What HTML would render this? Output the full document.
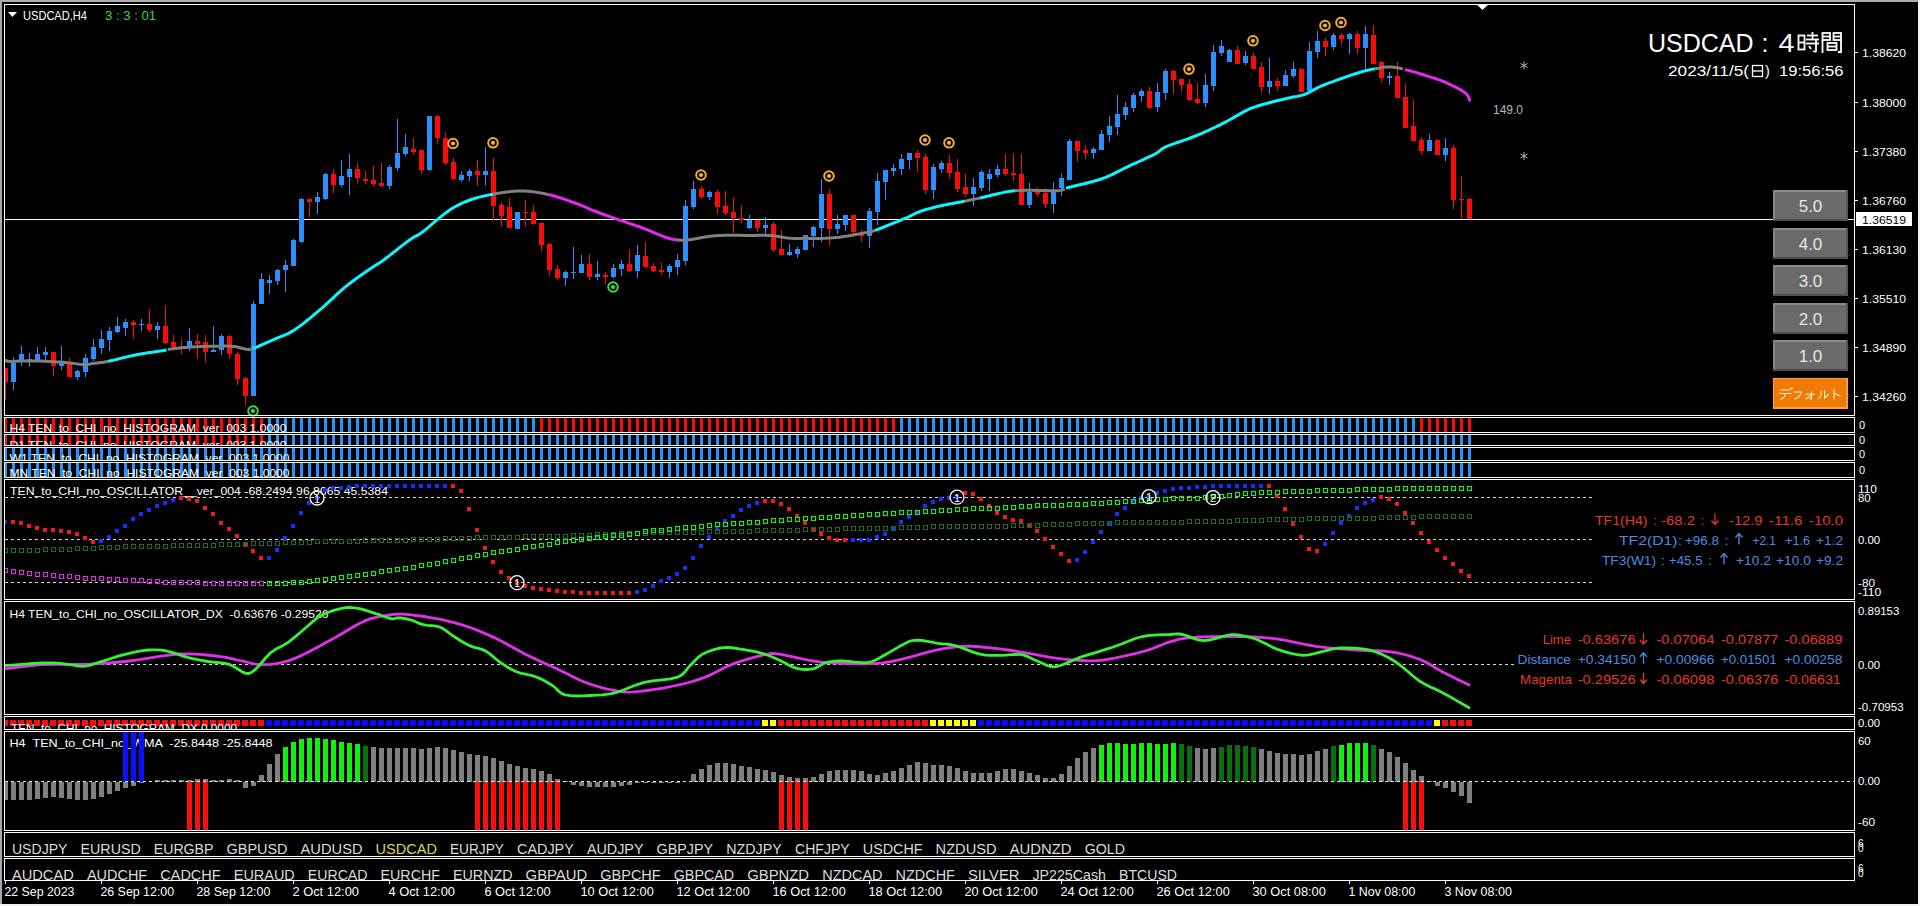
<!DOCTYPE html><html><head><meta charset="utf-8"><style>
html,body{margin:0;padding:0;background:#000;overflow:hidden;width:1920px;height:906px}
svg{display:block}
text{font-family:"Liberation Sans", sans-serif;white-space:pre}
</style></head><body>
<svg width="1920" height="906" viewBox="0 0 1920 906">
<defs><clipPath id="mainclip"><rect x="5" y="5" width="1849" height="410"/></clipPath><clipPath id="paneclip"><rect x="5" y="0" width="1849" height="906"/></clipPath></defs>
<rect x="0" y="0" width="1920" height="906" fill="#000"/>

<rect x="0" y="0" width="1920" height="2" fill="#ababab"/>
<rect x="0" y="0" width="2" height="906" fill="#a8a8a8"/>
<rect x="1918" y="0" width="2" height="906" fill="#f4f4f4"/>
<rect x="0" y="904" width="1920" height="2" fill="#f0f0f0"/>
<rect x="5" y="219" width="1849" height="1" fill="#fff"/>
<g shape-rendering="crispEdges" clip-path="url(#mainclip)"><rect x="5" y="368" width="1" height="32" fill="#fa0a0a"/><rect x="3" y="368" width="5" height="14" fill="#fa0a0a"/><rect x="13" y="357" width="1" height="33" fill="#2b90fb"/><rect x="11" y="363" width="5" height="19" fill="#2b90fb"/><rect x="21" y="346" width="1" height="20" fill="#2b90fb"/><rect x="19" y="354" width="5" height="6" fill="#2b90fb"/><rect x="29" y="353" width="1" height="14" fill="#2b90fb"/><rect x="27" y="359" width="5" height="1" fill="#2b90fb"/><rect x="37" y="347" width="1" height="13" fill="#2b90fb"/><rect x="35" y="354" width="5" height="6" fill="#2b90fb"/><rect x="45" y="347" width="1" height="13" fill="#2b90fb"/><rect x="43" y="352" width="5" height="3" fill="#2b90fb"/><rect x="53" y="352" width="1" height="24" fill="#fa0a0a"/><rect x="51" y="352" width="5" height="14" fill="#fa0a0a"/><rect x="61" y="346" width="1" height="24" fill="#2b90fb"/><rect x="59" y="363" width="5" height="3" fill="#2b90fb"/><rect x="69" y="358" width="1" height="19" fill="#fa0a0a"/><rect x="67" y="364" width="5" height="13" fill="#fa0a0a"/><rect x="77" y="370" width="1" height="10" fill="#2b90fb"/><rect x="75" y="371" width="5" height="6" fill="#2b90fb"/><rect x="85" y="354" width="1" height="23" fill="#2b90fb"/><rect x="83" y="358" width="5" height="14" fill="#2b90fb"/><rect x="93" y="339" width="1" height="22" fill="#2b90fb"/><rect x="91" y="347" width="5" height="12" fill="#2b90fb"/><rect x="101" y="330" width="1" height="24" fill="#2b90fb"/><rect x="99" y="339" width="5" height="9" fill="#2b90fb"/><rect x="109" y="327" width="1" height="24" fill="#2b90fb"/><rect x="107" y="331" width="5" height="9" fill="#2b90fb"/><rect x="117" y="317" width="1" height="16" fill="#2b90fb"/><rect x="115" y="326" width="5" height="6" fill="#2b90fb"/><rect x="125" y="319" width="1" height="17" fill="#2b90fb"/><rect x="123" y="322" width="5" height="6" fill="#2b90fb"/><rect x="133" y="320" width="1" height="19" fill="#fa0a0a"/><rect x="131" y="322" width="5" height="3" fill="#fa0a0a"/><rect x="141" y="319" width="1" height="12" fill="#2b90fb"/><rect x="139" y="324" width="5" height="1" fill="#2b90fb"/><rect x="149" y="309" width="1" height="23" fill="#fa0a0a"/><rect x="147" y="324" width="5" height="6" fill="#fa0a0a"/><rect x="157" y="322" width="1" height="17" fill="#2b90fb"/><rect x="155" y="326" width="5" height="4" fill="#2b90fb"/><rect x="165" y="305" width="1" height="39" fill="#fa0a0a"/><rect x="163" y="326" width="5" height="17" fill="#fa0a0a"/><rect x="173" y="335" width="1" height="12" fill="#fa0a0a"/><rect x="171" y="342" width="5" height="5" fill="#fa0a0a"/><rect x="181" y="339" width="1" height="15" fill="#fa0a0a"/><rect x="179" y="346" width="5" height="1" fill="#fa0a0a"/><rect x="189" y="328" width="1" height="23" fill="#2b90fb"/><rect x="187" y="341" width="5" height="6" fill="#2b90fb"/><rect x="197" y="334" width="1" height="25" fill="#fa0a0a"/><rect x="195" y="341" width="5" height="3" fill="#fa0a0a"/><rect x="205" y="335" width="1" height="28" fill="#fa0a0a"/><rect x="203" y="342" width="5" height="10" fill="#fa0a0a"/><rect x="213" y="326" width="1" height="26" fill="#2b90fb"/><rect x="211" y="350" width="5" height="2" fill="#2b90fb"/><rect x="221" y="334" width="1" height="21" fill="#2b90fb"/><rect x="219" y="336" width="5" height="14" fill="#2b90fb"/><rect x="229" y="335" width="1" height="24" fill="#fa0a0a"/><rect x="227" y="336" width="5" height="18" fill="#fa0a0a"/><rect x="237" y="352" width="1" height="33" fill="#fa0a0a"/><rect x="235" y="354" width="5" height="25" fill="#fa0a0a"/><rect x="245" y="377" width="1" height="28" fill="#fa0a0a"/><rect x="243" y="378" width="5" height="18" fill="#fa0a0a"/><rect x="253" y="301" width="1" height="95" fill="#2b90fb"/><rect x="251" y="304" width="5" height="92" fill="#2b90fb"/><rect x="261" y="273" width="1" height="31" fill="#2b90fb"/><rect x="259" y="279" width="5" height="25" fill="#2b90fb"/><rect x="269" y="275" width="1" height="19" fill="#2b90fb"/><rect x="267" y="280" width="5" height="3" fill="#2b90fb"/><rect x="277" y="269" width="1" height="16" fill="#2b90fb"/><rect x="275" y="270" width="5" height="11" fill="#2b90fb"/><rect x="285" y="260" width="1" height="32" fill="#2b90fb"/><rect x="283" y="265" width="5" height="5" fill="#2b90fb"/><rect x="293" y="239" width="1" height="27" fill="#2b90fb"/><rect x="291" y="240" width="5" height="26" fill="#2b90fb"/><rect x="301" y="198" width="1" height="45" fill="#2b90fb"/><rect x="299" y="199" width="5" height="43" fill="#2b90fb"/><rect x="309" y="199" width="1" height="18" fill="#fa0a0a"/><rect x="307" y="199" width="5" height="3" fill="#fa0a0a"/><rect x="317" y="192" width="1" height="22" fill="#2b90fb"/><rect x="315" y="197" width="5" height="5" fill="#2b90fb"/><rect x="325" y="173" width="1" height="27" fill="#2b90fb"/><rect x="323" y="174" width="5" height="25" fill="#2b90fb"/><rect x="333" y="169" width="1" height="24" fill="#fa0a0a"/><rect x="331" y="174" width="5" height="11" fill="#fa0a0a"/><rect x="341" y="160" width="1" height="27" fill="#2b90fb"/><rect x="339" y="176" width="5" height="9" fill="#2b90fb"/><rect x="349" y="154" width="1" height="41" fill="#2b90fb"/><rect x="347" y="169" width="5" height="8" fill="#2b90fb"/><rect x="357" y="163" width="1" height="21" fill="#fa0a0a"/><rect x="355" y="169" width="5" height="9" fill="#fa0a0a"/><rect x="365" y="171" width="1" height="13" fill="#fa0a0a"/><rect x="363" y="179" width="5" height="2" fill="#fa0a0a"/><rect x="373" y="166" width="1" height="20" fill="#fa0a0a"/><rect x="371" y="180" width="5" height="4" fill="#fa0a0a"/><rect x="381" y="163" width="1" height="24" fill="#fa0a0a"/><rect x="379" y="183" width="5" height="3" fill="#fa0a0a"/><rect x="389" y="165" width="1" height="24" fill="#2b90fb"/><rect x="387" y="167" width="5" height="19" fill="#2b90fb"/><rect x="397" y="119" width="1" height="52" fill="#2b90fb"/><rect x="395" y="153" width="5" height="15" fill="#2b90fb"/><rect x="405" y="134" width="1" height="22" fill="#2b90fb"/><rect x="403" y="147" width="5" height="7" fill="#2b90fb"/><rect x="413" y="138" width="1" height="17" fill="#fa0a0a"/><rect x="411" y="149" width="5" height="3" fill="#fa0a0a"/><rect x="421" y="150" width="1" height="24" fill="#fa0a0a"/><rect x="419" y="150" width="5" height="20" fill="#fa0a0a"/><rect x="429" y="116" width="1" height="55" fill="#2b90fb"/><rect x="427" y="116" width="5" height="54" fill="#2b90fb"/><rect x="437" y="115" width="1" height="29" fill="#fa0a0a"/><rect x="435" y="116" width="5" height="22" fill="#fa0a0a"/><rect x="445" y="132" width="1" height="33" fill="#fa0a0a"/><rect x="443" y="138" width="5" height="25" fill="#fa0a0a"/><rect x="453" y="158" width="1" height="22" fill="#fa0a0a"/><rect x="451" y="162" width="5" height="17" fill="#fa0a0a"/><rect x="461" y="171" width="1" height="11" fill="#2b90fb"/><rect x="459" y="175" width="5" height="5" fill="#2b90fb"/><rect x="469" y="169" width="1" height="12" fill="#2b90fb"/><rect x="467" y="171" width="5" height="5" fill="#2b90fb"/><rect x="477" y="160" width="1" height="26" fill="#fa0a0a"/><rect x="475" y="171" width="5" height="4" fill="#fa0a0a"/><rect x="485" y="147" width="1" height="38" fill="#2b90fb"/><rect x="483" y="171" width="5" height="4" fill="#2b90fb"/><rect x="493" y="158" width="1" height="62" fill="#fa0a0a"/><rect x="491" y="171" width="5" height="35" fill="#fa0a0a"/><rect x="501" y="202" width="1" height="25" fill="#fa0a0a"/><rect x="499" y="205" width="5" height="11" fill="#fa0a0a"/><rect x="509" y="198" width="1" height="30" fill="#fa0a0a"/><rect x="507" y="207" width="5" height="21" fill="#fa0a0a"/><rect x="517" y="212" width="1" height="17" fill="#2b90fb"/><rect x="515" y="212" width="5" height="17" fill="#2b90fb"/><rect x="525" y="200" width="1" height="27" fill="#fa0a0a"/><rect x="523" y="212" width="5" height="1" fill="#fa0a0a"/><rect x="533" y="205" width="1" height="20" fill="#fa0a0a"/><rect x="531" y="212" width="5" height="12" fill="#fa0a0a"/><rect x="541" y="223" width="1" height="29" fill="#fa0a0a"/><rect x="539" y="223" width="5" height="22" fill="#fa0a0a"/><rect x="549" y="243" width="1" height="33" fill="#fa0a0a"/><rect x="547" y="244" width="5" height="26" fill="#fa0a0a"/><rect x="557" y="265" width="1" height="15" fill="#fa0a0a"/><rect x="555" y="269" width="5" height="9" fill="#fa0a0a"/><rect x="565" y="271" width="1" height="15" fill="#2b90fb"/><rect x="563" y="272" width="5" height="6" fill="#2b90fb"/><rect x="573" y="247" width="1" height="32" fill="#2b90fb"/><rect x="571" y="272" width="5" height="1" fill="#2b90fb"/><rect x="581" y="255" width="1" height="18" fill="#2b90fb"/><rect x="579" y="264" width="5" height="9" fill="#2b90fb"/><rect x="589" y="254" width="1" height="26" fill="#fa0a0a"/><rect x="587" y="264" width="5" height="13" fill="#fa0a0a"/><rect x="597" y="261" width="1" height="19" fill="#2b90fb"/><rect x="595" y="274" width="5" height="3" fill="#2b90fb"/><rect x="605" y="272" width="1" height="12" fill="#fa0a0a"/><rect x="603" y="275" width="5" height="2" fill="#fa0a0a"/><rect x="613" y="264" width="1" height="14" fill="#2b90fb"/><rect x="611" y="268" width="5" height="9" fill="#2b90fb"/><rect x="621" y="260" width="1" height="16" fill="#2b90fb"/><rect x="619" y="264" width="5" height="5" fill="#2b90fb"/><rect x="629" y="249" width="1" height="23" fill="#fa0a0a"/><rect x="627" y="264" width="5" height="7" fill="#fa0a0a"/><rect x="637" y="245" width="1" height="33" fill="#2b90fb"/><rect x="635" y="255" width="5" height="16" fill="#2b90fb"/><rect x="645" y="242" width="1" height="26" fill="#fa0a0a"/><rect x="643" y="256" width="5" height="11" fill="#fa0a0a"/><rect x="653" y="263" width="1" height="9" fill="#fa0a0a"/><rect x="651" y="266" width="5" height="5" fill="#fa0a0a"/><rect x="661" y="263" width="1" height="12" fill="#fa0a0a"/><rect x="659" y="270" width="5" height="2" fill="#fa0a0a"/><rect x="669" y="264" width="1" height="14" fill="#2b90fb"/><rect x="667" y="266" width="5" height="6" fill="#2b90fb"/><rect x="677" y="254" width="1" height="21" fill="#2b90fb"/><rect x="675" y="260" width="5" height="7" fill="#2b90fb"/><rect x="685" y="200" width="1" height="65" fill="#2b90fb"/><rect x="683" y="206" width="5" height="55" fill="#2b90fb"/><rect x="693" y="181" width="1" height="28" fill="#2b90fb"/><rect x="691" y="189" width="5" height="18" fill="#2b90fb"/><rect x="701" y="186" width="1" height="13" fill="#fa0a0a"/><rect x="699" y="189" width="5" height="8" fill="#fa0a0a"/><rect x="709" y="191" width="1" height="9" fill="#2b90fb"/><rect x="707" y="192" width="5" height="5" fill="#2b90fb"/><rect x="717" y="190" width="1" height="24" fill="#fa0a0a"/><rect x="715" y="192" width="5" height="15" fill="#fa0a0a"/><rect x="725" y="191" width="1" height="24" fill="#fa0a0a"/><rect x="723" y="206" width="5" height="7" fill="#fa0a0a"/><rect x="733" y="197" width="1" height="36" fill="#fa0a0a"/><rect x="731" y="212" width="5" height="6" fill="#fa0a0a"/><rect x="741" y="205" width="1" height="18" fill="#fa0a0a"/><rect x="739" y="218" width="5" height="2" fill="#fa0a0a"/><rect x="749" y="215" width="1" height="14" fill="#2b90fb"/><rect x="747" y="220" width="5" height="8" fill="#2b90fb"/><rect x="757" y="220" width="1" height="12" fill="#fa0a0a"/><rect x="755" y="220" width="5" height="8" fill="#fa0a0a"/><rect x="765" y="217" width="1" height="17" fill="#2b90fb"/><rect x="763" y="225" width="5" height="3" fill="#2b90fb"/><rect x="773" y="222" width="1" height="30" fill="#fa0a0a"/><rect x="771" y="224" width="5" height="26" fill="#fa0a0a"/><rect x="781" y="230" width="1" height="25" fill="#fa0a0a"/><rect x="779" y="249" width="5" height="6" fill="#fa0a0a"/><rect x="789" y="244" width="1" height="12" fill="#2b90fb"/><rect x="787" y="252" width="5" height="3" fill="#2b90fb"/><rect x="797" y="247" width="1" height="11" fill="#2b90fb"/><rect x="795" y="249" width="5" height="5" fill="#2b90fb"/><rect x="805" y="235" width="1" height="15" fill="#2b90fb"/><rect x="803" y="235" width="5" height="15" fill="#2b90fb"/><rect x="813" y="226" width="1" height="21" fill="#2b90fb"/><rect x="811" y="227" width="5" height="9" fill="#2b90fb"/><rect x="821" y="179" width="1" height="63" fill="#2b90fb"/><rect x="819" y="194" width="5" height="34" fill="#2b90fb"/><rect x="829" y="189" width="1" height="56" fill="#fa0a0a"/><rect x="827" y="194" width="5" height="35" fill="#fa0a0a"/><rect x="837" y="215" width="1" height="19" fill="#2b90fb"/><rect x="835" y="224" width="5" height="5" fill="#2b90fb"/><rect x="845" y="215" width="1" height="16" fill="#2b90fb"/><rect x="843" y="215" width="5" height="10" fill="#2b90fb"/><rect x="853" y="215" width="1" height="22" fill="#fa0a0a"/><rect x="851" y="215" width="5" height="17" fill="#fa0a0a"/><rect x="861" y="229" width="1" height="13" fill="#fa0a0a"/><rect x="859" y="234" width="5" height="2" fill="#fa0a0a"/><rect x="869" y="208" width="1" height="40" fill="#2b90fb"/><rect x="867" y="211" width="5" height="25" fill="#2b90fb"/><rect x="877" y="173" width="1" height="52" fill="#2b90fb"/><rect x="875" y="181" width="5" height="31" fill="#2b90fb"/><rect x="885" y="170" width="1" height="30" fill="#2b90fb"/><rect x="883" y="170" width="5" height="12" fill="#2b90fb"/><rect x="893" y="164" width="1" height="12" fill="#2b90fb"/><rect x="891" y="168" width="5" height="3" fill="#2b90fb"/><rect x="901" y="154" width="1" height="21" fill="#2b90fb"/><rect x="899" y="159" width="5" height="10" fill="#2b90fb"/><rect x="909" y="153" width="1" height="16" fill="#2b90fb"/><rect x="907" y="153" width="5" height="7" fill="#2b90fb"/><rect x="917" y="150" width="1" height="22" fill="#fa0a0a"/><rect x="915" y="153" width="5" height="5" fill="#fa0a0a"/><rect x="925" y="154" width="1" height="40" fill="#fa0a0a"/><rect x="923" y="157" width="5" height="33" fill="#fa0a0a"/><rect x="933" y="164" width="1" height="35" fill="#2b90fb"/><rect x="931" y="167" width="5" height="23" fill="#2b90fb"/><rect x="941" y="161" width="1" height="12" fill="#2b90fb"/><rect x="939" y="163" width="5" height="6" fill="#2b90fb"/><rect x="949" y="155" width="1" height="24" fill="#fa0a0a"/><rect x="947" y="163" width="5" height="10" fill="#fa0a0a"/><rect x="957" y="159" width="1" height="33" fill="#fa0a0a"/><rect x="955" y="172" width="5" height="17" fill="#fa0a0a"/><rect x="965" y="174" width="1" height="23" fill="#fa0a0a"/><rect x="963" y="187" width="5" height="7" fill="#fa0a0a"/><rect x="973" y="178" width="1" height="28" fill="#2b90fb"/><rect x="971" y="187" width="5" height="7" fill="#2b90fb"/><rect x="981" y="170" width="1" height="21" fill="#2b90fb"/><rect x="979" y="172" width="5" height="16" fill="#2b90fb"/><rect x="989" y="169" width="1" height="22" fill="#2b90fb"/><rect x="987" y="174" width="5" height="5" fill="#2b90fb"/><rect x="997" y="165" width="1" height="12" fill="#2b90fb"/><rect x="995" y="169" width="5" height="6" fill="#2b90fb"/><rect x="1005" y="154" width="1" height="22" fill="#fa0a0a"/><rect x="1003" y="169" width="5" height="5" fill="#fa0a0a"/><rect x="1013" y="153" width="1" height="28" fill="#fa0a0a"/><rect x="1011" y="173" width="5" height="2" fill="#fa0a0a"/><rect x="1021" y="154" width="1" height="51" fill="#fa0a0a"/><rect x="1019" y="174" width="5" height="31" fill="#fa0a0a"/><rect x="1029" y="183" width="1" height="25" fill="#2b90fb"/><rect x="1027" y="192" width="5" height="13" fill="#2b90fb"/><rect x="1037" y="187" width="1" height="10" fill="#fa0a0a"/><rect x="1035" y="192" width="5" height="2" fill="#fa0a0a"/><rect x="1045" y="188" width="1" height="20" fill="#fa0a0a"/><rect x="1043" y="193" width="5" height="11" fill="#fa0a0a"/><rect x="1053" y="182" width="1" height="31" fill="#2b90fb"/><rect x="1051" y="192" width="5" height="12" fill="#2b90fb"/><rect x="1061" y="174" width="1" height="22" fill="#2b90fb"/><rect x="1059" y="178" width="5" height="10" fill="#2b90fb"/><rect x="1069" y="139" width="1" height="41" fill="#2b90fb"/><rect x="1067" y="141" width="5" height="39" fill="#2b90fb"/><rect x="1077" y="141" width="1" height="21" fill="#fa0a0a"/><rect x="1075" y="141" width="5" height="10" fill="#fa0a0a"/><rect x="1085" y="145" width="1" height="14" fill="#fa0a0a"/><rect x="1083" y="150" width="5" height="3" fill="#fa0a0a"/><rect x="1093" y="147" width="1" height="12" fill="#2b90fb"/><rect x="1091" y="149" width="5" height="4" fill="#2b90fb"/><rect x="1101" y="130" width="1" height="20" fill="#2b90fb"/><rect x="1099" y="134" width="5" height="16" fill="#2b90fb"/><rect x="1109" y="116" width="1" height="26" fill="#2b90fb"/><rect x="1107" y="126" width="5" height="9" fill="#2b90fb"/><rect x="1117" y="95" width="1" height="40" fill="#2b90fb"/><rect x="1115" y="114" width="5" height="13" fill="#2b90fb"/><rect x="1125" y="102" width="1" height="18" fill="#2b90fb"/><rect x="1123" y="107" width="5" height="8" fill="#2b90fb"/><rect x="1133" y="93" width="1" height="19" fill="#2b90fb"/><rect x="1131" y="95" width="5" height="13" fill="#2b90fb"/><rect x="1141" y="89" width="1" height="13" fill="#2b90fb"/><rect x="1139" y="91" width="5" height="5" fill="#2b90fb"/><rect x="1149" y="87" width="1" height="22" fill="#fa0a0a"/><rect x="1147" y="91" width="5" height="17" fill="#fa0a0a"/><rect x="1157" y="83" width="1" height="29" fill="#2b90fb"/><rect x="1155" y="92" width="5" height="15" fill="#2b90fb"/><rect x="1165" y="69" width="1" height="31" fill="#2b90fb"/><rect x="1163" y="71" width="5" height="22" fill="#2b90fb"/><rect x="1173" y="70" width="1" height="24" fill="#fa0a0a"/><rect x="1171" y="71" width="5" height="9" fill="#fa0a0a"/><rect x="1181" y="79" width="1" height="13" fill="#fa0a0a"/><rect x="1179" y="79" width="5" height="6" fill="#fa0a0a"/><rect x="1189" y="79" width="1" height="22" fill="#fa0a0a"/><rect x="1187" y="84" width="5" height="16" fill="#fa0a0a"/><rect x="1197" y="83" width="1" height="21" fill="#fa0a0a"/><rect x="1195" y="99" width="5" height="4" fill="#fa0a0a"/><rect x="1205" y="74" width="1" height="33" fill="#2b90fb"/><rect x="1203" y="85" width="5" height="18" fill="#2b90fb"/><rect x="1213" y="45" width="1" height="46" fill="#2b90fb"/><rect x="1211" y="52" width="5" height="34" fill="#2b90fb"/><rect x="1221" y="40" width="1" height="16" fill="#2b90fb"/><rect x="1219" y="46" width="5" height="7" fill="#2b90fb"/><rect x="1229" y="49" width="1" height="13" fill="#2b90fb"/><rect x="1227" y="50" width="5" height="12" fill="#2b90fb"/><rect x="1237" y="46" width="1" height="18" fill="#fa0a0a"/><rect x="1235" y="50" width="5" height="14" fill="#fa0a0a"/><rect x="1245" y="51" width="1" height="14" fill="#2b90fb"/><rect x="1243" y="56" width="5" height="7" fill="#2b90fb"/><rect x="1253" y="52" width="1" height="17" fill="#fa0a0a"/><rect x="1251" y="56" width="5" height="13" fill="#fa0a0a"/><rect x="1261" y="62" width="1" height="31" fill="#fa0a0a"/><rect x="1259" y="67" width="5" height="20" fill="#fa0a0a"/><rect x="1269" y="58" width="1" height="36" fill="#2b90fb"/><rect x="1267" y="81" width="5" height="6" fill="#2b90fb"/><rect x="1277" y="78" width="1" height="13" fill="#fa0a0a"/><rect x="1275" y="81" width="5" height="5" fill="#fa0a0a"/><rect x="1285" y="70" width="1" height="16" fill="#2b90fb"/><rect x="1283" y="75" width="5" height="11" fill="#2b90fb"/><rect x="1293" y="62" width="1" height="16" fill="#2b90fb"/><rect x="1291" y="69" width="5" height="7" fill="#2b90fb"/><rect x="1301" y="68" width="1" height="25" fill="#fa0a0a"/><rect x="1299" y="69" width="5" height="23" fill="#fa0a0a"/><rect x="1309" y="42" width="1" height="49" fill="#2b90fb"/><rect x="1307" y="51" width="5" height="40" fill="#2b90fb"/><rect x="1317" y="31" width="1" height="27" fill="#2b90fb"/><rect x="1315" y="41" width="5" height="11" fill="#2b90fb"/><rect x="1325" y="38" width="1" height="18" fill="#fa0a0a"/><rect x="1323" y="41" width="5" height="6" fill="#fa0a0a"/><rect x="1333" y="33" width="1" height="17" fill="#2b90fb"/><rect x="1331" y="35" width="5" height="12" fill="#2b90fb"/><rect x="1341" y="33" width="1" height="12" fill="#fa0a0a"/><rect x="1339" y="35" width="5" height="4" fill="#fa0a0a"/><rect x="1349" y="33" width="1" height="21" fill="#2b90fb"/><rect x="1347" y="34" width="5" height="5" fill="#2b90fb"/><rect x="1357" y="31" width="1" height="23" fill="#fa0a0a"/><rect x="1355" y="34" width="5" height="14" fill="#fa0a0a"/><rect x="1365" y="26" width="1" height="44" fill="#2b90fb"/><rect x="1363" y="34" width="5" height="14" fill="#2b90fb"/><rect x="1373" y="25" width="1" height="39" fill="#fa0a0a"/><rect x="1371" y="35" width="5" height="29" fill="#fa0a0a"/><rect x="1381" y="61" width="1" height="22" fill="#fa0a0a"/><rect x="1379" y="62" width="5" height="16" fill="#fa0a0a"/><rect x="1389" y="72" width="1" height="13" fill="#2b90fb"/><rect x="1387" y="76" width="5" height="2" fill="#2b90fb"/><rect x="1397" y="62" width="1" height="36" fill="#fa0a0a"/><rect x="1395" y="76" width="5" height="22" fill="#fa0a0a"/><rect x="1405" y="84" width="1" height="44" fill="#fa0a0a"/><rect x="1403" y="97" width="5" height="31" fill="#fa0a0a"/><rect x="1413" y="100" width="1" height="41" fill="#fa0a0a"/><rect x="1411" y="126" width="5" height="15" fill="#fa0a0a"/><rect x="1421" y="137" width="1" height="18" fill="#fa0a0a"/><rect x="1419" y="140" width="5" height="11" fill="#fa0a0a"/><rect x="1429" y="134" width="1" height="17" fill="#2b90fb"/><rect x="1427" y="140" width="5" height="11" fill="#2b90fb"/><rect x="1437" y="139" width="1" height="16" fill="#fa0a0a"/><rect x="1435" y="140" width="5" height="15" fill="#fa0a0a"/><rect x="1445" y="138" width="1" height="23" fill="#2b90fb"/><rect x="1443" y="148" width="5" height="7" fill="#2b90fb"/><rect x="1453" y="145" width="1" height="64" fill="#fa0a0a"/><rect x="1451" y="148" width="5" height="52" fill="#fa0a0a"/><rect x="1461" y="176" width="1" height="43" fill="#fa0a0a"/><rect x="1459" y="199" width="5" height="1" fill="#fa0a0a"/><rect x="1469" y="198" width="1" height="21" fill="#fa0a0a"/><rect x="1467" y="199" width="5" height="20" fill="#fa0a0a"/></g>
<path d="M5.0,360.0 L5.3,360.1 L5.5,360.3 L5.8,360.5 L6.2,360.7 L6.7,361.0 L7.4,361.2 L8.3,361.3 L9.5,361.4 L11.0,361.4 L12.9,361.4 L14.9,361.3 L17.2,361.2 L19.6,361.1 L22.0,361.0 L24.5,360.9 L27.0,360.9 L29.5,360.9 L32.3,360.9 L35.1,361.0 L37.9,361.0 L40.8,361.1 L43.6,361.2 L46.2,361.3 L48.7,361.4 L51.0,361.5 L53.1,361.6 L55.1,361.7 L57.0,361.9 L58.9,362.0 L60.9,362.1 L62.9,362.3 L65.0,362.5 L67.3,362.7 L69.8,363.0 L72.3,363.3 L74.8,363.6 L77.4,364.0 L79.8,364.2 L82.0,364.4 L84.0,364.5 L85.7,364.5 L87.2,364.4 L88.5,364.3 L89.8,364.1 L90.9,363.9 L92.1,363.6 L93.4,363.4 L94.8,363.2 L96.2,363.0 L97.6,362.9 L99.0,362.8 L100.4,362.6 L101.9,362.4 L103.6,362.2 L105.7,361.8 L108.0,361.4" fill="none" stroke="#808080" stroke-width="3" stroke-linejoin="round" clip-path="url(#mainclip)"/>
<path d="M108.0,361.4 L110.7,360.8 L113.8,360.1 L117.1,359.3 L120.6,358.4 L124.2,357.5 L128.0,356.6 L131.7,355.8 L135.4,355.0 L139.3,354.3 L143.6,353.6 L148.0,352.8 L152.5,352.2 L156.7,351.5 L160.6,350.9 L164.0,350.4 L166.6,350.0" fill="none" stroke="#10f4fc" stroke-width="3" stroke-linejoin="round" clip-path="url(#mainclip)"/>
<path d="M168.3,349.7 L169.1,349.5 L169.3,349.4 L169.2,349.3 L169.0,349.3 L169.0,349.2 L169.4,349.1 L170.6,349.0 L172.4,348.8 L174.4,348.5 L176.7,348.3 L179.3,348.0 L182.2,347.7 L185.3,347.4 L188.7,347.2 L192.3,347.0 L196.4,346.8 L201.1,346.6 L206.3,346.4 L211.6,346.3 L216.9,346.2 L221.9,346.1 L226.4,346.1 L230.2,346.2 L233.3,346.4 L236.0,346.8 L238.3,347.2 L240.3,347.7 L242.0,348.2 L243.6,348.6 L245.0,349.0 L246.4,349.2 L247.5,349.4 L248.3,349.5 L248.7,349.6 L249.1,349.7 L249.5,349.7 L250.1,349.5 L251.1,349.1 L252.6,348.6" fill="none" stroke="#808080" stroke-width="3" stroke-linejoin="round" clip-path="url(#mainclip)"/>
<path d="M252.6,348.6 L254.7,347.8 L257.3,346.8 L260.3,345.5 L263.4,344.2 L266.7,342.7 L269.9,341.3 L273.0,339.9 L275.8,338.7 L278.3,337.6 L280.6,336.7 L282.8,335.8 L284.9,335.0 L287.1,334.0 L289.3,332.9 L291.7,331.6 L294.3,330.0 L297.1,328.1 L300.1,325.9 L303.2,323.6 L306.4,321.0 L309.7,318.4 L313.0,315.7 L316.2,312.9 L319.5,310.2 L322.8,307.4 L326.0,304.4 L329.3,301.4 L332.7,298.3 L336.0,295.2 L339.3,292.1 L342.7,289.2 L346.0,286.4 L349.4,283.7 L353.0,281.0 L356.6,278.3 L360.2,275.7 L363.7,273.3 L367.0,271.0 L370.0,269.0 L372.5,267.2 L374.5,265.9 L375.9,265.0 L376.9,264.4 L377.8,263.9 L378.6,263.5 L379.6,262.9 L381.0,261.9 L383.0,260.5 L385.6,258.5 L388.8,256.1 L392.4,253.3 L396.1,250.3 L399.8,247.4 L403.4,244.6 L406.7,242.1 L409.5,240.0 L411.7,238.5 L413.4,237.4 L414.8,236.7 L416.0,236.1 L417.2,235.4 L418.6,234.7 L420.3,233.6 L422.5,232.0 L425.2,229.9 L428.3,227.3 L431.7,224.4 L435.2,221.4 L438.9,218.4 L442.4,215.4 L445.9,212.8 L449.0,210.5 L451.9,208.6 L454.6,207.0 L457.2,205.6 L459.7,204.3 L462.2,203.1 L464.7,202.0 L467.3,201.0 L470.0,200.0 L472.7,199.0 L475.5,198.2 L478.3,197.4 L481.1,196.6 L483.9,196.0 L486.9,195.4 L489.9,194.8 L493.0,194.2" fill="none" stroke="#10f4fc" stroke-width="3" stroke-linejoin="round" clip-path="url(#mainclip)"/>
<path d="M493.0,194.2 L496.3,193.6 L499.7,193.1 L503.2,192.5 L506.8,192.0 L510.4,191.6 L514.0,191.3 L517.5,191.1 L521.0,191.0 L524.4,191.1 L527.8,191.3 L531.2,191.6 L534.6,192.0 L537.9,192.5 L541.3,193.1 L544.6,193.8 L548.0,194.5" fill="none" stroke="#808080" stroke-width="3" stroke-linejoin="round" clip-path="url(#mainclip)"/>
<path d="M548.0,194.5 L551.4,195.3 L554.8,196.2 L558.2,197.2 L561.6,198.3 L564.9,199.4 L568.3,200.6 L571.7,201.8 L575.0,203.0 L578.2,204.2 L581.3,205.4 L584.3,206.7 L587.2,207.9 L590.3,209.3 L593.6,210.6 L597.1,212.0 L601.0,213.5 L605.3,215.0 L609.9,216.7 L614.8,218.4 L619.8,220.1 L625.0,221.8 L630.1,223.6 L635.1,225.3 L640.0,227.0 L644.7,228.8 L649.4,230.7 L654.0,232.7 L658.6,234.6 L663.1,236.4 L667.7,238.0 L672.3,239.2 L677.0,240.0" fill="none" stroke="#e628ee" stroke-width="3" stroke-linejoin="round" clip-path="url(#mainclip)"/>
<path d="M677.0,240.0 L681.7,240.3 L686.4,240.0 L691.2,239.5 L695.9,238.7 L700.7,237.8 L705.5,236.9 L710.2,236.2 L715.0,235.7 L719.9,235.5 L725.0,235.3 L730.2,235.3 L735.3,235.3 L740.3,235.3 L745.0,235.4 L749.3,235.4 L753.0,235.4 L756.1,235.4 L758.5,235.3 L760.6,235.3 L762.3,235.3 L764.0,235.2 L765.7,235.3 L767.6,235.4 L770.0,235.5 L772.6,235.8 L775.3,236.1 L778.1,236.5 L781.1,237.0 L784.2,237.5 L787.5,237.9 L791.1,238.2 L795.0,238.4 L799.4,238.5 L804.2,238.6 L809.3,238.5 L814.7,238.5 L820.1,238.4 L825.4,238.2 L830.4,237.9 L835.0,237.6 L839.4,237.2 L843.7,236.6 L847.9,236.0 L851.9,235.3 L855.7,234.6 L859.1,233.9 L862.3,233.3 L865.0,232.8 L867.1,232.5 L868.4,232.3 L869.3,232.1 L870.0,232.1 L870.7,231.9 L871.6,231.6 L872.9,231.1 L875.0,230.4" fill="none" stroke="#808080" stroke-width="3" stroke-linejoin="round" clip-path="url(#mainclip)"/>
<path d="M875.0,230.4 L877.9,229.3 L881.4,228.0 L885.4,226.4 L889.7,224.7 L894.0,222.9 L898.1,221.3 L901.8,219.7 L905.0,218.4 L907.6,217.3 L909.7,216.3 L911.5,215.4 L913.1,214.5 L914.7,213.8 L916.2,213.0 L918.0,212.3 L920.0,211.5 L922.2,210.7 L924.5,210.0 L926.9,209.3 L929.4,208.6 L931.9,208.0 L934.5,207.3 L937.2,206.6 L940.0,206.0 L943.0,205.3 L946.1,204.7 L949.4,204.0 L952.8,203.4 L956.1,202.8 L959.3,202.2 L962.3,201.6 L965.0,201.1" fill="none" stroke="#10f4fc" stroke-width="3" stroke-linejoin="round" clip-path="url(#mainclip)"/>
<path d="M965.0,201.1 L967.2,200.7 L969.0,200.3 L970.5,200.0 L971.9,199.7 L973.3,199.4 L975.1,199.0 L977.2,198.6 L980.0,198.0" fill="none" stroke="#808080" stroke-width="3" stroke-linejoin="round" clip-path="url(#mainclip)"/>
<path d="M980.0,198.0 L983.4,197.2 L987.2,196.3 L991.4,195.2 L995.8,194.2 L1000.5,193.1 L1005.3,192.1 L1010.2,191.3 L1015.0,190.7" fill="none" stroke="#10f4fc" stroke-width="3" stroke-linejoin="round" clip-path="url(#mainclip)"/>
<path d="M1015.0,190.7 L1020.1,190.4 L1025.7,190.3 L1031.6,190.3 L1037.5,190.4 L1043.2,190.6 L1048.5,190.8 L1053.2,190.8 L1057.0,190.7 L1059.7,190.5 L1061.5,190.3 L1062.5,190.0 L1063.2,189.6 L1063.8,189.3 L1064.7,188.8" fill="none" stroke="#808080" stroke-width="3" stroke-linejoin="round" clip-path="url(#mainclip)"/>
<path d="M1066.1,188.2 L1068.4,187.5 L1071.6,186.7 L1075.4,185.8 L1079.7,184.8 L1084.3,183.7 L1088.9,182.5 L1093.6,181.3 L1098.0,180.0 L1102.0,178.7 L1105.7,177.3 L1109.1,175.9 L1112.5,174.3 L1115.7,172.7 L1118.9,171.1 L1122.0,169.5 L1125.2,167.9 L1128.5,166.3 L1131.9,164.7 L1135.5,163.1 L1139.1,161.5 L1142.7,159.8 L1146.2,158.2 L1149.5,156.7 L1152.4,155.3 L1155.0,154.0 L1157.0,152.9 L1158.4,151.9 L1159.5,151.0 L1160.4,150.2 L1161.3,149.5 L1162.3,148.7 L1163.7,147.8 L1165.6,146.9 L1168.1,145.9 L1170.9,144.8 L1174.1,143.7 L1177.4,142.5 L1180.9,141.3 L1184.2,140.2 L1187.4,139.1 L1190.3,138.0 L1192.9,137.0 L1195.4,136.0 L1197.8,135.0 L1200.0,134.1 L1202.3,133.1 L1204.5,132.1 L1206.7,131.1 L1209.0,130.1 L1211.3,129.0 L1213.5,128.0 L1215.7,127.0 L1217.8,125.9 L1220.1,124.8 L1222.4,123.6 L1224.9,122.3 L1227.5,121.0 L1230.3,119.5 L1233.1,117.9 L1236.1,116.1 L1239.1,114.4 L1242.3,112.6 L1245.6,110.8 L1249.1,109.2 L1252.7,107.7 L1256.7,106.3 L1261.0,105.0 L1265.6,103.7 L1270.3,102.5 L1275.0,101.3 L1279.4,100.3 L1283.5,99.3 L1287.0,98.4 L1290.0,97.7 L1292.6,97.1 L1294.8,96.7 L1296.8,96.4 L1298.7,96.0 L1300.5,95.6 L1302.3,95.1 L1304.3,94.5 L1306.3,93.7 L1308.3,92.8 L1310.2,91.8 L1312.1,90.7 L1314.0,89.6 L1316.0,88.6 L1318.0,87.5 L1320.2,86.5 L1322.5,85.5 L1324.8,84.6 L1327.3,83.6 L1329.8,82.7 L1332.3,81.8 L1334.9,80.8 L1337.4,79.9 L1340.0,79.0 L1342.6,78.1 L1345.3,77.1 L1348.1,76.2 L1350.9,75.2 L1353.6,74.3 L1356.2,73.5 L1358.7,72.7 L1361.0,72.0 L1363.1,71.4 L1365.0,70.9 L1366.7,70.5 L1368.4,70.1 L1370.0,69.7 L1371.6,69.4 L1373.2,69.1 L1375.0,68.8" fill="none" stroke="#10f4fc" stroke-width="3" stroke-linejoin="round" clip-path="url(#mainclip)"/>
<path d="M1375.0,68.8 L1376.8,68.5 L1378.7,68.2 L1380.6,67.8 L1382.4,67.5 L1384.3,67.3 L1386.2,67.1 L1388.1,67.0 L1390.0,67.0 L1391.8,67.1 L1393.6,67.2 L1395.4,67.5 L1397.2,67.8 L1399.0,68.1 L1400.9,68.5 L1402.9,69.0" fill="none" stroke="#808080" stroke-width="3" stroke-linejoin="round" clip-path="url(#mainclip)"/>
<path d="M1405.0,69.5 L1407.3,70.1 L1409.6,70.7 L1412.1,71.4 L1414.7,72.1 L1417.3,72.9 L1419.9,73.7 L1422.5,74.5 L1425.0,75.3 L1427.5,76.1 L1430.0,76.9 L1432.5,77.6 L1435.0,78.5 L1437.5,79.3 L1440.0,80.2 L1442.5,81.2 L1445.0,82.2 L1447.6,83.4 L1450.4,84.6 L1453.2,86.0 L1455.9,87.3 L1458.6,88.7 L1461.1,90.1 L1463.2,91.5 L1465.0,92.7 L1466.4,93.9 L1467.4,95.2 L1468.2,96.4 L1468.8,97.7 L1469.2,98.8 L1469.5,99.8 L1469.7,100.6 L1470.0,101.3" fill="none" stroke="#e628ee" stroke-width="3" stroke-linejoin="round" clip-path="url(#mainclip)"/>
<circle cx="453" cy="143.5" r="4.8" fill="none" stroke="#f4ae34" stroke-width="2"/><circle cx="453" cy="143.5" r="2.1" fill="#f4ae34"/>
<circle cx="493" cy="142.8" r="4.8" fill="none" stroke="#f4ae34" stroke-width="2"/><circle cx="493" cy="142.8" r="2.1" fill="#f4ae34"/>
<circle cx="701" cy="175" r="4.8" fill="none" stroke="#f4ae34" stroke-width="2"/><circle cx="701" cy="175" r="2.1" fill="#f4ae34"/>
<circle cx="829" cy="176" r="4.8" fill="none" stroke="#f4ae34" stroke-width="2"/><circle cx="829" cy="176" r="2.1" fill="#f4ae34"/>
<circle cx="925" cy="140" r="4.8" fill="none" stroke="#f4ae34" stroke-width="2"/><circle cx="925" cy="140" r="2.1" fill="#f4ae34"/>
<circle cx="949" cy="142.8" r="4.8" fill="none" stroke="#f4ae34" stroke-width="2"/><circle cx="949" cy="142.8" r="2.1" fill="#f4ae34"/>
<circle cx="1189" cy="69.1" r="4.8" fill="none" stroke="#f4ae34" stroke-width="2"/><circle cx="1189" cy="69.1" r="2.1" fill="#f4ae34"/>
<circle cx="1253" cy="40.8" r="4.8" fill="none" stroke="#f4ae34" stroke-width="2"/><circle cx="1253" cy="40.8" r="2.1" fill="#f4ae34"/>
<circle cx="1325" cy="25.5" r="4.8" fill="none" stroke="#f4ae34" stroke-width="2"/><circle cx="1325" cy="25.5" r="2.1" fill="#f4ae34"/>
<circle cx="1341" cy="22.5" r="4.8" fill="none" stroke="#f4ae34" stroke-width="2"/><circle cx="1341" cy="22.5" r="2.1" fill="#f4ae34"/>
<circle cx="253" cy="411" r="4.8" fill="none" stroke="#35e035" stroke-width="2"/><circle cx="253" cy="411" r="2.1" fill="#35e035"/>
<circle cx="613" cy="287" r="4.8" fill="none" stroke="#35e035" stroke-width="2"/><circle cx="613" cy="287" r="2.1" fill="#35e035"/>
<path d="M8,12 L17,12 L12.5,17 Z" fill="#fff"/>
<text x="23" y="19.5" font-size="12" fill="#fff" textLength="64" lengthAdjust="spacingAndGlyphs">USDCAD,H4</text>
<text x="105" y="19.5" font-size="12" fill="#3fd83f" textLength="51" lengthAdjust="spacingAndGlyphs">3 : 3 : 01</text>
<path d="M1476,4 L1489,4 L1482.5,10 Z" fill="#fff"/>
<text x="1648" y="51.5" font-size="25" fill="#fff">USDCAD</text>
<text x="1761.5" y="51.5" font-size="25" fill="#fff">:</text>
<text x="1778.5" y="51.5" font-size="25" fill="#fff" textLength="16" lengthAdjust="spacingAndGlyphs">4</text>
<g stroke="#fff" stroke-width="1.8" fill="none" stroke-linecap="butt">
<rect x="1798.5" y="35.5" width="6" height="14"/><line x1="1798.5" y1="42.5" x2="1804.5" y2="42.5"/>
<line x1="1807" y1="35.5" x2="1818" y2="35.5"/><line x1="1812.5" y1="32" x2="1812.5" y2="39.5"/><line x1="1806" y1="39.5" x2="1819" y2="39.5"/>
<line x1="1806" y1="43.5" x2="1819" y2="43.5"/><line x1="1816" y1="40" x2="1816" y2="52"/><path d="M1816,52 L1813,51"/><line x1="1809" y1="46" x2="1811" y2="49"/>
<rect x="1822.5" y="33" width="7.5" height="7"/><line x1="1822.5" y1="36.5" x2="1830" y2="36.5"/>
<rect x="1833.5" y="33" width="7.5" height="7"/><line x1="1833.5" y1="36.5" x2="1841" y2="36.5"/>
<line x1="1822.5" y1="40" x2="1822.5" y2="53"/><path d="M1841,40 L1841,52 L1838,52"/>
<rect x="1827.5" y="43" width="9" height="7"/><line x1="1827.5" y1="46.5" x2="1836.5" y2="46.5"/>
</g>
<text x="1668" y="76" font-size="14.5" fill="#fff" textLength="81" lengthAdjust="spacingAndGlyphs">2023/11/5(</text>
<g stroke="#fff" stroke-width="1.3" fill="none"><rect x="1752.5" y="65.5" width="10" height="11"/><line x1="1752.5" y1="71" x2="1762.5" y2="71"/></g>
<text x="1765" y="76" font-size="14.5" fill="#fff">)</text>
<text x="1779" y="76" font-size="14.5" fill="#fff" textLength="64.5" lengthAdjust="spacingAndGlyphs">19:56:56</text>
<text x="1493" y="114" font-size="12" fill="#b8b8b8">149.0</text>
<path d="M1524,61.5 L1524,69.5 M1520.5,63.5 L1527.5,67.5 M1520.5,67.5 L1527.5,63.5" stroke="#b8b8b8" stroke-width="1" fill="none"/>
<path d="M1524,152 L1524,160 M1520.5,154 L1527.5,158 M1520.5,158 L1527.5,154" stroke="#b8b8b8" stroke-width="1" fill="none"/>
<rect x="1773" y="190" width="75" height="31" fill="#6a6a6a"/>
<rect x="1773" y="190" width="75" height="2" fill="#8a8a8a"/><rect x="1773" y="190" width="2" height="31" fill="#858585"/>
<rect x="1773" y="219" width="75" height="2" fill="#4e4e4e"/><rect x="1846" y="190" width="2" height="31" fill="#555"/>
<text x="1810.5" y="212" font-size="17" fill="#e6e6e6" text-anchor="middle">5.0</text>
<rect x="1773" y="228" width="75" height="31" fill="#6a6a6a"/>
<rect x="1773" y="228" width="75" height="2" fill="#8a8a8a"/><rect x="1773" y="228" width="2" height="31" fill="#858585"/>
<rect x="1773" y="257" width="75" height="2" fill="#4e4e4e"/><rect x="1846" y="228" width="2" height="31" fill="#555"/>
<text x="1810.5" y="250" font-size="17" fill="#e6e6e6" text-anchor="middle">4.0</text>
<rect x="1773" y="265" width="75" height="31" fill="#6a6a6a"/>
<rect x="1773" y="265" width="75" height="2" fill="#8a8a8a"/><rect x="1773" y="265" width="2" height="31" fill="#858585"/>
<rect x="1773" y="294" width="75" height="2" fill="#4e4e4e"/><rect x="1846" y="265" width="2" height="31" fill="#555"/>
<text x="1810.5" y="287" font-size="17" fill="#e6e6e6" text-anchor="middle">3.0</text>
<rect x="1773" y="303" width="75" height="31" fill="#6a6a6a"/>
<rect x="1773" y="303" width="75" height="2" fill="#8a8a8a"/><rect x="1773" y="303" width="2" height="31" fill="#858585"/>
<rect x="1773" y="332" width="75" height="2" fill="#4e4e4e"/><rect x="1846" y="303" width="2" height="31" fill="#555"/>
<text x="1810.5" y="325" font-size="17" fill="#e6e6e6" text-anchor="middle">2.0</text>
<rect x="1773" y="340" width="75" height="31" fill="#6a6a6a"/>
<rect x="1773" y="340" width="75" height="2" fill="#8a8a8a"/><rect x="1773" y="340" width="2" height="31" fill="#858585"/>
<rect x="1773" y="369" width="75" height="2" fill="#4e4e4e"/><rect x="1846" y="340" width="2" height="31" fill="#555"/>
<text x="1810.5" y="362" font-size="17" fill="#e6e6e6" text-anchor="middle">1.0</text>
<rect x="1773" y="378" width="75" height="31" fill="#ffa035"/><rect x="1774" y="379" width="72" height="28" fill="#ef7a05"/>
<g stroke="#fff2cc" stroke-width="1.1" fill="none" stroke-linecap="round">
<path d="M1781,390 L1789,390 M1779.5,393.5 L1791,393.5 M1785.5,393.5 Q1785,397.5 1781,399.2 M1790.3,388.2 L1790.8,389.2 M1791.8,387.8 L1792.3,388.8"/>
<path d="M1794,392 L1801.2,392 Q1800.5,397 1794.5,399"/>
<path d="M1806,394.3 L1814.5,394.3 M1811.5,392 L1811.5,399 L1810,398.6 M1811.3,394.8 Q1809,397.5 1806,398.8"/>
<path d="M1821,391 L1821,395 Q1820.5,397.5 1818.3,398.5 M1824.5,390.5 L1824.5,398 L1828.5,394.5"/>
<path d="M1834,389.2 L1834,399 M1834,393.3 L1840,396"/>
</g>
<text x="1862" y="56.9" font-size="11.5" fill="#fff" textLength="44" lengthAdjust="spacingAndGlyphs">1.38620</text>
<text x="1862" y="106.9" font-size="11.5" fill="#fff" textLength="44" lengthAdjust="spacingAndGlyphs">1.38000</text>
<text x="1862" y="155.9" font-size="11.5" fill="#fff" textLength="44" lengthAdjust="spacingAndGlyphs">1.37380</text>
<text x="1862" y="204.9" font-size="11.5" fill="#fff" textLength="44" lengthAdjust="spacingAndGlyphs">1.36760</text>
<text x="1862" y="253.9" font-size="11.5" fill="#fff" textLength="44" lengthAdjust="spacingAndGlyphs">1.36130</text>
<text x="1862" y="302.9" font-size="11.5" fill="#fff" textLength="44" lengthAdjust="spacingAndGlyphs">1.35510</text>
<text x="1862" y="351.9" font-size="11.5" fill="#fff" textLength="44" lengthAdjust="spacingAndGlyphs">1.34890</text>
<text x="1862" y="400.9" font-size="11.5" fill="#fff" textLength="44" lengthAdjust="spacingAndGlyphs">1.34260</text>
<rect x="1856" y="212" width="56" height="14" fill="#fff"/>
<text x="1862" y="223.5" font-size="11.5" fill="#000" textLength="44" lengthAdjust="spacingAndGlyphs">1.36519</text>
<g shape-rendering="crispEdges" clip-path="url(#paneclip)"><rect x="4" y="418" width="3" height="14" fill="#fa0a0a"/><rect x="12" y="418" width="3" height="14" fill="#fa0a0a"/><rect x="20" y="418" width="3" height="14" fill="#fa0a0a"/><rect x="28" y="418" width="3" height="14" fill="#fa0a0a"/><rect x="36" y="418" width="3" height="14" fill="#fa0a0a"/><rect x="44" y="418" width="3" height="14" fill="#fa0a0a"/><rect x="52" y="418" width="3" height="14" fill="#fa0a0a"/><rect x="60" y="418" width="3" height="14" fill="#fa0a0a"/><rect x="68" y="418" width="3" height="14" fill="#fa0a0a"/><rect x="76" y="418" width="3" height="14" fill="#fa0a0a"/><rect x="84" y="418" width="3" height="14" fill="#fa0a0a"/><rect x="92" y="418" width="3" height="14" fill="#fa0a0a"/><rect x="100" y="418" width="3" height="14" fill="#fa0a0a"/><rect x="108" y="418" width="3" height="14" fill="#fa0a0a"/><rect x="116" y="418" width="3" height="14" fill="#fa0a0a"/><rect x="124" y="418" width="3" height="14" fill="#fa0a0a"/><rect x="132" y="418" width="3" height="14" fill="#fa0a0a"/><rect x="140" y="418" width="3" height="14" fill="#fa0a0a"/><rect x="148" y="418" width="3" height="14" fill="#fa0a0a"/><rect x="156" y="418" width="3" height="14" fill="#fa0a0a"/><rect x="164" y="418" width="3" height="14" fill="#fa0a0a"/><rect x="172" y="418" width="3" height="14" fill="#fa0a0a"/><rect x="180" y="418" width="3" height="14" fill="#fa0a0a"/><rect x="188" y="418" width="3" height="14" fill="#fa0a0a"/><rect x="196" y="418" width="3" height="14" fill="#fa0a0a"/><rect x="204" y="418" width="3" height="14" fill="#fa0a0a"/><rect x="212" y="418" width="3" height="14" fill="#fa0a0a"/><rect x="220" y="418" width="3" height="14" fill="#fa0a0a"/><rect x="228" y="418" width="3" height="14" fill="#fa0a0a"/><rect x="236" y="418" width="3" height="14" fill="#fa0a0a"/><rect x="244" y="418" width="3" height="14" fill="#fa0a0a"/><rect x="252" y="418" width="3" height="14" fill="#fa0a0a"/><rect x="260" y="418" width="3" height="14" fill="#fa0a0a"/><rect x="268" y="418" width="3" height="14" fill="#2b90fb"/><rect x="276" y="418" width="3" height="14" fill="#2b90fb"/><rect x="284" y="418" width="3" height="14" fill="#2b90fb"/><rect x="292" y="418" width="3" height="14" fill="#2b90fb"/><rect x="300" y="418" width="3" height="14" fill="#2b90fb"/><rect x="308" y="418" width="3" height="14" fill="#2b90fb"/><rect x="316" y="418" width="3" height="14" fill="#2b90fb"/><rect x="324" y="418" width="3" height="14" fill="#2b90fb"/><rect x="332" y="418" width="3" height="14" fill="#2b90fb"/><rect x="340" y="418" width="3" height="14" fill="#2b90fb"/><rect x="348" y="418" width="3" height="14" fill="#2b90fb"/><rect x="356" y="418" width="3" height="14" fill="#2b90fb"/><rect x="364" y="418" width="3" height="14" fill="#2b90fb"/><rect x="372" y="418" width="3" height="14" fill="#2b90fb"/><rect x="380" y="418" width="3" height="14" fill="#2b90fb"/><rect x="388" y="418" width="3" height="14" fill="#2b90fb"/><rect x="396" y="418" width="3" height="14" fill="#2b90fb"/><rect x="404" y="418" width="3" height="14" fill="#2b90fb"/><rect x="412" y="418" width="3" height="14" fill="#2b90fb"/><rect x="420" y="418" width="3" height="14" fill="#2b90fb"/><rect x="428" y="418" width="3" height="14" fill="#2b90fb"/><rect x="436" y="418" width="3" height="14" fill="#2b90fb"/><rect x="444" y="418" width="3" height="14" fill="#2b90fb"/><rect x="452" y="418" width="3" height="14" fill="#2b90fb"/><rect x="460" y="418" width="3" height="14" fill="#2b90fb"/><rect x="468" y="418" width="3" height="14" fill="#2b90fb"/><rect x="476" y="418" width="3" height="14" fill="#2b90fb"/><rect x="484" y="418" width="3" height="14" fill="#2b90fb"/><rect x="492" y="418" width="3" height="14" fill="#2b90fb"/><rect x="500" y="418" width="3" height="14" fill="#2b90fb"/><rect x="508" y="418" width="3" height="14" fill="#2b90fb"/><rect x="516" y="418" width="3" height="14" fill="#2b90fb"/><rect x="524" y="418" width="3" height="14" fill="#2b90fb"/><rect x="532" y="418" width="3" height="14" fill="#2b90fb"/><rect x="540" y="418" width="3" height="14" fill="#fa0a0a"/><rect x="548" y="418" width="3" height="14" fill="#fa0a0a"/><rect x="556" y="418" width="3" height="14" fill="#fa0a0a"/><rect x="564" y="418" width="3" height="14" fill="#fa0a0a"/><rect x="572" y="418" width="3" height="14" fill="#fa0a0a"/><rect x="580" y="418" width="3" height="14" fill="#fa0a0a"/><rect x="588" y="418" width="3" height="14" fill="#fa0a0a"/><rect x="596" y="418" width="3" height="14" fill="#fa0a0a"/><rect x="604" y="418" width="3" height="14" fill="#fa0a0a"/><rect x="612" y="418" width="3" height="14" fill="#fa0a0a"/><rect x="620" y="418" width="3" height="14" fill="#fa0a0a"/><rect x="628" y="418" width="3" height="14" fill="#fa0a0a"/><rect x="636" y="418" width="3" height="14" fill="#fa0a0a"/><rect x="644" y="418" width="3" height="14" fill="#fa0a0a"/><rect x="652" y="418" width="3" height="14" fill="#fa0a0a"/><rect x="660" y="418" width="3" height="14" fill="#fa0a0a"/><rect x="668" y="418" width="3" height="14" fill="#fa0a0a"/><rect x="676" y="418" width="3" height="14" fill="#fa0a0a"/><rect x="684" y="418" width="3" height="14" fill="#fa0a0a"/><rect x="692" y="418" width="3" height="14" fill="#fa0a0a"/><rect x="700" y="418" width="3" height="14" fill="#fa0a0a"/><rect x="708" y="418" width="3" height="14" fill="#fa0a0a"/><rect x="716" y="418" width="3" height="14" fill="#fa0a0a"/><rect x="724" y="418" width="3" height="14" fill="#fa0a0a"/><rect x="732" y="418" width="3" height="14" fill="#fa0a0a"/><rect x="740" y="418" width="3" height="14" fill="#fa0a0a"/><rect x="748" y="418" width="3" height="14" fill="#fa0a0a"/><rect x="756" y="418" width="3" height="14" fill="#fa0a0a"/><rect x="764" y="418" width="3" height="14" fill="#fa0a0a"/><rect x="772" y="418" width="3" height="14" fill="#fa0a0a"/><rect x="780" y="418" width="3" height="14" fill="#fa0a0a"/><rect x="788" y="418" width="3" height="14" fill="#fa0a0a"/><rect x="796" y="418" width="3" height="14" fill="#fa0a0a"/><rect x="804" y="418" width="3" height="14" fill="#fa0a0a"/><rect x="812" y="418" width="3" height="14" fill="#fa0a0a"/><rect x="820" y="418" width="3" height="14" fill="#fa0a0a"/><rect x="828" y="418" width="3" height="14" fill="#fa0a0a"/><rect x="836" y="418" width="3" height="14" fill="#fa0a0a"/><rect x="844" y="418" width="3" height="14" fill="#fa0a0a"/><rect x="852" y="418" width="3" height="14" fill="#fa0a0a"/><rect x="860" y="418" width="3" height="14" fill="#fa0a0a"/><rect x="868" y="418" width="3" height="14" fill="#fa0a0a"/><rect x="876" y="418" width="3" height="14" fill="#fa0a0a"/><rect x="884" y="418" width="3" height="14" fill="#fa0a0a"/><rect x="892" y="418" width="3" height="14" fill="#fa0a0a"/><rect x="900" y="418" width="3" height="14" fill="#2b90fb"/><rect x="908" y="418" width="3" height="14" fill="#2b90fb"/><rect x="916" y="418" width="3" height="14" fill="#2b90fb"/><rect x="924" y="418" width="3" height="14" fill="#2b90fb"/><rect x="932" y="418" width="3" height="14" fill="#2b90fb"/><rect x="940" y="418" width="3" height="14" fill="#2b90fb"/><rect x="948" y="418" width="3" height="14" fill="#2b90fb"/><rect x="956" y="418" width="3" height="14" fill="#2b90fb"/><rect x="964" y="418" width="3" height="14" fill="#2b90fb"/><rect x="972" y="418" width="3" height="14" fill="#2b90fb"/><rect x="980" y="418" width="3" height="14" fill="#2b90fb"/><rect x="988" y="418" width="3" height="14" fill="#2b90fb"/><rect x="996" y="418" width="3" height="14" fill="#2b90fb"/><rect x="1004" y="418" width="3" height="14" fill="#2b90fb"/><rect x="1012" y="418" width="3" height="14" fill="#2b90fb"/><rect x="1020" y="418" width="3" height="14" fill="#2b90fb"/><rect x="1028" y="418" width="3" height="14" fill="#2b90fb"/><rect x="1036" y="418" width="3" height="14" fill="#2b90fb"/><rect x="1044" y="418" width="3" height="14" fill="#2b90fb"/><rect x="1052" y="418" width="3" height="14" fill="#2b90fb"/><rect x="1060" y="418" width="3" height="14" fill="#2b90fb"/><rect x="1068" y="418" width="3" height="14" fill="#2b90fb"/><rect x="1076" y="418" width="3" height="14" fill="#2b90fb"/><rect x="1084" y="418" width="3" height="14" fill="#2b90fb"/><rect x="1092" y="418" width="3" height="14" fill="#2b90fb"/><rect x="1100" y="418" width="3" height="14" fill="#2b90fb"/><rect x="1108" y="418" width="3" height="14" fill="#2b90fb"/><rect x="1116" y="418" width="3" height="14" fill="#2b90fb"/><rect x="1124" y="418" width="3" height="14" fill="#2b90fb"/><rect x="1132" y="418" width="3" height="14" fill="#2b90fb"/><rect x="1140" y="418" width="3" height="14" fill="#2b90fb"/><rect x="1148" y="418" width="3" height="14" fill="#2b90fb"/><rect x="1156" y="418" width="3" height="14" fill="#2b90fb"/><rect x="1164" y="418" width="3" height="14" fill="#2b90fb"/><rect x="1172" y="418" width="3" height="14" fill="#2b90fb"/><rect x="1180" y="418" width="3" height="14" fill="#2b90fb"/><rect x="1188" y="418" width="3" height="14" fill="#2b90fb"/><rect x="1196" y="418" width="3" height="14" fill="#2b90fb"/><rect x="1204" y="418" width="3" height="14" fill="#2b90fb"/><rect x="1212" y="418" width="3" height="14" fill="#2b90fb"/><rect x="1220" y="418" width="3" height="14" fill="#2b90fb"/><rect x="1228" y="418" width="3" height="14" fill="#2b90fb"/><rect x="1236" y="418" width="3" height="14" fill="#2b90fb"/><rect x="1244" y="418" width="3" height="14" fill="#2b90fb"/><rect x="1252" y="418" width="3" height="14" fill="#2b90fb"/><rect x="1260" y="418" width="3" height="14" fill="#2b90fb"/><rect x="1268" y="418" width="3" height="14" fill="#2b90fb"/><rect x="1276" y="418" width="3" height="14" fill="#2b90fb"/><rect x="1284" y="418" width="3" height="14" fill="#2b90fb"/><rect x="1292" y="418" width="3" height="14" fill="#2b90fb"/><rect x="1300" y="418" width="3" height="14" fill="#2b90fb"/><rect x="1308" y="418" width="3" height="14" fill="#2b90fb"/><rect x="1316" y="418" width="3" height="14" fill="#2b90fb"/><rect x="1324" y="418" width="3" height="14" fill="#2b90fb"/><rect x="1332" y="418" width="3" height="14" fill="#2b90fb"/><rect x="1340" y="418" width="3" height="14" fill="#2b90fb"/><rect x="1348" y="418" width="3" height="14" fill="#2b90fb"/><rect x="1356" y="418" width="3" height="14" fill="#2b90fb"/><rect x="1364" y="418" width="3" height="14" fill="#2b90fb"/><rect x="1372" y="418" width="3" height="14" fill="#2b90fb"/><rect x="1380" y="418" width="3" height="14" fill="#2b90fb"/><rect x="1388" y="418" width="3" height="14" fill="#2b90fb"/><rect x="1396" y="418" width="3" height="14" fill="#2b90fb"/><rect x="1404" y="418" width="3" height="14" fill="#2b90fb"/><rect x="1412" y="418" width="3" height="14" fill="#2b90fb"/><rect x="1420" y="418" width="3" height="14" fill="#fa0a0a"/><rect x="1428" y="418" width="3" height="14" fill="#fa0a0a"/><rect x="1436" y="418" width="3" height="14" fill="#fa0a0a"/><rect x="1444" y="418" width="3" height="14" fill="#fa0a0a"/><rect x="1452" y="418" width="3" height="14" fill="#fa0a0a"/><rect x="1460" y="418" width="3" height="14" fill="#fa0a0a"/><rect x="1468" y="418" width="3" height="14" fill="#fa0a0a"/><rect x="4" y="435" width="3" height="10" fill="#fa0a0a"/><rect x="12" y="435" width="3" height="10" fill="#fa0a0a"/><rect x="20" y="435" width="3" height="10" fill="#fa0a0a"/><rect x="28" y="435" width="3" height="10" fill="#fa0a0a"/><rect x="36" y="435" width="3" height="10" fill="#fa0a0a"/><rect x="44" y="435" width="3" height="10" fill="#fa0a0a"/><rect x="52" y="435" width="3" height="10" fill="#fa0a0a"/><rect x="60" y="435" width="3" height="10" fill="#fa0a0a"/><rect x="68" y="435" width="3" height="10" fill="#fa0a0a"/><rect x="76" y="435" width="3" height="10" fill="#fa0a0a"/><rect x="84" y="435" width="3" height="10" fill="#fa0a0a"/><rect x="92" y="435" width="3" height="10" fill="#fa0a0a"/><rect x="100" y="435" width="3" height="10" fill="#fa0a0a"/><rect x="108" y="435" width="3" height="10" fill="#fa0a0a"/><rect x="116" y="435" width="3" height="10" fill="#fa0a0a"/><rect x="124" y="435" width="3" height="10" fill="#fa0a0a"/><rect x="132" y="435" width="3" height="10" fill="#fa0a0a"/><rect x="140" y="435" width="3" height="10" fill="#fa0a0a"/><rect x="148" y="435" width="3" height="10" fill="#fa0a0a"/><rect x="156" y="435" width="3" height="10" fill="#fa0a0a"/><rect x="164" y="435" width="3" height="10" fill="#fa0a0a"/><rect x="172" y="435" width="3" height="10" fill="#fa0a0a"/><rect x="180" y="435" width="3" height="10" fill="#fa0a0a"/><rect x="188" y="435" width="3" height="10" fill="#fa0a0a"/><rect x="196" y="435" width="3" height="10" fill="#fa0a0a"/><rect x="204" y="435" width="3" height="10" fill="#fa0a0a"/><rect x="212" y="435" width="3" height="10" fill="#fa0a0a"/><rect x="220" y="435" width="3" height="10" fill="#fa0a0a"/><rect x="228" y="435" width="3" height="10" fill="#fa0a0a"/><rect x="236" y="435" width="3" height="10" fill="#fa0a0a"/><rect x="244" y="435" width="3" height="10" fill="#fa0a0a"/><rect x="252" y="435" width="3" height="10" fill="#fa0a0a"/><rect x="260" y="435" width="3" height="10" fill="#fa0a0a"/><rect x="268" y="435" width="3" height="10" fill="#2b90fb"/><rect x="276" y="435" width="3" height="10" fill="#2b90fb"/><rect x="284" y="435" width="3" height="10" fill="#2b90fb"/><rect x="292" y="435" width="3" height="10" fill="#2b90fb"/><rect x="300" y="435" width="3" height="10" fill="#2b90fb"/><rect x="308" y="435" width="3" height="10" fill="#2b90fb"/><rect x="316" y="435" width="3" height="10" fill="#2b90fb"/><rect x="324" y="435" width="3" height="10" fill="#2b90fb"/><rect x="332" y="435" width="3" height="10" fill="#2b90fb"/><rect x="340" y="435" width="3" height="10" fill="#2b90fb"/><rect x="348" y="435" width="3" height="10" fill="#2b90fb"/><rect x="356" y="435" width="3" height="10" fill="#2b90fb"/><rect x="364" y="435" width="3" height="10" fill="#2b90fb"/><rect x="372" y="435" width="3" height="10" fill="#2b90fb"/><rect x="380" y="435" width="3" height="10" fill="#2b90fb"/><rect x="388" y="435" width="3" height="10" fill="#2b90fb"/><rect x="396" y="435" width="3" height="10" fill="#2b90fb"/><rect x="404" y="435" width="3" height="10" fill="#2b90fb"/><rect x="412" y="435" width="3" height="10" fill="#2b90fb"/><rect x="420" y="435" width="3" height="10" fill="#2b90fb"/><rect x="428" y="435" width="3" height="10" fill="#2b90fb"/><rect x="436" y="435" width="3" height="10" fill="#2b90fb"/><rect x="444" y="435" width="3" height="10" fill="#2b90fb"/><rect x="452" y="435" width="3" height="10" fill="#2b90fb"/><rect x="460" y="435" width="3" height="10" fill="#2b90fb"/><rect x="468" y="435" width="3" height="10" fill="#2b90fb"/><rect x="476" y="435" width="3" height="10" fill="#2b90fb"/><rect x="484" y="435" width="3" height="10" fill="#2b90fb"/><rect x="492" y="435" width="3" height="10" fill="#2b90fb"/><rect x="500" y="435" width="3" height="10" fill="#2b90fb"/><rect x="508" y="435" width="3" height="10" fill="#2b90fb"/><rect x="516" y="435" width="3" height="10" fill="#2b90fb"/><rect x="524" y="435" width="3" height="10" fill="#2b90fb"/><rect x="532" y="435" width="3" height="10" fill="#2b90fb"/><rect x="540" y="435" width="3" height="10" fill="#2b90fb"/><rect x="548" y="435" width="3" height="10" fill="#2b90fb"/><rect x="556" y="435" width="3" height="10" fill="#2b90fb"/><rect x="564" y="435" width="3" height="10" fill="#2b90fb"/><rect x="572" y="435" width="3" height="10" fill="#2b90fb"/><rect x="580" y="435" width="3" height="10" fill="#2b90fb"/><rect x="588" y="435" width="3" height="10" fill="#2b90fb"/><rect x="596" y="435" width="3" height="10" fill="#2b90fb"/><rect x="604" y="435" width="3" height="10" fill="#2b90fb"/><rect x="612" y="435" width="3" height="10" fill="#2b90fb"/><rect x="620" y="435" width="3" height="10" fill="#2b90fb"/><rect x="628" y="435" width="3" height="10" fill="#2b90fb"/><rect x="636" y="435" width="3" height="10" fill="#2b90fb"/><rect x="644" y="435" width="3" height="10" fill="#2b90fb"/><rect x="652" y="435" width="3" height="10" fill="#2b90fb"/><rect x="660" y="435" width="3" height="10" fill="#2b90fb"/><rect x="668" y="435" width="3" height="10" fill="#2b90fb"/><rect x="676" y="435" width="3" height="10" fill="#2b90fb"/><rect x="684" y="435" width="3" height="10" fill="#2b90fb"/><rect x="692" y="435" width="3" height="10" fill="#2b90fb"/><rect x="700" y="435" width="3" height="10" fill="#2b90fb"/><rect x="708" y="435" width="3" height="10" fill="#2b90fb"/><rect x="716" y="435" width="3" height="10" fill="#2b90fb"/><rect x="724" y="435" width="3" height="10" fill="#2b90fb"/><rect x="732" y="435" width="3" height="10" fill="#2b90fb"/><rect x="740" y="435" width="3" height="10" fill="#2b90fb"/><rect x="748" y="435" width="3" height="10" fill="#2b90fb"/><rect x="756" y="435" width="3" height="10" fill="#2b90fb"/><rect x="764" y="435" width="3" height="10" fill="#2b90fb"/><rect x="772" y="435" width="3" height="10" fill="#2b90fb"/><rect x="780" y="435" width="3" height="10" fill="#2b90fb"/><rect x="788" y="435" width="3" height="10" fill="#2b90fb"/><rect x="796" y="435" width="3" height="10" fill="#2b90fb"/><rect x="804" y="435" width="3" height="10" fill="#2b90fb"/><rect x="812" y="435" width="3" height="10" fill="#2b90fb"/><rect x="820" y="435" width="3" height="10" fill="#2b90fb"/><rect x="828" y="435" width="3" height="10" fill="#2b90fb"/><rect x="836" y="435" width="3" height="10" fill="#2b90fb"/><rect x="844" y="435" width="3" height="10" fill="#2b90fb"/><rect x="852" y="435" width="3" height="10" fill="#2b90fb"/><rect x="860" y="435" width="3" height="10" fill="#2b90fb"/><rect x="868" y="435" width="3" height="10" fill="#2b90fb"/><rect x="876" y="435" width="3" height="10" fill="#2b90fb"/><rect x="884" y="435" width="3" height="10" fill="#2b90fb"/><rect x="892" y="435" width="3" height="10" fill="#2b90fb"/><rect x="900" y="435" width="3" height="10" fill="#2b90fb"/><rect x="908" y="435" width="3" height="10" fill="#2b90fb"/><rect x="916" y="435" width="3" height="10" fill="#2b90fb"/><rect x="924" y="435" width="3" height="10" fill="#2b90fb"/><rect x="932" y="435" width="3" height="10" fill="#2b90fb"/><rect x="940" y="435" width="3" height="10" fill="#2b90fb"/><rect x="948" y="435" width="3" height="10" fill="#2b90fb"/><rect x="956" y="435" width="3" height="10" fill="#2b90fb"/><rect x="964" y="435" width="3" height="10" fill="#2b90fb"/><rect x="972" y="435" width="3" height="10" fill="#2b90fb"/><rect x="980" y="435" width="3" height="10" fill="#2b90fb"/><rect x="988" y="435" width="3" height="10" fill="#2b90fb"/><rect x="996" y="435" width="3" height="10" fill="#2b90fb"/><rect x="1004" y="435" width="3" height="10" fill="#2b90fb"/><rect x="1012" y="435" width="3" height="10" fill="#2b90fb"/><rect x="1020" y="435" width="3" height="10" fill="#2b90fb"/><rect x="1028" y="435" width="3" height="10" fill="#2b90fb"/><rect x="1036" y="435" width="3" height="10" fill="#2b90fb"/><rect x="1044" y="435" width="3" height="10" fill="#2b90fb"/><rect x="1052" y="435" width="3" height="10" fill="#2b90fb"/><rect x="1060" y="435" width="3" height="10" fill="#2b90fb"/><rect x="1068" y="435" width="3" height="10" fill="#2b90fb"/><rect x="1076" y="435" width="3" height="10" fill="#2b90fb"/><rect x="1084" y="435" width="3" height="10" fill="#2b90fb"/><rect x="1092" y="435" width="3" height="10" fill="#2b90fb"/><rect x="1100" y="435" width="3" height="10" fill="#2b90fb"/><rect x="1108" y="435" width="3" height="10" fill="#2b90fb"/><rect x="1116" y="435" width="3" height="10" fill="#2b90fb"/><rect x="1124" y="435" width="3" height="10" fill="#2b90fb"/><rect x="1132" y="435" width="3" height="10" fill="#2b90fb"/><rect x="1140" y="435" width="3" height="10" fill="#2b90fb"/><rect x="1148" y="435" width="3" height="10" fill="#2b90fb"/><rect x="1156" y="435" width="3" height="10" fill="#2b90fb"/><rect x="1164" y="435" width="3" height="10" fill="#2b90fb"/><rect x="1172" y="435" width="3" height="10" fill="#2b90fb"/><rect x="1180" y="435" width="3" height="10" fill="#2b90fb"/><rect x="1188" y="435" width="3" height="10" fill="#2b90fb"/><rect x="1196" y="435" width="3" height="10" fill="#2b90fb"/><rect x="1204" y="435" width="3" height="10" fill="#2b90fb"/><rect x="1212" y="435" width="3" height="10" fill="#2b90fb"/><rect x="1220" y="435" width="3" height="10" fill="#2b90fb"/><rect x="1228" y="435" width="3" height="10" fill="#2b90fb"/><rect x="1236" y="435" width="3" height="10" fill="#2b90fb"/><rect x="1244" y="435" width="3" height="10" fill="#2b90fb"/><rect x="1252" y="435" width="3" height="10" fill="#2b90fb"/><rect x="1260" y="435" width="3" height="10" fill="#2b90fb"/><rect x="1268" y="435" width="3" height="10" fill="#2b90fb"/><rect x="1276" y="435" width="3" height="10" fill="#2b90fb"/><rect x="1284" y="435" width="3" height="10" fill="#2b90fb"/><rect x="1292" y="435" width="3" height="10" fill="#2b90fb"/><rect x="1300" y="435" width="3" height="10" fill="#2b90fb"/><rect x="1308" y="435" width="3" height="10" fill="#2b90fb"/><rect x="1316" y="435" width="3" height="10" fill="#2b90fb"/><rect x="1324" y="435" width="3" height="10" fill="#2b90fb"/><rect x="1332" y="435" width="3" height="10" fill="#2b90fb"/><rect x="1340" y="435" width="3" height="10" fill="#2b90fb"/><rect x="1348" y="435" width="3" height="10" fill="#2b90fb"/><rect x="1356" y="435" width="3" height="10" fill="#2b90fb"/><rect x="1364" y="435" width="3" height="10" fill="#2b90fb"/><rect x="1372" y="435" width="3" height="10" fill="#2b90fb"/><rect x="1380" y="435" width="3" height="10" fill="#2b90fb"/><rect x="1388" y="435" width="3" height="10" fill="#2b90fb"/><rect x="1396" y="435" width="3" height="10" fill="#2b90fb"/><rect x="1404" y="435" width="3" height="10" fill="#2b90fb"/><rect x="1412" y="435" width="3" height="10" fill="#2b90fb"/><rect x="1420" y="435" width="3" height="10" fill="#2b90fb"/><rect x="1428" y="435" width="3" height="10" fill="#2b90fb"/><rect x="1436" y="435" width="3" height="10" fill="#2b90fb"/><rect x="1444" y="435" width="3" height="10" fill="#2b90fb"/><rect x="1452" y="435" width="3" height="10" fill="#2b90fb"/><rect x="1460" y="435" width="3" height="10" fill="#2b90fb"/><rect x="1468" y="435" width="3" height="10" fill="#2b90fb"/><rect x="4" y="448" width="3" height="12" fill="#2b90fb"/><rect x="12" y="448" width="3" height="12" fill="#2b90fb"/><rect x="20" y="448" width="3" height="12" fill="#2b90fb"/><rect x="28" y="448" width="3" height="12" fill="#2b90fb"/><rect x="36" y="448" width="3" height="12" fill="#2b90fb"/><rect x="44" y="448" width="3" height="12" fill="#2b90fb"/><rect x="52" y="448" width="3" height="12" fill="#2b90fb"/><rect x="60" y="448" width="3" height="12" fill="#2b90fb"/><rect x="68" y="448" width="3" height="12" fill="#2b90fb"/><rect x="76" y="448" width="3" height="12" fill="#2b90fb"/><rect x="84" y="448" width="3" height="12" fill="#2b90fb"/><rect x="92" y="448" width="3" height="12" fill="#2b90fb"/><rect x="100" y="448" width="3" height="12" fill="#2b90fb"/><rect x="108" y="448" width="3" height="12" fill="#2b90fb"/><rect x="116" y="448" width="3" height="12" fill="#2b90fb"/><rect x="124" y="448" width="3" height="12" fill="#2b90fb"/><rect x="132" y="448" width="3" height="12" fill="#2b90fb"/><rect x="140" y="448" width="3" height="12" fill="#2b90fb"/><rect x="148" y="448" width="3" height="12" fill="#2b90fb"/><rect x="156" y="448" width="3" height="12" fill="#2b90fb"/><rect x="164" y="448" width="3" height="12" fill="#2b90fb"/><rect x="172" y="448" width="3" height="12" fill="#2b90fb"/><rect x="180" y="448" width="3" height="12" fill="#2b90fb"/><rect x="188" y="448" width="3" height="12" fill="#2b90fb"/><rect x="196" y="448" width="3" height="12" fill="#2b90fb"/><rect x="204" y="448" width="3" height="12" fill="#2b90fb"/><rect x="212" y="448" width="3" height="12" fill="#2b90fb"/><rect x="220" y="448" width="3" height="12" fill="#2b90fb"/><rect x="228" y="448" width="3" height="12" fill="#2b90fb"/><rect x="236" y="448" width="3" height="12" fill="#2b90fb"/><rect x="244" y="448" width="3" height="12" fill="#2b90fb"/><rect x="252" y="448" width="3" height="12" fill="#2b90fb"/><rect x="260" y="448" width="3" height="12" fill="#2b90fb"/><rect x="268" y="448" width="3" height="12" fill="#2b90fb"/><rect x="276" y="448" width="3" height="12" fill="#2b90fb"/><rect x="284" y="448" width="3" height="12" fill="#2b90fb"/><rect x="292" y="448" width="3" height="12" fill="#2b90fb"/><rect x="300" y="448" width="3" height="12" fill="#2b90fb"/><rect x="308" y="448" width="3" height="12" fill="#2b90fb"/><rect x="316" y="448" width="3" height="12" fill="#2b90fb"/><rect x="324" y="448" width="3" height="12" fill="#2b90fb"/><rect x="332" y="448" width="3" height="12" fill="#2b90fb"/><rect x="340" y="448" width="3" height="12" fill="#2b90fb"/><rect x="348" y="448" width="3" height="12" fill="#2b90fb"/><rect x="356" y="448" width="3" height="12" fill="#2b90fb"/><rect x="364" y="448" width="3" height="12" fill="#2b90fb"/><rect x="372" y="448" width="3" height="12" fill="#2b90fb"/><rect x="380" y="448" width="3" height="12" fill="#2b90fb"/><rect x="388" y="448" width="3" height="12" fill="#2b90fb"/><rect x="396" y="448" width="3" height="12" fill="#2b90fb"/><rect x="404" y="448" width="3" height="12" fill="#2b90fb"/><rect x="412" y="448" width="3" height="12" fill="#2b90fb"/><rect x="420" y="448" width="3" height="12" fill="#2b90fb"/><rect x="428" y="448" width="3" height="12" fill="#2b90fb"/><rect x="436" y="448" width="3" height="12" fill="#2b90fb"/><rect x="444" y="448" width="3" height="12" fill="#2b90fb"/><rect x="452" y="448" width="3" height="12" fill="#2b90fb"/><rect x="460" y="448" width="3" height="12" fill="#2b90fb"/><rect x="468" y="448" width="3" height="12" fill="#2b90fb"/><rect x="476" y="448" width="3" height="12" fill="#2b90fb"/><rect x="484" y="448" width="3" height="12" fill="#2b90fb"/><rect x="492" y="448" width="3" height="12" fill="#2b90fb"/><rect x="500" y="448" width="3" height="12" fill="#2b90fb"/><rect x="508" y="448" width="3" height="12" fill="#2b90fb"/><rect x="516" y="448" width="3" height="12" fill="#2b90fb"/><rect x="524" y="448" width="3" height="12" fill="#2b90fb"/><rect x="532" y="448" width="3" height="12" fill="#2b90fb"/><rect x="540" y="448" width="3" height="12" fill="#2b90fb"/><rect x="548" y="448" width="3" height="12" fill="#2b90fb"/><rect x="556" y="448" width="3" height="12" fill="#2b90fb"/><rect x="564" y="448" width="3" height="12" fill="#2b90fb"/><rect x="572" y="448" width="3" height="12" fill="#2b90fb"/><rect x="580" y="448" width="3" height="12" fill="#2b90fb"/><rect x="588" y="448" width="3" height="12" fill="#2b90fb"/><rect x="596" y="448" width="3" height="12" fill="#2b90fb"/><rect x="604" y="448" width="3" height="12" fill="#2b90fb"/><rect x="612" y="448" width="3" height="12" fill="#2b90fb"/><rect x="620" y="448" width="3" height="12" fill="#2b90fb"/><rect x="628" y="448" width="3" height="12" fill="#2b90fb"/><rect x="636" y="448" width="3" height="12" fill="#2b90fb"/><rect x="644" y="448" width="3" height="12" fill="#2b90fb"/><rect x="652" y="448" width="3" height="12" fill="#2b90fb"/><rect x="660" y="448" width="3" height="12" fill="#2b90fb"/><rect x="668" y="448" width="3" height="12" fill="#2b90fb"/><rect x="676" y="448" width="3" height="12" fill="#2b90fb"/><rect x="684" y="448" width="3" height="12" fill="#2b90fb"/><rect x="692" y="448" width="3" height="12" fill="#2b90fb"/><rect x="700" y="448" width="3" height="12" fill="#2b90fb"/><rect x="708" y="448" width="3" height="12" fill="#2b90fb"/><rect x="716" y="448" width="3" height="12" fill="#2b90fb"/><rect x="724" y="448" width="3" height="12" fill="#2b90fb"/><rect x="732" y="448" width="3" height="12" fill="#2b90fb"/><rect x="740" y="448" width="3" height="12" fill="#2b90fb"/><rect x="748" y="448" width="3" height="12" fill="#2b90fb"/><rect x="756" y="448" width="3" height="12" fill="#2b90fb"/><rect x="764" y="448" width="3" height="12" fill="#2b90fb"/><rect x="772" y="448" width="3" height="12" fill="#2b90fb"/><rect x="780" y="448" width="3" height="12" fill="#2b90fb"/><rect x="788" y="448" width="3" height="12" fill="#2b90fb"/><rect x="796" y="448" width="3" height="12" fill="#2b90fb"/><rect x="804" y="448" width="3" height="12" fill="#2b90fb"/><rect x="812" y="448" width="3" height="12" fill="#2b90fb"/><rect x="820" y="448" width="3" height="12" fill="#2b90fb"/><rect x="828" y="448" width="3" height="12" fill="#2b90fb"/><rect x="836" y="448" width="3" height="12" fill="#2b90fb"/><rect x="844" y="448" width="3" height="12" fill="#2b90fb"/><rect x="852" y="448" width="3" height="12" fill="#2b90fb"/><rect x="860" y="448" width="3" height="12" fill="#2b90fb"/><rect x="868" y="448" width="3" height="12" fill="#2b90fb"/><rect x="876" y="448" width="3" height="12" fill="#2b90fb"/><rect x="884" y="448" width="3" height="12" fill="#2b90fb"/><rect x="892" y="448" width="3" height="12" fill="#2b90fb"/><rect x="900" y="448" width="3" height="12" fill="#2b90fb"/><rect x="908" y="448" width="3" height="12" fill="#2b90fb"/><rect x="916" y="448" width="3" height="12" fill="#2b90fb"/><rect x="924" y="448" width="3" height="12" fill="#2b90fb"/><rect x="932" y="448" width="3" height="12" fill="#2b90fb"/><rect x="940" y="448" width="3" height="12" fill="#2b90fb"/><rect x="948" y="448" width="3" height="12" fill="#2b90fb"/><rect x="956" y="448" width="3" height="12" fill="#2b90fb"/><rect x="964" y="448" width="3" height="12" fill="#2b90fb"/><rect x="972" y="448" width="3" height="12" fill="#2b90fb"/><rect x="980" y="448" width="3" height="12" fill="#2b90fb"/><rect x="988" y="448" width="3" height="12" fill="#2b90fb"/><rect x="996" y="448" width="3" height="12" fill="#2b90fb"/><rect x="1004" y="448" width="3" height="12" fill="#2b90fb"/><rect x="1012" y="448" width="3" height="12" fill="#2b90fb"/><rect x="1020" y="448" width="3" height="12" fill="#2b90fb"/><rect x="1028" y="448" width="3" height="12" fill="#2b90fb"/><rect x="1036" y="448" width="3" height="12" fill="#2b90fb"/><rect x="1044" y="448" width="3" height="12" fill="#2b90fb"/><rect x="1052" y="448" width="3" height="12" fill="#2b90fb"/><rect x="1060" y="448" width="3" height="12" fill="#2b90fb"/><rect x="1068" y="448" width="3" height="12" fill="#2b90fb"/><rect x="1076" y="448" width="3" height="12" fill="#2b90fb"/><rect x="1084" y="448" width="3" height="12" fill="#2b90fb"/><rect x="1092" y="448" width="3" height="12" fill="#2b90fb"/><rect x="1100" y="448" width="3" height="12" fill="#2b90fb"/><rect x="1108" y="448" width="3" height="12" fill="#2b90fb"/><rect x="1116" y="448" width="3" height="12" fill="#2b90fb"/><rect x="1124" y="448" width="3" height="12" fill="#2b90fb"/><rect x="1132" y="448" width="3" height="12" fill="#2b90fb"/><rect x="1140" y="448" width="3" height="12" fill="#2b90fb"/><rect x="1148" y="448" width="3" height="12" fill="#2b90fb"/><rect x="1156" y="448" width="3" height="12" fill="#2b90fb"/><rect x="1164" y="448" width="3" height="12" fill="#2b90fb"/><rect x="1172" y="448" width="3" height="12" fill="#2b90fb"/><rect x="1180" y="448" width="3" height="12" fill="#2b90fb"/><rect x="1188" y="448" width="3" height="12" fill="#2b90fb"/><rect x="1196" y="448" width="3" height="12" fill="#2b90fb"/><rect x="1204" y="448" width="3" height="12" fill="#2b90fb"/><rect x="1212" y="448" width="3" height="12" fill="#2b90fb"/><rect x="1220" y="448" width="3" height="12" fill="#2b90fb"/><rect x="1228" y="448" width="3" height="12" fill="#2b90fb"/><rect x="1236" y="448" width="3" height="12" fill="#2b90fb"/><rect x="1244" y="448" width="3" height="12" fill="#2b90fb"/><rect x="1252" y="448" width="3" height="12" fill="#2b90fb"/><rect x="1260" y="448" width="3" height="12" fill="#2b90fb"/><rect x="1268" y="448" width="3" height="12" fill="#2b90fb"/><rect x="1276" y="448" width="3" height="12" fill="#2b90fb"/><rect x="1284" y="448" width="3" height="12" fill="#2b90fb"/><rect x="1292" y="448" width="3" height="12" fill="#2b90fb"/><rect x="1300" y="448" width="3" height="12" fill="#2b90fb"/><rect x="1308" y="448" width="3" height="12" fill="#2b90fb"/><rect x="1316" y="448" width="3" height="12" fill="#2b90fb"/><rect x="1324" y="448" width="3" height="12" fill="#2b90fb"/><rect x="1332" y="448" width="3" height="12" fill="#2b90fb"/><rect x="1340" y="448" width="3" height="12" fill="#2b90fb"/><rect x="1348" y="448" width="3" height="12" fill="#2b90fb"/><rect x="1356" y="448" width="3" height="12" fill="#2b90fb"/><rect x="1364" y="448" width="3" height="12" fill="#2b90fb"/><rect x="1372" y="448" width="3" height="12" fill="#2b90fb"/><rect x="1380" y="448" width="3" height="12" fill="#2b90fb"/><rect x="1388" y="448" width="3" height="12" fill="#2b90fb"/><rect x="1396" y="448" width="3" height="12" fill="#2b90fb"/><rect x="1404" y="448" width="3" height="12" fill="#2b90fb"/><rect x="1412" y="448" width="3" height="12" fill="#2b90fb"/><rect x="1420" y="448" width="3" height="12" fill="#2b90fb"/><rect x="1428" y="448" width="3" height="12" fill="#2b90fb"/><rect x="1436" y="448" width="3" height="12" fill="#2b90fb"/><rect x="1444" y="448" width="3" height="12" fill="#2b90fb"/><rect x="1452" y="448" width="3" height="12" fill="#2b90fb"/><rect x="1460" y="448" width="3" height="12" fill="#2b90fb"/><rect x="1468" y="448" width="3" height="12" fill="#2b90fb"/><rect x="4" y="463" width="3" height="14" fill="#2b90fb"/><rect x="12" y="463" width="3" height="14" fill="#2b90fb"/><rect x="20" y="463" width="3" height="14" fill="#2b90fb"/><rect x="28" y="463" width="3" height="14" fill="#2b90fb"/><rect x="36" y="463" width="3" height="14" fill="#2b90fb"/><rect x="44" y="463" width="3" height="14" fill="#2b90fb"/><rect x="52" y="463" width="3" height="14" fill="#2b90fb"/><rect x="60" y="463" width="3" height="14" fill="#2b90fb"/><rect x="68" y="463" width="3" height="14" fill="#2b90fb"/><rect x="76" y="463" width="3" height="14" fill="#2b90fb"/><rect x="84" y="463" width="3" height="14" fill="#2b90fb"/><rect x="92" y="463" width="3" height="14" fill="#2b90fb"/><rect x="100" y="463" width="3" height="14" fill="#2b90fb"/><rect x="108" y="463" width="3" height="14" fill="#2b90fb"/><rect x="116" y="463" width="3" height="14" fill="#2b90fb"/><rect x="124" y="463" width="3" height="14" fill="#2b90fb"/><rect x="132" y="463" width="3" height="14" fill="#2b90fb"/><rect x="140" y="463" width="3" height="14" fill="#2b90fb"/><rect x="148" y="463" width="3" height="14" fill="#2b90fb"/><rect x="156" y="463" width="3" height="14" fill="#2b90fb"/><rect x="164" y="463" width="3" height="14" fill="#2b90fb"/><rect x="172" y="463" width="3" height="14" fill="#2b90fb"/><rect x="180" y="463" width="3" height="14" fill="#2b90fb"/><rect x="188" y="463" width="3" height="14" fill="#2b90fb"/><rect x="196" y="463" width="3" height="14" fill="#2b90fb"/><rect x="204" y="463" width="3" height="14" fill="#2b90fb"/><rect x="212" y="463" width="3" height="14" fill="#2b90fb"/><rect x="220" y="463" width="3" height="14" fill="#2b90fb"/><rect x="228" y="463" width="3" height="14" fill="#2b90fb"/><rect x="236" y="463" width="3" height="14" fill="#2b90fb"/><rect x="244" y="463" width="3" height="14" fill="#2b90fb"/><rect x="252" y="463" width="3" height="14" fill="#2b90fb"/><rect x="260" y="463" width="3" height="14" fill="#2b90fb"/><rect x="268" y="463" width="3" height="14" fill="#2b90fb"/><rect x="276" y="463" width="3" height="14" fill="#2b90fb"/><rect x="284" y="463" width="3" height="14" fill="#2b90fb"/><rect x="292" y="463" width="3" height="14" fill="#2b90fb"/><rect x="300" y="463" width="3" height="14" fill="#2b90fb"/><rect x="308" y="463" width="3" height="14" fill="#2b90fb"/><rect x="316" y="463" width="3" height="14" fill="#2b90fb"/><rect x="324" y="463" width="3" height="14" fill="#2b90fb"/><rect x="332" y="463" width="3" height="14" fill="#2b90fb"/><rect x="340" y="463" width="3" height="14" fill="#2b90fb"/><rect x="348" y="463" width="3" height="14" fill="#2b90fb"/><rect x="356" y="463" width="3" height="14" fill="#2b90fb"/><rect x="364" y="463" width="3" height="14" fill="#2b90fb"/><rect x="372" y="463" width="3" height="14" fill="#2b90fb"/><rect x="380" y="463" width="3" height="14" fill="#2b90fb"/><rect x="388" y="463" width="3" height="14" fill="#2b90fb"/><rect x="396" y="463" width="3" height="14" fill="#2b90fb"/><rect x="404" y="463" width="3" height="14" fill="#2b90fb"/><rect x="412" y="463" width="3" height="14" fill="#2b90fb"/><rect x="420" y="463" width="3" height="14" fill="#2b90fb"/><rect x="428" y="463" width="3" height="14" fill="#2b90fb"/><rect x="436" y="463" width="3" height="14" fill="#2b90fb"/><rect x="444" y="463" width="3" height="14" fill="#2b90fb"/><rect x="452" y="463" width="3" height="14" fill="#2b90fb"/><rect x="460" y="463" width="3" height="14" fill="#2b90fb"/><rect x="468" y="463" width="3" height="14" fill="#2b90fb"/><rect x="476" y="463" width="3" height="14" fill="#2b90fb"/><rect x="484" y="463" width="3" height="14" fill="#2b90fb"/><rect x="492" y="463" width="3" height="14" fill="#2b90fb"/><rect x="500" y="463" width="3" height="14" fill="#2b90fb"/><rect x="508" y="463" width="3" height="14" fill="#2b90fb"/><rect x="516" y="463" width="3" height="14" fill="#2b90fb"/><rect x="524" y="463" width="3" height="14" fill="#2b90fb"/><rect x="532" y="463" width="3" height="14" fill="#2b90fb"/><rect x="540" y="463" width="3" height="14" fill="#2b90fb"/><rect x="548" y="463" width="3" height="14" fill="#2b90fb"/><rect x="556" y="463" width="3" height="14" fill="#2b90fb"/><rect x="564" y="463" width="3" height="14" fill="#2b90fb"/><rect x="572" y="463" width="3" height="14" fill="#2b90fb"/><rect x="580" y="463" width="3" height="14" fill="#2b90fb"/><rect x="588" y="463" width="3" height="14" fill="#2b90fb"/><rect x="596" y="463" width="3" height="14" fill="#2b90fb"/><rect x="604" y="463" width="3" height="14" fill="#2b90fb"/><rect x="612" y="463" width="3" height="14" fill="#2b90fb"/><rect x="620" y="463" width="3" height="14" fill="#2b90fb"/><rect x="628" y="463" width="3" height="14" fill="#2b90fb"/><rect x="636" y="463" width="3" height="14" fill="#2b90fb"/><rect x="644" y="463" width="3" height="14" fill="#2b90fb"/><rect x="652" y="463" width="3" height="14" fill="#2b90fb"/><rect x="660" y="463" width="3" height="14" fill="#2b90fb"/><rect x="668" y="463" width="3" height="14" fill="#2b90fb"/><rect x="676" y="463" width="3" height="14" fill="#2b90fb"/><rect x="684" y="463" width="3" height="14" fill="#2b90fb"/><rect x="692" y="463" width="3" height="14" fill="#2b90fb"/><rect x="700" y="463" width="3" height="14" fill="#2b90fb"/><rect x="708" y="463" width="3" height="14" fill="#2b90fb"/><rect x="716" y="463" width="3" height="14" fill="#2b90fb"/><rect x="724" y="463" width="3" height="14" fill="#2b90fb"/><rect x="732" y="463" width="3" height="14" fill="#2b90fb"/><rect x="740" y="463" width="3" height="14" fill="#2b90fb"/><rect x="748" y="463" width="3" height="14" fill="#2b90fb"/><rect x="756" y="463" width="3" height="14" fill="#2b90fb"/><rect x="764" y="463" width="3" height="14" fill="#2b90fb"/><rect x="772" y="463" width="3" height="14" fill="#2b90fb"/><rect x="780" y="463" width="3" height="14" fill="#2b90fb"/><rect x="788" y="463" width="3" height="14" fill="#2b90fb"/><rect x="796" y="463" width="3" height="14" fill="#2b90fb"/><rect x="804" y="463" width="3" height="14" fill="#2b90fb"/><rect x="812" y="463" width="3" height="14" fill="#2b90fb"/><rect x="820" y="463" width="3" height="14" fill="#2b90fb"/><rect x="828" y="463" width="3" height="14" fill="#2b90fb"/><rect x="836" y="463" width="3" height="14" fill="#2b90fb"/><rect x="844" y="463" width="3" height="14" fill="#2b90fb"/><rect x="852" y="463" width="3" height="14" fill="#2b90fb"/><rect x="860" y="463" width="3" height="14" fill="#2b90fb"/><rect x="868" y="463" width="3" height="14" fill="#2b90fb"/><rect x="876" y="463" width="3" height="14" fill="#2b90fb"/><rect x="884" y="463" width="3" height="14" fill="#2b90fb"/><rect x="892" y="463" width="3" height="14" fill="#2b90fb"/><rect x="900" y="463" width="3" height="14" fill="#2b90fb"/><rect x="908" y="463" width="3" height="14" fill="#2b90fb"/><rect x="916" y="463" width="3" height="14" fill="#2b90fb"/><rect x="924" y="463" width="3" height="14" fill="#2b90fb"/><rect x="932" y="463" width="3" height="14" fill="#2b90fb"/><rect x="940" y="463" width="3" height="14" fill="#2b90fb"/><rect x="948" y="463" width="3" height="14" fill="#2b90fb"/><rect x="956" y="463" width="3" height="14" fill="#2b90fb"/><rect x="964" y="463" width="3" height="14" fill="#2b90fb"/><rect x="972" y="463" width="3" height="14" fill="#2b90fb"/><rect x="980" y="463" width="3" height="14" fill="#2b90fb"/><rect x="988" y="463" width="3" height="14" fill="#2b90fb"/><rect x="996" y="463" width="3" height="14" fill="#2b90fb"/><rect x="1004" y="463" width="3" height="14" fill="#2b90fb"/><rect x="1012" y="463" width="3" height="14" fill="#2b90fb"/><rect x="1020" y="463" width="3" height="14" fill="#2b90fb"/><rect x="1028" y="463" width="3" height="14" fill="#2b90fb"/><rect x="1036" y="463" width="3" height="14" fill="#2b90fb"/><rect x="1044" y="463" width="3" height="14" fill="#2b90fb"/><rect x="1052" y="463" width="3" height="14" fill="#2b90fb"/><rect x="1060" y="463" width="3" height="14" fill="#2b90fb"/><rect x="1068" y="463" width="3" height="14" fill="#2b90fb"/><rect x="1076" y="463" width="3" height="14" fill="#2b90fb"/><rect x="1084" y="463" width="3" height="14" fill="#2b90fb"/><rect x="1092" y="463" width="3" height="14" fill="#2b90fb"/><rect x="1100" y="463" width="3" height="14" fill="#2b90fb"/><rect x="1108" y="463" width="3" height="14" fill="#2b90fb"/><rect x="1116" y="463" width="3" height="14" fill="#2b90fb"/><rect x="1124" y="463" width="3" height="14" fill="#2b90fb"/><rect x="1132" y="463" width="3" height="14" fill="#2b90fb"/><rect x="1140" y="463" width="3" height="14" fill="#2b90fb"/><rect x="1148" y="463" width="3" height="14" fill="#2b90fb"/><rect x="1156" y="463" width="3" height="14" fill="#2b90fb"/><rect x="1164" y="463" width="3" height="14" fill="#2b90fb"/><rect x="1172" y="463" width="3" height="14" fill="#2b90fb"/><rect x="1180" y="463" width="3" height="14" fill="#2b90fb"/><rect x="1188" y="463" width="3" height="14" fill="#2b90fb"/><rect x="1196" y="463" width="3" height="14" fill="#2b90fb"/><rect x="1204" y="463" width="3" height="14" fill="#2b90fb"/><rect x="1212" y="463" width="3" height="14" fill="#2b90fb"/><rect x="1220" y="463" width="3" height="14" fill="#2b90fb"/><rect x="1228" y="463" width="3" height="14" fill="#2b90fb"/><rect x="1236" y="463" width="3" height="14" fill="#2b90fb"/><rect x="1244" y="463" width="3" height="14" fill="#2b90fb"/><rect x="1252" y="463" width="3" height="14" fill="#2b90fb"/><rect x="1260" y="463" width="3" height="14" fill="#2b90fb"/><rect x="1268" y="463" width="3" height="14" fill="#2b90fb"/><rect x="1276" y="463" width="3" height="14" fill="#2b90fb"/><rect x="1284" y="463" width="3" height="14" fill="#2b90fb"/><rect x="1292" y="463" width="3" height="14" fill="#2b90fb"/><rect x="1300" y="463" width="3" height="14" fill="#2b90fb"/><rect x="1308" y="463" width="3" height="14" fill="#2b90fb"/><rect x="1316" y="463" width="3" height="14" fill="#2b90fb"/><rect x="1324" y="463" width="3" height="14" fill="#2b90fb"/><rect x="1332" y="463" width="3" height="14" fill="#2b90fb"/><rect x="1340" y="463" width="3" height="14" fill="#2b90fb"/><rect x="1348" y="463" width="3" height="14" fill="#2b90fb"/><rect x="1356" y="463" width="3" height="14" fill="#2b90fb"/><rect x="1364" y="463" width="3" height="14" fill="#2b90fb"/><rect x="1372" y="463" width="3" height="14" fill="#2b90fb"/><rect x="1380" y="463" width="3" height="14" fill="#2b90fb"/><rect x="1388" y="463" width="3" height="14" fill="#2b90fb"/><rect x="1396" y="463" width="3" height="14" fill="#2b90fb"/><rect x="1404" y="463" width="3" height="14" fill="#2b90fb"/><rect x="1412" y="463" width="3" height="14" fill="#2b90fb"/><rect x="1420" y="463" width="3" height="14" fill="#2b90fb"/><rect x="1428" y="463" width="3" height="14" fill="#2b90fb"/><rect x="1436" y="463" width="3" height="14" fill="#2b90fb"/><rect x="1444" y="463" width="3" height="14" fill="#2b90fb"/><rect x="1452" y="463" width="3" height="14" fill="#2b90fb"/><rect x="1460" y="463" width="3" height="14" fill="#2b90fb"/><rect x="1468" y="463" width="3" height="14" fill="#2b90fb"/></g>
<svg x="5" y="418" width="1849" height="14" overflow="hidden"><text x="4.5" y="13.699999999999989" font-size="11.5" fill="#fff" textLength="277" lengthAdjust="spacingAndGlyphs">H4 TEN_to_CHI_no_HISTOGRAM_ver_003 1.0000</text></svg>
<svg x="5" y="435" width="1849" height="10" overflow="hidden"><text x="4.5" y="13.699999999999989" font-size="11.5" fill="#fff" textLength="277" lengthAdjust="spacingAndGlyphs">D1 TEN_to_CHI_no_HISTOGRAM_ver_003 1.0000</text></svg>
<svg x="5" y="448" width="1849" height="12" overflow="hidden"><text x="4.5" y="13.699999999999989" font-size="11.5" fill="#fff" textLength="280" lengthAdjust="spacingAndGlyphs">W1 TEN_to_CHI_no_HISTOGRAM_ver_003 1.0000</text></svg>
<svg x="5" y="463" width="1849" height="14" overflow="hidden"><text x="4.5" y="13.699999999999989" font-size="11.5" fill="#fff" textLength="280" lengthAdjust="spacingAndGlyphs">MN TEN_to_CHI_no_HISTOGRAM_ver_003 1.0000</text></svg>
<text x="1859" y="429" font-size="11" fill="#fff">0</text>
<text x="1859" y="443.5" font-size="11" fill="#fff">0</text>
<text x="1859" y="457.5" font-size="11" fill="#fff">0</text>
<text x="1859" y="474" font-size="11" fill="#fff">0</text>
<line x1="5" y1="497.5" x2="1592" y2="497.5" stroke="#d8d8d8" stroke-width="1" stroke-dasharray="3,3"/>
<line x1="5" y1="539.5" x2="1592" y2="539.5" stroke="#d8d8d8" stroke-width="1" stroke-dasharray="3,3"/>
<line x1="5" y1="582.5" x2="1592" y2="582.5" stroke="#d8d8d8" stroke-width="1" stroke-dasharray="3,3"/>
<text x="10" y="495" font-size="11.5" fill="#fff" textLength="378" lengthAdjust="spacingAndGlyphs">TEN_to_CHI_no_OSCILLATOR__ver_004 -68.2494 96.8065 45.5384</text>
<g clip-path="url(#paneclip)"><rect x="3" y="520" width="4" height="4" fill="#1530ff"/><rect x="11" y="520" width="4" height="4" fill="#f41818"/><rect x="19" y="521" width="4" height="4" fill="#f41818"/><rect x="27" y="524" width="4" height="4" fill="#f41818"/><rect x="35" y="526" width="4" height="4" fill="#f41818"/><rect x="43" y="528" width="4" height="4" fill="#f41818"/><rect x="51" y="528" width="4" height="4" fill="#f41818"/><rect x="59" y="529" width="4" height="4" fill="#f41818"/><rect x="67" y="530" width="4" height="4" fill="#f41818"/><rect x="75" y="532" width="4" height="4" fill="#f41818"/><rect x="83" y="536" width="4" height="4" fill="#f41818"/><rect x="91" y="540" width="4" height="4" fill="#f41818"/><rect x="99" y="539" width="4" height="4" fill="#1530ff"/><rect x="107" y="535" width="4" height="4" fill="#1530ff"/><rect x="115" y="529" width="4" height="4" fill="#1530ff"/><rect x="123" y="524" width="4" height="4" fill="#1530ff"/><rect x="131" y="517" width="4" height="4" fill="#1530ff"/><rect x="139" y="512" width="4" height="4" fill="#1530ff"/><rect x="147" y="508" width="4" height="4" fill="#1530ff"/><rect x="155" y="504" width="4" height="4" fill="#1530ff"/><rect x="163" y="501" width="4" height="4" fill="#1530ff"/><rect x="171" y="498" width="4" height="4" fill="#1530ff"/><rect x="179" y="496" width="4" height="4" fill="#f41818"/><rect x="187" y="497" width="4" height="4" fill="#f41818"/><rect x="195" y="499" width="4" height="4" fill="#f41818"/><rect x="203" y="506" width="4" height="4" fill="#f41818"/><rect x="211" y="512" width="4" height="4" fill="#f41818"/><rect x="219" y="521" width="4" height="4" fill="#f41818"/><rect x="227" y="527" width="4" height="4" fill="#f41818"/><rect x="235" y="534" width="4" height="4" fill="#f41818"/><rect x="243" y="542" width="4" height="4" fill="#f41818"/><rect x="251" y="549" width="4" height="4" fill="#f41818"/><rect x="259" y="556" width="4" height="4" fill="#f41818"/><rect x="267" y="556" width="4" height="4" fill="#1530ff"/><rect x="275" y="548" width="4" height="4" fill="#1530ff"/><rect x="283" y="536" width="4" height="4" fill="#1530ff"/><rect x="291" y="524" width="4" height="4" fill="#1530ff"/><rect x="299" y="511" width="4" height="4" fill="#1530ff"/><rect x="307" y="501" width="4" height="4" fill="#1530ff"/><rect x="315" y="496" width="4" height="4" fill="#1530ff"/><rect x="323" y="488" width="4" height="4" fill="#1530ff"/><rect x="331" y="486" width="4" height="4" fill="#1530ff"/><rect x="339" y="486" width="4" height="4" fill="#1530ff"/><rect x="347" y="485" width="4" height="4" fill="#1530ff"/><rect x="355" y="484" width="4" height="4" fill="#1530ff"/><rect x="363" y="484" width="4" height="4" fill="#1530ff"/><rect x="371" y="484" width="4" height="4" fill="#1530ff"/><rect x="379" y="484" width="4" height="4" fill="#1530ff"/><rect x="387" y="484" width="4" height="4" fill="#1530ff"/><rect x="395" y="484" width="4" height="4" fill="#1530ff"/><rect x="403" y="484" width="4" height="4" fill="#1530ff"/><rect x="411" y="484" width="4" height="4" fill="#1530ff"/><rect x="419" y="484" width="4" height="4" fill="#1530ff"/><rect x="427" y="484" width="4" height="4" fill="#1530ff"/><rect x="435" y="484" width="4" height="4" fill="#1530ff"/><rect x="443" y="484" width="4" height="4" fill="#1530ff"/><rect x="451" y="484" width="4" height="4" fill="#f41818"/><rect x="459" y="489" width="4" height="4" fill="#f41818"/><rect x="467" y="507" width="4" height="4" fill="#f41818"/><rect x="475" y="528" width="4" height="4" fill="#f41818"/><rect x="483" y="546" width="4" height="4" fill="#f41818"/><rect x="491" y="560" width="4" height="4" fill="#f41818"/><rect x="499" y="570" width="4" height="4" fill="#f41818"/><rect x="507" y="576" width="4" height="4" fill="#f41818"/><rect x="515" y="581" width="4" height="4" fill="#f41818"/><rect x="523" y="584" width="4" height="4" fill="#f41818"/><rect x="531" y="586" width="4" height="4" fill="#f41818"/><rect x="539" y="587" width="4" height="4" fill="#f41818"/><rect x="547" y="588" width="4" height="4" fill="#f41818"/><rect x="555" y="589" width="4" height="4" fill="#f41818"/><rect x="563" y="590" width="4" height="4" fill="#f41818"/><rect x="571" y="590" width="4" height="4" fill="#f41818"/><rect x="579" y="591" width="4" height="4" fill="#f41818"/><rect x="587" y="591" width="4" height="4" fill="#f41818"/><rect x="595" y="591" width="4" height="4" fill="#f41818"/><rect x="603" y="591" width="4" height="4" fill="#f41818"/><rect x="611" y="591" width="4" height="4" fill="#f41818"/><rect x="619" y="591" width="4" height="4" fill="#f41818"/><rect x="627" y="591" width="4" height="4" fill="#f41818"/><rect x="635" y="590" width="4" height="4" fill="#1530ff"/><rect x="643" y="588" width="4" height="4" fill="#1530ff"/><rect x="651" y="584" width="4" height="4" fill="#1530ff"/><rect x="659" y="579" width="4" height="4" fill="#1530ff"/><rect x="667" y="576" width="4" height="4" fill="#1530ff"/><rect x="675" y="572" width="4" height="4" fill="#1530ff"/><rect x="683" y="566" width="4" height="4" fill="#1530ff"/><rect x="691" y="556" width="4" height="4" fill="#1530ff"/><rect x="699" y="544" width="4" height="4" fill="#1530ff"/><rect x="707" y="535" width="4" height="4" fill="#1530ff"/><rect x="715" y="527" width="4" height="4" fill="#1530ff"/><rect x="723" y="519" width="4" height="4" fill="#1530ff"/><rect x="731" y="514" width="4" height="4" fill="#1530ff"/><rect x="739" y="508" width="4" height="4" fill="#1530ff"/><rect x="747" y="504" width="4" height="4" fill="#1530ff"/><rect x="755" y="501" width="4" height="4" fill="#1530ff"/><rect x="763" y="499" width="4" height="4" fill="#f41818"/><rect x="771" y="499" width="4" height="4" fill="#f41818"/><rect x="779" y="502" width="4" height="4" fill="#f41818"/><rect x="787" y="507" width="4" height="4" fill="#f41818"/><rect x="795" y="514" width="4" height="4" fill="#f41818"/><rect x="803" y="521" width="4" height="4" fill="#f41818"/><rect x="811" y="527" width="4" height="4" fill="#f41818"/><rect x="819" y="532" width="4" height="4" fill="#f41818"/><rect x="827" y="536" width="4" height="4" fill="#f41818"/><rect x="835" y="538" width="4" height="4" fill="#f41818"/><rect x="843" y="538" width="4" height="4" fill="#f41818"/><rect x="851" y="538" width="4" height="4" fill="#1530ff"/><rect x="859" y="538" width="4" height="4" fill="#1530ff"/><rect x="867" y="538" width="4" height="4" fill="#1530ff"/><rect x="875" y="535" width="4" height="4" fill="#1530ff"/><rect x="883" y="532" width="4" height="4" fill="#1530ff"/><rect x="891" y="526" width="4" height="4" fill="#1530ff"/><rect x="899" y="520" width="4" height="4" fill="#1530ff"/><rect x="907" y="515" width="4" height="4" fill="#1530ff"/><rect x="915" y="510" width="4" height="4" fill="#1530ff"/><rect x="923" y="504" width="4" height="4" fill="#1530ff"/><rect x="931" y="500" width="4" height="4" fill="#1530ff"/><rect x="939" y="497" width="4" height="4" fill="#1530ff"/><rect x="947" y="496" width="4" height="4" fill="#1530ff"/><rect x="955" y="495" width="4" height="4" fill="#1530ff"/><rect x="963" y="491" width="4" height="4" fill="#f41818"/><rect x="971" y="492" width="4" height="4" fill="#f41818"/><rect x="979" y="497" width="4" height="4" fill="#f41818"/><rect x="987" y="504" width="4" height="4" fill="#f41818"/><rect x="995" y="511" width="4" height="4" fill="#f41818"/><rect x="1003" y="515" width="4" height="4" fill="#f41818"/><rect x="1011" y="518" width="4" height="4" fill="#f41818"/><rect x="1019" y="519" width="4" height="4" fill="#f41818"/><rect x="1027" y="523" width="4" height="4" fill="#f41818"/><rect x="1035" y="529" width="4" height="4" fill="#f41818"/><rect x="1043" y="537" width="4" height="4" fill="#f41818"/><rect x="1051" y="545" width="4" height="4" fill="#f41818"/><rect x="1059" y="552" width="4" height="4" fill="#f41818"/><rect x="1067" y="559" width="4" height="4" fill="#f41818"/><rect x="1075" y="558" width="4" height="4" fill="#1530ff"/><rect x="1083" y="550" width="4" height="4" fill="#1530ff"/><rect x="1091" y="540" width="4" height="4" fill="#1530ff"/><rect x="1099" y="530" width="4" height="4" fill="#1530ff"/><rect x="1107" y="521" width="4" height="4" fill="#1530ff"/><rect x="1115" y="512" width="4" height="4" fill="#1530ff"/><rect x="1123" y="506" width="4" height="4" fill="#1530ff"/><rect x="1131" y="499" width="4" height="4" fill="#1530ff"/><rect x="1139" y="496" width="4" height="4" fill="#1530ff"/><rect x="1147" y="495" width="4" height="4" fill="#1530ff"/><rect x="1155" y="491" width="4" height="4" fill="#1530ff"/><rect x="1163" y="489" width="4" height="4" fill="#1530ff"/><rect x="1171" y="487" width="4" height="4" fill="#1530ff"/><rect x="1179" y="486" width="4" height="4" fill="#1530ff"/><rect x="1187" y="486" width="4" height="4" fill="#1530ff"/><rect x="1195" y="485" width="4" height="4" fill="#1530ff"/><rect x="1203" y="485" width="4" height="4" fill="#1530ff"/><rect x="1211" y="484" width="4" height="4" fill="#1530ff"/><rect x="1219" y="484" width="4" height="4" fill="#1530ff"/><rect x="1227" y="484" width="4" height="4" fill="#1530ff"/><rect x="1235" y="484" width="4" height="4" fill="#1530ff"/><rect x="1243" y="484" width="4" height="4" fill="#1530ff"/><rect x="1251" y="484" width="4" height="4" fill="#1530ff"/><rect x="1259" y="484" width="4" height="4" fill="#1530ff"/><rect x="1267" y="484" width="4" height="4" fill="#f41818"/><rect x="1275" y="494" width="4" height="4" fill="#f41818"/><rect x="1283" y="507" width="4" height="4" fill="#f41818"/><rect x="1291" y="522" width="4" height="4" fill="#f41818"/><rect x="1299" y="535" width="4" height="4" fill="#f41818"/><rect x="1307" y="547" width="4" height="4" fill="#f41818"/><rect x="1315" y="549" width="4" height="4" fill="#f41818"/><rect x="1323" y="542" width="4" height="4" fill="#1530ff"/><rect x="1331" y="531" width="4" height="4" fill="#1530ff"/><rect x="1339" y="521" width="4" height="4" fill="#1530ff"/><rect x="1347" y="514" width="4" height="4" fill="#1530ff"/><rect x="1355" y="506" width="4" height="4" fill="#1530ff"/><rect x="1363" y="501" width="4" height="4" fill="#1530ff"/><rect x="1371" y="498" width="4" height="4" fill="#1530ff"/><rect x="1379" y="495" width="4" height="4" fill="#f41818"/><rect x="1387" y="497" width="4" height="4" fill="#f41818"/><rect x="1395" y="502" width="4" height="4" fill="#f41818"/><rect x="1403" y="511" width="4" height="4" fill="#f41818"/><rect x="1411" y="521" width="4" height="4" fill="#f41818"/><rect x="1419" y="531" width="4" height="4" fill="#f41818"/><rect x="1427" y="540" width="4" height="4" fill="#f41818"/><rect x="1435" y="548" width="4" height="4" fill="#f41818"/><rect x="1443" y="556" width="4" height="4" fill="#f41818"/><rect x="1451" y="562" width="4" height="4" fill="#f41818"/><rect x="1459" y="569" width="4" height="4" fill="#f41818"/><rect x="1467" y="574" width="4" height="4" fill="#f41818"/><rect x="3.5" y="548.5" width="4" height="4" fill="none" stroke="#1c6e1c" stroke-width="1"/><rect x="11.5" y="548.5" width="4" height="4" fill="none" stroke="#1c6e1c" stroke-width="1"/><rect x="19.5" y="548.5" width="4" height="4" fill="none" stroke="#1c6e1c" stroke-width="1"/><rect x="27.5" y="548.5" width="4" height="4" fill="none" stroke="#1c6e1c" stroke-width="1"/><rect x="35.5" y="548.5" width="4" height="4" fill="none" stroke="#1c6e1c" stroke-width="1"/><rect x="43.5" y="547.5" width="4" height="4" fill="none" stroke="#1c6e1c" stroke-width="1"/><rect x="51.5" y="547.5" width="4" height="4" fill="none" stroke="#1c6e1c" stroke-width="1"/><rect x="59.5" y="547.5" width="4" height="4" fill="none" stroke="#1c6e1c" stroke-width="1"/><rect x="67.5" y="547.5" width="4" height="4" fill="none" stroke="#1c6e1c" stroke-width="1"/><rect x="75.5" y="546.5" width="4" height="4" fill="none" stroke="#1c6e1c" stroke-width="1"/><rect x="83.5" y="546.5" width="4" height="4" fill="none" stroke="#1c6e1c" stroke-width="1"/><rect x="91.5" y="546.5" width="4" height="4" fill="none" stroke="#1c6e1c" stroke-width="1"/><rect x="99.5" y="545.5" width="4" height="4" fill="none" stroke="#1c6e1c" stroke-width="1"/><rect x="107.5" y="545.5" width="4" height="4" fill="none" stroke="#1c6e1c" stroke-width="1"/><rect x="115.5" y="545.5" width="4" height="4" fill="none" stroke="#1c6e1c" stroke-width="1"/><rect x="123.5" y="544.5" width="4" height="4" fill="none" stroke="#1c6e1c" stroke-width="1"/><rect x="131.5" y="544.5" width="4" height="4" fill="none" stroke="#1c6e1c" stroke-width="1"/><rect x="139.5" y="544.5" width="4" height="4" fill="none" stroke="#1c6e1c" stroke-width="1"/><rect x="147.5" y="544.5" width="4" height="4" fill="none" stroke="#1c6e1c" stroke-width="1"/><rect x="155.5" y="544.5" width="4" height="4" fill="none" stroke="#1c6e1c" stroke-width="1"/><rect x="163.5" y="544.5" width="4" height="4" fill="none" stroke="#1c6e1c" stroke-width="1"/><rect x="171.5" y="543.5" width="4" height="4" fill="none" stroke="#1c6e1c" stroke-width="1"/><rect x="179.5" y="543.5" width="4" height="4" fill="none" stroke="#1c6e1c" stroke-width="1"/><rect x="187.5" y="543.5" width="4" height="4" fill="none" stroke="#1c6e1c" stroke-width="1"/><rect x="195.5" y="543.5" width="4" height="4" fill="none" stroke="#1c6e1c" stroke-width="1"/><rect x="203.5" y="543.5" width="4" height="4" fill="none" stroke="#1c6e1c" stroke-width="1"/><rect x="211.5" y="543.5" width="4" height="4" fill="none" stroke="#1c6e1c" stroke-width="1"/><rect x="219.5" y="542.5" width="4" height="4" fill="none" stroke="#1c6e1c" stroke-width="1"/><rect x="227.5" y="542.5" width="4" height="4" fill="none" stroke="#1c6e1c" stroke-width="1"/><rect x="235.5" y="542.5" width="4" height="4" fill="none" stroke="#1c6e1c" stroke-width="1"/><rect x="243.5" y="542.5" width="4" height="4" fill="none" stroke="#1c6e1c" stroke-width="1"/><rect x="251.5" y="541.5" width="4" height="4" fill="none" stroke="#1c6e1c" stroke-width="1"/><rect x="259.5" y="541.5" width="4" height="4" fill="none" stroke="#1c6e1c" stroke-width="1"/><rect x="267.5" y="541.5" width="4" height="4" fill="none" stroke="#1c6e1c" stroke-width="1"/><rect x="275.5" y="541.5" width="4" height="4" fill="none" stroke="#1c6e1c" stroke-width="1"/><rect x="283.5" y="540.5" width="4" height="4" fill="none" stroke="#1c6e1c" stroke-width="1"/><rect x="291.5" y="540.5" width="4" height="4" fill="none" stroke="#1c6e1c" stroke-width="1"/><rect x="299.5" y="540.5" width="4" height="4" fill="none" stroke="#1c6e1c" stroke-width="1"/><rect x="307.5" y="540.5" width="4" height="4" fill="none" stroke="#1c6e1c" stroke-width="1"/><rect x="315.5" y="539.5" width="4" height="4" fill="none" stroke="#1c6e1c" stroke-width="1"/><rect x="323.5" y="539.5" width="4" height="4" fill="none" stroke="#1c6e1c" stroke-width="1"/><rect x="331.5" y="539.5" width="4" height="4" fill="none" stroke="#1c6e1c" stroke-width="1"/><rect x="339.5" y="539.5" width="4" height="4" fill="none" stroke="#1c6e1c" stroke-width="1"/><rect x="347.5" y="539.5" width="4" height="4" fill="none" stroke="#1c6e1c" stroke-width="1"/><rect x="355.5" y="539.5" width="4" height="4" fill="none" stroke="#1c6e1c" stroke-width="1"/><rect x="363.5" y="538.5" width="4" height="4" fill="none" stroke="#1c6e1c" stroke-width="1"/><rect x="371.5" y="538.5" width="4" height="4" fill="none" stroke="#1c6e1c" stroke-width="1"/><rect x="379.5" y="538.5" width="4" height="4" fill="none" stroke="#1c6e1c" stroke-width="1"/><rect x="387.5" y="538.5" width="4" height="4" fill="none" stroke="#1c6e1c" stroke-width="1"/><rect x="395.5" y="538.5" width="4" height="4" fill="none" stroke="#1c6e1c" stroke-width="1"/><rect x="403.5" y="538.5" width="4" height="4" fill="none" stroke="#1c6e1c" stroke-width="1"/><rect x="411.5" y="537.5" width="4" height="4" fill="none" stroke="#1c6e1c" stroke-width="1"/><rect x="419.5" y="537.5" width="4" height="4" fill="none" stroke="#1c6e1c" stroke-width="1"/><rect x="427.5" y="537.5" width="4" height="4" fill="none" stroke="#1c6e1c" stroke-width="1"/><rect x="435.5" y="537.5" width="4" height="4" fill="none" stroke="#1c6e1c" stroke-width="1"/><rect x="443.5" y="536.5" width="4" height="4" fill="none" stroke="#1c6e1c" stroke-width="1"/><rect x="451.5" y="536.5" width="4" height="4" fill="none" stroke="#1c6e1c" stroke-width="1"/><rect x="459.5" y="536.5" width="4" height="4" fill="none" stroke="#1c6e1c" stroke-width="1"/><rect x="467.5" y="536.5" width="4" height="4" fill="none" stroke="#1c6e1c" stroke-width="1"/><rect x="475.5" y="535.5" width="4" height="4" fill="none" stroke="#1c6e1c" stroke-width="1"/><rect x="483.5" y="535.5" width="4" height="4" fill="none" stroke="#1c6e1c" stroke-width="1"/><rect x="491.5" y="535.5" width="4" height="4" fill="none" stroke="#1c6e1c" stroke-width="1"/><rect x="499.5" y="535.5" width="4" height="4" fill="none" stroke="#1c6e1c" stroke-width="1"/><rect x="507.5" y="535.5" width="4" height="4" fill="none" stroke="#1c6e1c" stroke-width="1"/><rect x="515.5" y="535.5" width="4" height="4" fill="none" stroke="#1c6e1c" stroke-width="1"/><rect x="523.5" y="534.5" width="4" height="4" fill="none" stroke="#1c6e1c" stroke-width="1"/><rect x="531.5" y="534.5" width="4" height="4" fill="none" stroke="#1c6e1c" stroke-width="1"/><rect x="539.5" y="534.5" width="4" height="4" fill="none" stroke="#1c6e1c" stroke-width="1"/><rect x="547.5" y="534.5" width="4" height="4" fill="none" stroke="#1c6e1c" stroke-width="1"/><rect x="555.5" y="534.5" width="4" height="4" fill="none" stroke="#1c6e1c" stroke-width="1"/><rect x="563.5" y="534.5" width="4" height="4" fill="none" stroke="#1c6e1c" stroke-width="1"/><rect x="571.5" y="533.5" width="4" height="4" fill="none" stroke="#1c6e1c" stroke-width="1"/><rect x="579.5" y="533.5" width="4" height="4" fill="none" stroke="#1c6e1c" stroke-width="1"/><rect x="587.5" y="533.5" width="4" height="4" fill="none" stroke="#1c6e1c" stroke-width="1"/><rect x="595.5" y="532.5" width="4" height="4" fill="none" stroke="#1c6e1c" stroke-width="1"/><rect x="603.5" y="532.5" width="4" height="4" fill="none" stroke="#1c6e1c" stroke-width="1"/><rect x="611.5" y="532.5" width="4" height="4" fill="none" stroke="#1c6e1c" stroke-width="1"/><rect x="619.5" y="531.5" width="4" height="4" fill="none" stroke="#1c6e1c" stroke-width="1"/><rect x="627.5" y="531.5" width="4" height="4" fill="none" stroke="#1c6e1c" stroke-width="1"/><rect x="635.5" y="531.5" width="4" height="4" fill="none" stroke="#1c6e1c" stroke-width="1"/><rect x="643.5" y="531.5" width="4" height="4" fill="none" stroke="#1c6e1c" stroke-width="1"/><rect x="651.5" y="530.5" width="4" height="4" fill="none" stroke="#1c6e1c" stroke-width="1"/><rect x="659.5" y="530.5" width="4" height="4" fill="none" stroke="#1c6e1c" stroke-width="1"/><rect x="667.5" y="530.5" width="4" height="4" fill="none" stroke="#1c6e1c" stroke-width="1"/><rect x="675.5" y="530.5" width="4" height="4" fill="none" stroke="#1c6e1c" stroke-width="1"/><rect x="683.5" y="530.5" width="4" height="4" fill="none" stroke="#1c6e1c" stroke-width="1"/><rect x="691.5" y="530.5" width="4" height="4" fill="none" stroke="#1c6e1c" stroke-width="1"/><rect x="699.5" y="530.5" width="4" height="4" fill="none" stroke="#1c6e1c" stroke-width="1"/><rect x="707.5" y="529.5" width="4" height="4" fill="none" stroke="#1c6e1c" stroke-width="1"/><rect x="715.5" y="529.5" width="4" height="4" fill="none" stroke="#1c6e1c" stroke-width="1"/><rect x="723.5" y="529.5" width="4" height="4" fill="none" stroke="#1c6e1c" stroke-width="1"/><rect x="731.5" y="529.5" width="4" height="4" fill="none" stroke="#1c6e1c" stroke-width="1"/><rect x="739.5" y="529.5" width="4" height="4" fill="none" stroke="#1c6e1c" stroke-width="1"/><rect x="747.5" y="529.5" width="4" height="4" fill="none" stroke="#1c6e1c" stroke-width="1"/><rect x="755.5" y="528.5" width="4" height="4" fill="none" stroke="#1c6e1c" stroke-width="1"/><rect x="763.5" y="528.5" width="4" height="4" fill="none" stroke="#1c6e1c" stroke-width="1"/><rect x="771.5" y="528.5" width="4" height="4" fill="none" stroke="#1c6e1c" stroke-width="1"/><rect x="779.5" y="528.5" width="4" height="4" fill="none" stroke="#1c6e1c" stroke-width="1"/><rect x="787.5" y="528.5" width="4" height="4" fill="none" stroke="#1c6e1c" stroke-width="1"/><rect x="795.5" y="528.5" width="4" height="4" fill="none" stroke="#1c6e1c" stroke-width="1"/><rect x="803.5" y="527.5" width="4" height="4" fill="none" stroke="#1c6e1c" stroke-width="1"/><rect x="811.5" y="527.5" width="4" height="4" fill="none" stroke="#1c6e1c" stroke-width="1"/><rect x="819.5" y="527.5" width="4" height="4" fill="none" stroke="#1c6e1c" stroke-width="1"/><rect x="827.5" y="527.5" width="4" height="4" fill="none" stroke="#1c6e1c" stroke-width="1"/><rect x="835.5" y="527.5" width="4" height="4" fill="none" stroke="#1c6e1c" stroke-width="1"/><rect x="843.5" y="526.5" width="4" height="4" fill="none" stroke="#1c6e1c" stroke-width="1"/><rect x="851.5" y="526.5" width="4" height="4" fill="none" stroke="#1c6e1c" stroke-width="1"/><rect x="859.5" y="526.5" width="4" height="4" fill="none" stroke="#1c6e1c" stroke-width="1"/><rect x="867.5" y="526.5" width="4" height="4" fill="none" stroke="#1c6e1c" stroke-width="1"/><rect x="875.5" y="526.5" width="4" height="4" fill="none" stroke="#1c6e1c" stroke-width="1"/><rect x="883.5" y="526.5" width="4" height="4" fill="none" stroke="#1c6e1c" stroke-width="1"/><rect x="891.5" y="526.5" width="4" height="4" fill="none" stroke="#1c6e1c" stroke-width="1"/><rect x="899.5" y="525.5" width="4" height="4" fill="none" stroke="#1c6e1c" stroke-width="1"/><rect x="907.5" y="525.5" width="4" height="4" fill="none" stroke="#1c6e1c" stroke-width="1"/><rect x="915.5" y="525.5" width="4" height="4" fill="none" stroke="#1c6e1c" stroke-width="1"/><rect x="923.5" y="525.5" width="4" height="4" fill="none" stroke="#1c6e1c" stroke-width="1"/><rect x="931.5" y="524.5" width="4" height="4" fill="none" stroke="#1c6e1c" stroke-width="1"/><rect x="939.5" y="524.5" width="4" height="4" fill="none" stroke="#1c6e1c" stroke-width="1"/><rect x="947.5" y="524.5" width="4" height="4" fill="none" stroke="#1c6e1c" stroke-width="1"/><rect x="955.5" y="524.5" width="4" height="4" fill="none" stroke="#1c6e1c" stroke-width="1"/><rect x="963.5" y="524.5" width="4" height="4" fill="none" stroke="#1c6e1c" stroke-width="1"/><rect x="971.5" y="524.5" width="4" height="4" fill="none" stroke="#1c6e1c" stroke-width="1"/><rect x="979.5" y="524.5" width="4" height="4" fill="none" stroke="#1c6e1c" stroke-width="1"/><rect x="987.5" y="524.5" width="4" height="4" fill="none" stroke="#1c6e1c" stroke-width="1"/><rect x="995.5" y="524.5" width="4" height="4" fill="none" stroke="#1c6e1c" stroke-width="1"/><rect x="1003.5" y="524.5" width="4" height="4" fill="none" stroke="#1c6e1c" stroke-width="1"/><rect x="1011.5" y="523.5" width="4" height="4" fill="none" stroke="#1c6e1c" stroke-width="1"/><rect x="1019.5" y="523.5" width="4" height="4" fill="none" stroke="#1c6e1c" stroke-width="1"/><rect x="1027.5" y="523.5" width="4" height="4" fill="none" stroke="#1c6e1c" stroke-width="1"/><rect x="1035.5" y="523.5" width="4" height="4" fill="none" stroke="#1c6e1c" stroke-width="1"/><rect x="1043.5" y="522.5" width="4" height="4" fill="none" stroke="#1c6e1c" stroke-width="1"/><rect x="1051.5" y="522.5" width="4" height="4" fill="none" stroke="#1c6e1c" stroke-width="1"/><rect x="1059.5" y="522.5" width="4" height="4" fill="none" stroke="#1c6e1c" stroke-width="1"/><rect x="1067.5" y="522.5" width="4" height="4" fill="none" stroke="#1c6e1c" stroke-width="1"/><rect x="1075.5" y="521.5" width="4" height="4" fill="none" stroke="#1c6e1c" stroke-width="1"/><rect x="1083.5" y="521.5" width="4" height="4" fill="none" stroke="#1c6e1c" stroke-width="1"/><rect x="1091.5" y="521.5" width="4" height="4" fill="none" stroke="#1c6e1c" stroke-width="1"/><rect x="1099.5" y="521.5" width="4" height="4" fill="none" stroke="#1c6e1c" stroke-width="1"/><rect x="1107.5" y="521.5" width="4" height="4" fill="none" stroke="#1c6e1c" stroke-width="1"/><rect x="1115.5" y="520.5" width="4" height="4" fill="none" stroke="#1c6e1c" stroke-width="1"/><rect x="1123.5" y="520.5" width="4" height="4" fill="none" stroke="#1c6e1c" stroke-width="1"/><rect x="1131.5" y="520.5" width="4" height="4" fill="none" stroke="#1c6e1c" stroke-width="1"/><rect x="1139.5" y="520.5" width="4" height="4" fill="none" stroke="#1c6e1c" stroke-width="1"/><rect x="1147.5" y="520.5" width="4" height="4" fill="none" stroke="#1c6e1c" stroke-width="1"/><rect x="1155.5" y="520.5" width="4" height="4" fill="none" stroke="#1c6e1c" stroke-width="1"/><rect x="1163.5" y="520.5" width="4" height="4" fill="none" stroke="#1c6e1c" stroke-width="1"/><rect x="1171.5" y="520.5" width="4" height="4" fill="none" stroke="#1c6e1c" stroke-width="1"/><rect x="1179.5" y="520.5" width="4" height="4" fill="none" stroke="#1c6e1c" stroke-width="1"/><rect x="1187.5" y="519.5" width="4" height="4" fill="none" stroke="#1c6e1c" stroke-width="1"/><rect x="1195.5" y="519.5" width="4" height="4" fill="none" stroke="#1c6e1c" stroke-width="1"/><rect x="1203.5" y="519.5" width="4" height="4" fill="none" stroke="#1c6e1c" stroke-width="1"/><rect x="1211.5" y="519.5" width="4" height="4" fill="none" stroke="#1c6e1c" stroke-width="1"/><rect x="1219.5" y="519.5" width="4" height="4" fill="none" stroke="#1c6e1c" stroke-width="1"/><rect x="1227.5" y="519.5" width="4" height="4" fill="none" stroke="#1c6e1c" stroke-width="1"/><rect x="1235.5" y="518.5" width="4" height="4" fill="none" stroke="#1c6e1c" stroke-width="1"/><rect x="1243.5" y="518.5" width="4" height="4" fill="none" stroke="#1c6e1c" stroke-width="1"/><rect x="1251.5" y="518.5" width="4" height="4" fill="none" stroke="#1c6e1c" stroke-width="1"/><rect x="1259.5" y="518.5" width="4" height="4" fill="none" stroke="#1c6e1c" stroke-width="1"/><rect x="1267.5" y="517.5" width="4" height="4" fill="none" stroke="#1c6e1c" stroke-width="1"/><rect x="1275.5" y="517.5" width="4" height="4" fill="none" stroke="#1c6e1c" stroke-width="1"/><rect x="1283.5" y="517.5" width="4" height="4" fill="none" stroke="#1c6e1c" stroke-width="1"/><rect x="1291.5" y="517.5" width="4" height="4" fill="none" stroke="#1c6e1c" stroke-width="1"/><rect x="1299.5" y="517.5" width="4" height="4" fill="none" stroke="#1c6e1c" stroke-width="1"/><rect x="1307.5" y="516.5" width="4" height="4" fill="none" stroke="#1c6e1c" stroke-width="1"/><rect x="1315.5" y="516.5" width="4" height="4" fill="none" stroke="#1c6e1c" stroke-width="1"/><rect x="1323.5" y="516.5" width="4" height="4" fill="none" stroke="#1c6e1c" stroke-width="1"/><rect x="1331.5" y="516.5" width="4" height="4" fill="none" stroke="#1c6e1c" stroke-width="1"/><rect x="1339.5" y="516.5" width="4" height="4" fill="none" stroke="#1c6e1c" stroke-width="1"/><rect x="1347.5" y="516.5" width="4" height="4" fill="none" stroke="#1c6e1c" stroke-width="1"/><rect x="1355.5" y="516.5" width="4" height="4" fill="none" stroke="#1c6e1c" stroke-width="1"/><rect x="1363.5" y="516.5" width="4" height="4" fill="none" stroke="#1c6e1c" stroke-width="1"/><rect x="1371.5" y="516.5" width="4" height="4" fill="none" stroke="#1c6e1c" stroke-width="1"/><rect x="1379.5" y="515.5" width="4" height="4" fill="none" stroke="#1c6e1c" stroke-width="1"/><rect x="1387.5" y="515.5" width="4" height="4" fill="none" stroke="#1c6e1c" stroke-width="1"/><rect x="1395.5" y="515.5" width="4" height="4" fill="none" stroke="#1c6e1c" stroke-width="1"/><rect x="1403.5" y="515.5" width="4" height="4" fill="none" stroke="#1c6e1c" stroke-width="1"/><rect x="1411.5" y="515.5" width="4" height="4" fill="none" stroke="#1c6e1c" stroke-width="1"/><rect x="1419.5" y="514.5" width="4" height="4" fill="none" stroke="#1c6e1c" stroke-width="1"/><rect x="1427.5" y="514.5" width="4" height="4" fill="none" stroke="#1c6e1c" stroke-width="1"/><rect x="1435.5" y="514.5" width="4" height="4" fill="none" stroke="#1c6e1c" stroke-width="1"/><rect x="1443.5" y="514.5" width="4" height="4" fill="none" stroke="#1c6e1c" stroke-width="1"/><rect x="1451.5" y="514.5" width="4" height="4" fill="none" stroke="#1c6e1c" stroke-width="1"/><rect x="1459.5" y="514.5" width="4" height="4" fill="none" stroke="#1c6e1c" stroke-width="1"/><rect x="1467.5" y="514.5" width="4" height="4" fill="none" stroke="#1c6e1c" stroke-width="1"/><rect x="3.5" y="568.5" width="4" height="4" fill="none" stroke="#c83cc8" stroke-width="1.2"/><rect x="11.5" y="569.5" width="4" height="4" fill="none" stroke="#c83cc8" stroke-width="1.2"/><rect x="19.5" y="570.5" width="4" height="4" fill="none" stroke="#c83cc8" stroke-width="1.2"/><rect x="27.5" y="571.5" width="4" height="4" fill="none" stroke="#c83cc8" stroke-width="1.2"/><rect x="35.5" y="572.5" width="4" height="4" fill="none" stroke="#c83cc8" stroke-width="1.2"/><rect x="43.5" y="572.5" width="4" height="4" fill="none" stroke="#c83cc8" stroke-width="1.2"/><rect x="51.5" y="573.5" width="4" height="4" fill="none" stroke="#c83cc8" stroke-width="1.2"/><rect x="59.5" y="574.5" width="4" height="4" fill="none" stroke="#c83cc8" stroke-width="1.2"/><rect x="67.5" y="574.5" width="4" height="4" fill="none" stroke="#c83cc8" stroke-width="1.2"/><rect x="75.5" y="575.5" width="4" height="4" fill="none" stroke="#c83cc8" stroke-width="1.2"/><rect x="83.5" y="576.5" width="4" height="4" fill="none" stroke="#c83cc8" stroke-width="1.2"/><rect x="91.5" y="576.5" width="4" height="4" fill="none" stroke="#c83cc8" stroke-width="1.2"/><rect x="99.5" y="576.5" width="4" height="4" fill="none" stroke="#c83cc8" stroke-width="1.2"/><rect x="107.5" y="577.5" width="4" height="4" fill="none" stroke="#c83cc8" stroke-width="1.2"/><rect x="115.5" y="577.5" width="4" height="4" fill="none" stroke="#c83cc8" stroke-width="1.2"/><rect x="123.5" y="578.5" width="4" height="4" fill="none" stroke="#c83cc8" stroke-width="1.2"/><rect x="131.5" y="578.5" width="4" height="4" fill="none" stroke="#c83cc8" stroke-width="1.2"/><rect x="139.5" y="578.5" width="4" height="4" fill="none" stroke="#c83cc8" stroke-width="1.2"/><rect x="147.5" y="579.5" width="4" height="4" fill="none" stroke="#c83cc8" stroke-width="1.2"/><rect x="155.5" y="579.5" width="4" height="4" fill="none" stroke="#c83cc8" stroke-width="1.2"/><rect x="163.5" y="580.5" width="4" height="4" fill="none" stroke="#c83cc8" stroke-width="1.2"/><rect x="171.5" y="580.5" width="4" height="4" fill="none" stroke="#c83cc8" stroke-width="1.2"/><rect x="179.5" y="580.5" width="4" height="4" fill="none" stroke="#c83cc8" stroke-width="1.2"/><rect x="187.5" y="580.5" width="4" height="4" fill="none" stroke="#c83cc8" stroke-width="1.2"/><rect x="195.5" y="580.5" width="4" height="4" fill="none" stroke="#c83cc8" stroke-width="1.2"/><rect x="203.5" y="581.5" width="4" height="4" fill="none" stroke="#c83cc8" stroke-width="1.2"/><rect x="211.5" y="581.5" width="4" height="4" fill="none" stroke="#c83cc8" stroke-width="1.2"/><rect x="219.5" y="581.5" width="4" height="4" fill="none" stroke="#c83cc8" stroke-width="1.2"/><rect x="227.5" y="581.5" width="4" height="4" fill="none" stroke="#c83cc8" stroke-width="1.2"/><rect x="235.5" y="581.5" width="4" height="4" fill="none" stroke="#c83cc8" stroke-width="1.2"/><rect x="243.5" y="581.5" width="4" height="4" fill="none" stroke="#c83cc8" stroke-width="1.2"/><rect x="251.5" y="581.5" width="4" height="4" fill="none" stroke="#c83cc8" stroke-width="1.2"/><rect x="259.5" y="581.5" width="4" height="4" fill="none" stroke="#c83cc8" stroke-width="1.2"/><rect x="267.5" y="581.5" width="4" height="4" fill="none" stroke="#2ee02e" stroke-width="1.2"/><rect x="275.5" y="581.5" width="4" height="4" fill="none" stroke="#2ee02e" stroke-width="1.2"/><rect x="283.5" y="581.5" width="4" height="4" fill="none" stroke="#2ee02e" stroke-width="1.2"/><rect x="291.5" y="580.5" width="4" height="4" fill="none" stroke="#2ee02e" stroke-width="1.2"/><rect x="299.5" y="580.5" width="4" height="4" fill="none" stroke="#2ee02e" stroke-width="1.2"/><rect x="307.5" y="579.5" width="4" height="4" fill="none" stroke="#2ee02e" stroke-width="1.2"/><rect x="315.5" y="578.5" width="4" height="4" fill="none" stroke="#2ee02e" stroke-width="1.2"/><rect x="323.5" y="577.5" width="4" height="4" fill="none" stroke="#2ee02e" stroke-width="1.2"/><rect x="331.5" y="576.5" width="4" height="4" fill="none" stroke="#2ee02e" stroke-width="1.2"/><rect x="339.5" y="575.5" width="4" height="4" fill="none" stroke="#2ee02e" stroke-width="1.2"/><rect x="347.5" y="574.5" width="4" height="4" fill="none" stroke="#2ee02e" stroke-width="1.2"/><rect x="355.5" y="573.5" width="4" height="4" fill="none" stroke="#2ee02e" stroke-width="1.2"/><rect x="363.5" y="572.5" width="4" height="4" fill="none" stroke="#2ee02e" stroke-width="1.2"/><rect x="371.5" y="571.5" width="4" height="4" fill="none" stroke="#2ee02e" stroke-width="1.2"/><rect x="379.5" y="569.5" width="4" height="4" fill="none" stroke="#2ee02e" stroke-width="1.2"/><rect x="387.5" y="568.5" width="4" height="4" fill="none" stroke="#2ee02e" stroke-width="1.2"/><rect x="395.5" y="567.5" width="4" height="4" fill="none" stroke="#2ee02e" stroke-width="1.2"/><rect x="403.5" y="566.5" width="4" height="4" fill="none" stroke="#2ee02e" stroke-width="1.2"/><rect x="411.5" y="565.5" width="4" height="4" fill="none" stroke="#2ee02e" stroke-width="1.2"/><rect x="419.5" y="563.5" width="4" height="4" fill="none" stroke="#2ee02e" stroke-width="1.2"/><rect x="427.5" y="562.5" width="4" height="4" fill="none" stroke="#2ee02e" stroke-width="1.2"/><rect x="435.5" y="561.5" width="4" height="4" fill="none" stroke="#2ee02e" stroke-width="1.2"/><rect x="443.5" y="559.5" width="4" height="4" fill="none" stroke="#2ee02e" stroke-width="1.2"/><rect x="451.5" y="558.5" width="4" height="4" fill="none" stroke="#2ee02e" stroke-width="1.2"/><rect x="459.5" y="556.5" width="4" height="4" fill="none" stroke="#2ee02e" stroke-width="1.2"/><rect x="467.5" y="555.5" width="4" height="4" fill="none" stroke="#2ee02e" stroke-width="1.2"/><rect x="475.5" y="553.5" width="4" height="4" fill="none" stroke="#2ee02e" stroke-width="1.2"/><rect x="483.5" y="552.5" width="4" height="4" fill="none" stroke="#2ee02e" stroke-width="1.2"/><rect x="491.5" y="550.5" width="4" height="4" fill="none" stroke="#2ee02e" stroke-width="1.2"/><rect x="499.5" y="549.5" width="4" height="4" fill="none" stroke="#2ee02e" stroke-width="1.2"/><rect x="507.5" y="548.5" width="4" height="4" fill="none" stroke="#2ee02e" stroke-width="1.2"/><rect x="515.5" y="547.5" width="4" height="4" fill="none" stroke="#2ee02e" stroke-width="1.2"/><rect x="523.5" y="545.5" width="4" height="4" fill="none" stroke="#2ee02e" stroke-width="1.2"/><rect x="531.5" y="544.5" width="4" height="4" fill="none" stroke="#2ee02e" stroke-width="1.2"/><rect x="539.5" y="543.5" width="4" height="4" fill="none" stroke="#2ee02e" stroke-width="1.2"/><rect x="547.5" y="542.5" width="4" height="4" fill="none" stroke="#2ee02e" stroke-width="1.2"/><rect x="555.5" y="540.5" width="4" height="4" fill="none" stroke="#2ee02e" stroke-width="1.2"/><rect x="563.5" y="539.5" width="4" height="4" fill="none" stroke="#2ee02e" stroke-width="1.2"/><rect x="571.5" y="538.5" width="4" height="4" fill="none" stroke="#2ee02e" stroke-width="1.2"/><rect x="579.5" y="537.5" width="4" height="4" fill="none" stroke="#2ee02e" stroke-width="1.2"/><rect x="587.5" y="536.5" width="4" height="4" fill="none" stroke="#2ee02e" stroke-width="1.2"/><rect x="595.5" y="535.5" width="4" height="4" fill="none" stroke="#2ee02e" stroke-width="1.2"/><rect x="603.5" y="534.5" width="4" height="4" fill="none" stroke="#2ee02e" stroke-width="1.2"/><rect x="611.5" y="533.5" width="4" height="4" fill="none" stroke="#2ee02e" stroke-width="1.2"/><rect x="619.5" y="533.5" width="4" height="4" fill="none" stroke="#2ee02e" stroke-width="1.2"/><rect x="627.5" y="532.5" width="4" height="4" fill="none" stroke="#2ee02e" stroke-width="1.2"/><rect x="635.5" y="531.5" width="4" height="4" fill="none" stroke="#2ee02e" stroke-width="1.2"/><rect x="643.5" y="529.5" width="4" height="4" fill="none" stroke="#2ee02e" stroke-width="1.2"/><rect x="651.5" y="528.5" width="4" height="4" fill="none" stroke="#2ee02e" stroke-width="1.2"/><rect x="659.5" y="528.5" width="4" height="4" fill="none" stroke="#2ee02e" stroke-width="1.2"/><rect x="667.5" y="527.5" width="4" height="4" fill="none" stroke="#2ee02e" stroke-width="1.2"/><rect x="675.5" y="526.5" width="4" height="4" fill="none" stroke="#2ee02e" stroke-width="1.2"/><rect x="683.5" y="525.5" width="4" height="4" fill="none" stroke="#2ee02e" stroke-width="1.2"/><rect x="691.5" y="525.5" width="4" height="4" fill="none" stroke="#2ee02e" stroke-width="1.2"/><rect x="699.5" y="524.5" width="4" height="4" fill="none" stroke="#2ee02e" stroke-width="1.2"/><rect x="707.5" y="523.5" width="4" height="4" fill="none" stroke="#2ee02e" stroke-width="1.2"/><rect x="715.5" y="522.5" width="4" height="4" fill="none" stroke="#2ee02e" stroke-width="1.2"/><rect x="723.5" y="522.5" width="4" height="4" fill="none" stroke="#2ee02e" stroke-width="1.2"/><rect x="731.5" y="521.5" width="4" height="4" fill="none" stroke="#2ee02e" stroke-width="1.2"/><rect x="739.5" y="521.5" width="4" height="4" fill="none" stroke="#2ee02e" stroke-width="1.2"/><rect x="747.5" y="520.5" width="4" height="4" fill="none" stroke="#2ee02e" stroke-width="1.2"/><rect x="755.5" y="520.5" width="4" height="4" fill="none" stroke="#2ee02e" stroke-width="1.2"/><rect x="763.5" y="519.5" width="4" height="4" fill="none" stroke="#2ee02e" stroke-width="1.2"/><rect x="771.5" y="518.5" width="4" height="4" fill="none" stroke="#2ee02e" stroke-width="1.2"/><rect x="779.5" y="518.5" width="4" height="4" fill="none" stroke="#2ee02e" stroke-width="1.2"/><rect x="787.5" y="517.5" width="4" height="4" fill="none" stroke="#2ee02e" stroke-width="1.2"/><rect x="795.5" y="517.5" width="4" height="4" fill="none" stroke="#2ee02e" stroke-width="1.2"/><rect x="803.5" y="516.5" width="4" height="4" fill="none" stroke="#2ee02e" stroke-width="1.2"/><rect x="811.5" y="516.5" width="4" height="4" fill="none" stroke="#2ee02e" stroke-width="1.2"/><rect x="819.5" y="515.5" width="4" height="4" fill="none" stroke="#2ee02e" stroke-width="1.2"/><rect x="827.5" y="515.5" width="4" height="4" fill="none" stroke="#2ee02e" stroke-width="1.2"/><rect x="835.5" y="514.5" width="4" height="4" fill="none" stroke="#2ee02e" stroke-width="1.2"/><rect x="843.5" y="514.5" width="4" height="4" fill="none" stroke="#2ee02e" stroke-width="1.2"/><rect x="851.5" y="513.5" width="4" height="4" fill="none" stroke="#2ee02e" stroke-width="1.2"/><rect x="859.5" y="513.5" width="4" height="4" fill="none" stroke="#2ee02e" stroke-width="1.2"/><rect x="867.5" y="512.5" width="4" height="4" fill="none" stroke="#2ee02e" stroke-width="1.2"/><rect x="875.5" y="512.5" width="4" height="4" fill="none" stroke="#2ee02e" stroke-width="1.2"/><rect x="883.5" y="511.5" width="4" height="4" fill="none" stroke="#2ee02e" stroke-width="1.2"/><rect x="891.5" y="511.5" width="4" height="4" fill="none" stroke="#2ee02e" stroke-width="1.2"/><rect x="899.5" y="510.5" width="4" height="4" fill="none" stroke="#2ee02e" stroke-width="1.2"/><rect x="907.5" y="510.5" width="4" height="4" fill="none" stroke="#2ee02e" stroke-width="1.2"/><rect x="915.5" y="510.5" width="4" height="4" fill="none" stroke="#2ee02e" stroke-width="1.2"/><rect x="923.5" y="509.5" width="4" height="4" fill="none" stroke="#2ee02e" stroke-width="1.2"/><rect x="931.5" y="509.5" width="4" height="4" fill="none" stroke="#2ee02e" stroke-width="1.2"/><rect x="939.5" y="508.5" width="4" height="4" fill="none" stroke="#2ee02e" stroke-width="1.2"/><rect x="947.5" y="508.5" width="4" height="4" fill="none" stroke="#2ee02e" stroke-width="1.2"/><rect x="955.5" y="507.5" width="4" height="4" fill="none" stroke="#2ee02e" stroke-width="1.2"/><rect x="963.5" y="507.5" width="4" height="4" fill="none" stroke="#2ee02e" stroke-width="1.2"/><rect x="971.5" y="506.5" width="4" height="4" fill="none" stroke="#2ee02e" stroke-width="1.2"/><rect x="979.5" y="506.5" width="4" height="4" fill="none" stroke="#2ee02e" stroke-width="1.2"/><rect x="987.5" y="506.5" width="4" height="4" fill="none" stroke="#2ee02e" stroke-width="1.2"/><rect x="995.5" y="506.5" width="4" height="4" fill="none" stroke="#2ee02e" stroke-width="1.2"/><rect x="1003.5" y="505.5" width="4" height="4" fill="none" stroke="#2ee02e" stroke-width="1.2"/><rect x="1011.5" y="505.5" width="4" height="4" fill="none" stroke="#2ee02e" stroke-width="1.2"/><rect x="1019.5" y="504.5" width="4" height="4" fill="none" stroke="#2ee02e" stroke-width="1.2"/><rect x="1027.5" y="504.5" width="4" height="4" fill="none" stroke="#2ee02e" stroke-width="1.2"/><rect x="1035.5" y="503.5" width="4" height="4" fill="none" stroke="#2ee02e" stroke-width="1.2"/><rect x="1043.5" y="503.5" width="4" height="4" fill="none" stroke="#2ee02e" stroke-width="1.2"/><rect x="1051.5" y="503.5" width="4" height="4" fill="none" stroke="#2ee02e" stroke-width="1.2"/><rect x="1059.5" y="503.5" width="4" height="4" fill="none" stroke="#2ee02e" stroke-width="1.2"/><rect x="1067.5" y="502.5" width="4" height="4" fill="none" stroke="#2ee02e" stroke-width="1.2"/><rect x="1075.5" y="502.5" width="4" height="4" fill="none" stroke="#2ee02e" stroke-width="1.2"/><rect x="1083.5" y="502.5" width="4" height="4" fill="none" stroke="#2ee02e" stroke-width="1.2"/><rect x="1091.5" y="501.5" width="4" height="4" fill="none" stroke="#2ee02e" stroke-width="1.2"/><rect x="1099.5" y="501.5" width="4" height="4" fill="none" stroke="#2ee02e" stroke-width="1.2"/><rect x="1107.5" y="500.5" width="4" height="4" fill="none" stroke="#2ee02e" stroke-width="1.2"/><rect x="1115.5" y="500.5" width="4" height="4" fill="none" stroke="#2ee02e" stroke-width="1.2"/><rect x="1123.5" y="499.5" width="4" height="4" fill="none" stroke="#2ee02e" stroke-width="1.2"/><rect x="1131.5" y="499.5" width="4" height="4" fill="none" stroke="#2ee02e" stroke-width="1.2"/><rect x="1139.5" y="498.5" width="4" height="4" fill="none" stroke="#2ee02e" stroke-width="1.2"/><rect x="1147.5" y="498.5" width="4" height="4" fill="none" stroke="#2ee02e" stroke-width="1.2"/><rect x="1155.5" y="497.5" width="4" height="4" fill="none" stroke="#2ee02e" stroke-width="1.2"/><rect x="1163.5" y="497.5" width="4" height="4" fill="none" stroke="#2ee02e" stroke-width="1.2"/><rect x="1171.5" y="496.5" width="4" height="4" fill="none" stroke="#2ee02e" stroke-width="1.2"/><rect x="1179.5" y="496.5" width="4" height="4" fill="none" stroke="#2ee02e" stroke-width="1.2"/><rect x="1187.5" y="496.5" width="4" height="4" fill="none" stroke="#2ee02e" stroke-width="1.2"/><rect x="1195.5" y="496.5" width="4" height="4" fill="none" stroke="#2ee02e" stroke-width="1.2"/><rect x="1203.5" y="495.5" width="4" height="4" fill="none" stroke="#2ee02e" stroke-width="1.2"/><rect x="1211.5" y="494.5" width="4" height="4" fill="none" stroke="#2ee02e" stroke-width="1.2"/><rect x="1219.5" y="494.5" width="4" height="4" fill="none" stroke="#2ee02e" stroke-width="1.2"/><rect x="1227.5" y="493.5" width="4" height="4" fill="none" stroke="#2ee02e" stroke-width="1.2"/><rect x="1235.5" y="492.5" width="4" height="4" fill="none" stroke="#2ee02e" stroke-width="1.2"/><rect x="1243.5" y="491.5" width="4" height="4" fill="none" stroke="#2ee02e" stroke-width="1.2"/><rect x="1251.5" y="491.5" width="4" height="4" fill="none" stroke="#2ee02e" stroke-width="1.2"/><rect x="1259.5" y="490.5" width="4" height="4" fill="none" stroke="#2ee02e" stroke-width="1.2"/><rect x="1267.5" y="490.5" width="4" height="4" fill="none" stroke="#2ee02e" stroke-width="1.2"/><rect x="1275.5" y="490.5" width="4" height="4" fill="none" stroke="#2ee02e" stroke-width="1.2"/><rect x="1283.5" y="489.5" width="4" height="4" fill="none" stroke="#2ee02e" stroke-width="1.2"/><rect x="1291.5" y="489.5" width="4" height="4" fill="none" stroke="#2ee02e" stroke-width="1.2"/><rect x="1299.5" y="489.5" width="4" height="4" fill="none" stroke="#2ee02e" stroke-width="1.2"/><rect x="1307.5" y="489.5" width="4" height="4" fill="none" stroke="#2ee02e" stroke-width="1.2"/><rect x="1315.5" y="488.5" width="4" height="4" fill="none" stroke="#2ee02e" stroke-width="1.2"/><rect x="1323.5" y="488.5" width="4" height="4" fill="none" stroke="#2ee02e" stroke-width="1.2"/><rect x="1331.5" y="488.5" width="4" height="4" fill="none" stroke="#2ee02e" stroke-width="1.2"/><rect x="1339.5" y="488.5" width="4" height="4" fill="none" stroke="#2ee02e" stroke-width="1.2"/><rect x="1347.5" y="488.5" width="4" height="4" fill="none" stroke="#2ee02e" stroke-width="1.2"/><rect x="1355.5" y="487.5" width="4" height="4" fill="none" stroke="#2ee02e" stroke-width="1.2"/><rect x="1363.5" y="487.5" width="4" height="4" fill="none" stroke="#2ee02e" stroke-width="1.2"/><rect x="1371.5" y="487.5" width="4" height="4" fill="none" stroke="#2ee02e" stroke-width="1.2"/><rect x="1379.5" y="487.5" width="4" height="4" fill="none" stroke="#2ee02e" stroke-width="1.2"/><rect x="1387.5" y="487.5" width="4" height="4" fill="none" stroke="#2ee02e" stroke-width="1.2"/><rect x="1395.5" y="486.5" width="4" height="4" fill="none" stroke="#2ee02e" stroke-width="1.2"/><rect x="1403.5" y="486.5" width="4" height="4" fill="none" stroke="#2ee02e" stroke-width="1.2"/><rect x="1411.5" y="486.5" width="4" height="4" fill="none" stroke="#2ee02e" stroke-width="1.2"/><rect x="1419.5" y="486.5" width="4" height="4" fill="none" stroke="#2ee02e" stroke-width="1.2"/><rect x="1427.5" y="486.5" width="4" height="4" fill="none" stroke="#2ee02e" stroke-width="1.2"/><rect x="1435.5" y="486.5" width="4" height="4" fill="none" stroke="#2ee02e" stroke-width="1.2"/><rect x="1443.5" y="486.5" width="4" height="4" fill="none" stroke="#2ee02e" stroke-width="1.2"/><rect x="1451.5" y="486.5" width="4" height="4" fill="none" stroke="#2ee02e" stroke-width="1.2"/><rect x="1459.5" y="486.5" width="4" height="4" fill="none" stroke="#2ee02e" stroke-width="1.2"/><rect x="1467.5" y="486.5" width="4" height="4" fill="none" stroke="#2ee02e" stroke-width="1.2"/></g>
<circle cx="317" cy="498" r="7" fill="none" stroke="#fff" stroke-width="1.3"/><text x="317" y="502.5" font-size="11" fill="#fff" text-anchor="middle">1</text>
<circle cx="517" cy="582.7" r="7" fill="none" stroke="#fff" stroke-width="1.3"/><text x="517" y="587.2" font-size="11" fill="#fff" text-anchor="middle">1</text>
<circle cx="957" cy="497.2" r="7" fill="none" stroke="#fff" stroke-width="1.3"/><text x="957" y="501.7" font-size="11" fill="#fff" text-anchor="middle">1</text>
<circle cx="1149" cy="496.7" r="7" fill="none" stroke="#fff" stroke-width="1.3"/><text x="1149" y="501.2" font-size="11" fill="#fff" text-anchor="middle">1</text>
<circle cx="1213" cy="497.7" r="7" fill="none" stroke="#fff" stroke-width="1.3"/><text x="1213" y="502.2" font-size="11" fill="#fff" text-anchor="middle">2</text>
<text x="1595" y="524.5" font-size="13" fill="#e03a2a" textLength="52.5" lengthAdjust="spacingAndGlyphs">TF1(H4)</text>
<text x="1653" y="524.5" font-size="13" fill="#e03a2a" textLength="4" lengthAdjust="spacingAndGlyphs">:</text>
<text x="1661" y="524.5" font-size="13" fill="#e03a2a" textLength="34" lengthAdjust="spacingAndGlyphs">-68.2</text>
<text x="1700.5" y="524.5" font-size="13" fill="#e03a2a" textLength="4.0" lengthAdjust="spacingAndGlyphs">:</text>
<path d="M1715,513.5 L1715,524.5 M1711.5,520.5 L1715,524.5 L1718.5,520.5" stroke="#e03a2a" stroke-width="1.3" fill="none"/>
<text x="1729" y="524.5" font-size="13" fill="#e03a2a" textLength="33.5" lengthAdjust="spacingAndGlyphs">-12.9</text>
<text x="1769" y="524.5" font-size="13" fill="#e03a2a" textLength="33.5" lengthAdjust="spacingAndGlyphs">-11.6</text>
<text x="1809" y="524.5" font-size="13" fill="#e03a2a" textLength="34" lengthAdjust="spacingAndGlyphs">-10.0</text>
<text x="1619" y="544.5" font-size="13" fill="#4a8ce0" textLength="58.5" lengthAdjust="spacingAndGlyphs">TF2(D1)</text>
<text x="1678" y="544.5" font-size="13" fill="#4a8ce0" textLength="4" lengthAdjust="spacingAndGlyphs">:</text>
<text x="1685" y="544.5" font-size="13" fill="#4a8ce0" textLength="34" lengthAdjust="spacingAndGlyphs">+96.8</text>
<text x="1724.5" y="544.5" font-size="13" fill="#4a8ce0" textLength="4.0" lengthAdjust="spacingAndGlyphs">:</text>
<path d="M1739,544.5 L1739,533.5 M1735.5,537.5 L1739,533.5 L1742.5,537.5" stroke="#4a8ce0" stroke-width="1.3" fill="none"/>
<text x="1752.5" y="544.5" font-size="13" fill="#4a8ce0" textLength="23.5" lengthAdjust="spacingAndGlyphs">+2.1</text>
<text x="1785" y="544.5" font-size="13" fill="#4a8ce0" textLength="25" lengthAdjust="spacingAndGlyphs">+1.6</text>
<text x="1816" y="544.5" font-size="13" fill="#4a8ce0" textLength="27" lengthAdjust="spacingAndGlyphs">+1.2</text>
<text x="1602" y="564.5" font-size="13" fill="#4a8ce0" textLength="54" lengthAdjust="spacingAndGlyphs">TF3(W1)</text>
<text x="1661" y="564.5" font-size="13" fill="#4a8ce0" textLength="4" lengthAdjust="spacingAndGlyphs">:</text>
<text x="1669" y="564.5" font-size="13" fill="#4a8ce0" textLength="33.5" lengthAdjust="spacingAndGlyphs">+45.5</text>
<text x="1708" y="564.5" font-size="13" fill="#4a8ce0" textLength="4" lengthAdjust="spacingAndGlyphs">:</text>
<path d="M1724,564.5 L1724,553.5 M1720.5,557.5 L1724,553.5 L1727.5,557.5" stroke="#4a8ce0" stroke-width="1.3" fill="none"/>
<text x="1736" y="564.5" font-size="13" fill="#4a8ce0" textLength="35" lengthAdjust="spacingAndGlyphs">+10.2</text>
<text x="1776" y="564.5" font-size="13" fill="#4a8ce0" textLength="35" lengthAdjust="spacingAndGlyphs">+10.0</text>
<text x="1816" y="564.5" font-size="13" fill="#4a8ce0" textLength="27" lengthAdjust="spacingAndGlyphs">+9.2</text>
<text x="1858" y="493" font-size="11" fill="#fff" textLength="19.0" lengthAdjust="spacingAndGlyphs">110</text>
<text x="1858" y="501.5" font-size="11" fill="#fff" textLength="12.7" lengthAdjust="spacingAndGlyphs">80</text>
<text x="1858" y="543.5" font-size="11" fill="#fff" textLength="22.2" lengthAdjust="spacingAndGlyphs">0.00</text>
<text x="1858" y="586.5" font-size="11" fill="#fff" textLength="17.0" lengthAdjust="spacingAndGlyphs">-80</text>
<text x="1858" y="595.5" font-size="11" fill="#fff" textLength="23.3" lengthAdjust="spacingAndGlyphs">-110</text>
<line x1="5" y1="664.5" x2="1516" y2="664.5" stroke="#d8d8d8" stroke-width="1" stroke-dasharray="3,3"/>
<text x="9.5" y="617.5" font-size="11.5" fill="#fff" textLength="319" lengthAdjust="spacingAndGlyphs">H4 TEN_to_CHI_no_OSCILLATOR_DX  -0.63676 -0.29526</text>
<path d="M5.0,668.8 L11.5,668.0 L20.8,666.8 L31.3,665.6 L41.7,664.7 L51.8,664.4 L62.2,664.4 L72.8,664.5 L83.3,664.3 L93.7,663.8 L104.1,663.3 L114.6,662.5 L125.0,661.5 L135.9,660.1 L147.2,658.3 L157.7,656.6 L166.7,655.3 L173.1,654.5 L177.8,654.0 L182.1,653.8 L187.5,653.8 L194.8,654.1 L203.2,654.7 L211.5,655.5 L218.8,656.3 L224.7,657.2 L229.9,658.3 L234.6,659.4 L239.6,660.5 L244.8,661.7 L250.0,663.0 L255.2,664.1 L260.4,664.7 L265.6,664.7 L270.8,664.4 L276.0,663.6 L281.2,662.6 L286.2,661.4 L291.0,659.9 L296.1,657.9 L302.0,655.3 L309.1,651.8 L317.0,647.6 L325.2,643.1 L333.3,638.6 L341.4,634.0 L349.6,629.0 L357.5,624.5 L364.6,620.9 L370.6,618.6 L375.9,617.3 L380.7,616.4 L385.4,615.7 L389.7,615.0 L393.4,614.4 L397.5,614.2 L402.5,614.2 L408.9,614.7 L416.2,615.5 L424.0,616.5 L431.7,617.8 L439.4,619.2 L447.2,620.9 L455.0,622.8 L462.9,625.1 L470.7,627.8 L478.6,630.8 L486.4,634.1 L494.2,637.6 L502.0,641.5 L509.8,645.8 L517.6,650.1 L525.4,654.2 L533.2,658.0 L541.0,661.7 L548.9,665.2 L556.7,668.8 L564.5,672.6 L572.3,676.5 L580.1,680.2 L587.9,683.4 L596.0,686.0 L604.2,688.3 L612.1,690.0 L619.2,691.3 L624.9,692.0 L629.6,692.1 L634.3,691.8 L640.0,691.3 L647.1,690.5 L655.0,689.4 L663.2,688.1 L671.2,686.5 L679.1,684.8 L686.9,683.0 L694.7,680.8 L702.5,678.2 L710.3,674.9 L718.1,670.9 L725.9,667.0 L733.8,663.6 L741.9,660.8 L750.4,658.3 L758.3,656.2 L765.0,654.7 L769.3,653.8 L771.8,653.4 L774.8,653.6 L780.0,654.2 L788.3,655.8 L798.5,658.1 L809.9,660.5 L821.7,662.2 L834.5,663.2 L848.4,663.7 L862.0,663.9 L873.8,663.6 L883.0,662.8 L890.7,661.6 L897.7,660.1 L905.0,658.4 L912.9,656.4 L920.9,654.2 L928.7,651.9 L936.2,650.1 L943.4,648.7 L950.2,647.6 L956.8,646.8 L963.3,646.3 L969.5,646.2 L975.5,646.5 L981.7,647.0 L988.3,647.6 L995.7,648.4 L1003.6,649.4 L1011.6,650.5 L1019.6,651.8 L1027.6,653.1 L1035.6,654.7 L1043.4,656.2 L1050.8,657.4 L1057.4,658.3 L1063.6,659.1 L1069.5,659.7 L1075.8,660.1 L1082.1,660.5 L1088.3,660.8 L1095.0,660.8 L1102.9,660.1 L1112.7,658.5 L1123.9,656.2 L1135.0,653.6 L1144.6,651.1 L1152.2,648.7 L1158.6,646.1 L1164.4,643.7 L1170.0,641.8 L1175.0,640.3 L1179.4,639.2 L1184.2,638.3 L1190.8,637.6 L1199.8,637.0 L1210.3,636.7 L1221.6,636.5 L1232.5,636.5 L1242.9,636.7 L1253.4,637.0 L1263.8,637.6 L1274.2,638.6 L1284.6,640.2 L1295.0,642.3 L1305.4,644.5 L1315.8,646.3 L1326.4,647.6 L1337.2,648.6 L1347.7,649.4 L1357.5,650.1 L1366.5,650.5 L1374.9,650.7 L1383.0,651.0 L1390.8,651.8 L1398.6,653.2 L1406.2,655.0 L1413.4,657.2 L1420.0,659.5 L1425.6,662.0 L1430.4,664.8 L1435.2,667.7 L1440.8,670.9 L1448.2,674.7 L1456.7,678.9 L1464.6,682.8 L1470.0,685.5" fill="none" stroke="#e030e8" stroke-width="2.8" stroke-linejoin="round" clip-path="url(#paneclip)"/>
<path d="M5.0,665.7 L12.0,665.1 L22.1,664.3 L32.8,663.5 L41.7,663.0 L48.0,662.9 L53.1,663.0 L57.7,663.2 L62.5,663.6 L67.8,664.3 L73.3,665.2 L78.5,666.0 L83.3,666.3 L87.1,665.9 L90.3,665.1 L93.6,664.0 L98.0,662.6 L104.0,660.8 L111.0,658.5 L118.2,656.2 L125.0,654.3 L131.1,652.8 L137.0,651.6 L142.6,650.6 L148.0,650.0 L152.9,649.8 L157.5,649.8 L162.0,650.2 L166.7,651.0 L171.8,652.3 L177.0,654.0 L182.3,655.8 L187.5,657.4 L192.6,658.6 L197.7,659.7 L202.8,660.6 L208.0,661.5 L213.3,662.1 L218.7,662.6 L224.0,663.2 L229.0,664.3 L233.6,666.5 L238.1,669.3 L242.2,671.9 L245.8,673.4 L248.7,673.5 L251.0,672.7 L253.3,671.1 L256.0,668.8 L259.3,665.4 L263.0,661.0 L266.9,656.5 L270.8,652.6 L274.8,649.8 L279.0,647.5 L283.3,645.4 L287.5,642.8 L291.6,639.7 L295.7,636.3 L299.9,632.7 L304.0,629.2 L308.1,625.7 L312.1,622.1 L316.3,618.6 L320.8,615.7 L325.8,613.3 L331.3,611.2 L336.7,609.6 L341.7,608.4 L346.1,607.7 L350.0,607.5 L354.0,607.8 L358.3,608.4 L363.4,609.6 L368.9,611.3 L374.3,613.1 L379.0,614.7 L382.9,616.0 L386.2,617.2 L389.1,618.2 L391.7,618.8 L393.6,618.8 L395.0,618.4 L396.4,618.0 L398.3,617.8 L401.0,618.0 L404.2,618.5 L407.5,619.1 L410.8,619.9 L413.8,621.0 L416.8,622.3 L419.9,623.6 L423.3,624.7 L427.3,625.4 L431.7,625.7 L436.0,626.2 L440.0,627.2 L443.3,628.8 L446.2,630.9 L449.2,633.2 L452.5,635.5 L456.4,638.0 L460.6,640.7 L464.9,643.3 L469.2,645.5 L473.4,647.1 L477.6,648.2 L481.8,649.4 L485.8,651.1 L489.5,653.6 L493.1,656.6 L496.7,659.7 L500.4,662.6 L504.4,665.2 L508.4,667.7 L512.6,670.0 L517.0,672.0 L521.6,673.4 L526.4,674.4 L531.2,675.4 L535.8,676.8 L540.2,678.6 L544.5,680.8 L548.7,683.2 L552.5,685.5 L555.6,688.0 L558.2,690.7 L561.1,693.2 L565.0,694.9 L570.4,695.7 L576.7,696.0 L583.5,695.8 L590.0,695.5 L596.2,695.2 L602.2,694.8 L608.5,694.1 L615.0,692.8 L621.9,690.6 L629.1,687.8 L636.5,684.8 L644.2,682.4 L652.7,680.9 L661.9,679.9 L670.5,678.8 L677.5,677.2 L682.1,674.8 L685.0,671.8 L687.4,668.7 L690.0,665.7 L692.9,662.7 L695.7,659.7 L698.8,656.8 L702.5,654.2 L707.1,652.0 L712.4,650.1 L717.9,648.5 L723.3,647.6 L728.5,647.5 L733.7,648.0 L739.0,648.8 L744.2,649.7 L749.5,650.6 L755.0,651.7 L760.2,652.9 L765.0,654.2 L769.1,655.7 L772.8,657.2 L776.3,658.8 L780.0,660.5 L784.1,662.5 L788.2,664.8 L792.5,666.9 L796.7,668.4 L801.0,669.2 L805.3,669.5 L809.4,669.3 L813.3,668.8 L816.6,667.6 L819.5,665.8 L822.5,664.0 L825.8,662.6 L829.5,661.8 L833.4,661.3 L837.6,661.0 L842.5,660.9 L848.4,661.3 L855.0,662.1 L861.6,662.7 L867.5,662.6 L872.2,661.5 L876.1,659.8 L879.9,657.7 L884.2,655.3 L889.3,652.4 L894.9,649.1 L900.3,645.9 L905.0,643.4 L908.5,641.8 L911.3,640.8 L914.0,640.3 L917.5,640.1 L922.2,640.5 L927.6,641.4 L933.2,642.5 L938.3,643.4 L942.6,643.9 L946.4,644.1 L950.3,644.5 L955.0,645.5 L960.8,647.4 L967.2,649.9 L973.9,652.4 L980.0,654.2 L985.5,655.1 L990.7,655.4 L995.7,655.3 L1000.8,655.3 L1006.1,655.1 L1011.5,654.6 L1016.8,654.4 L1021.7,654.7 L1026.2,655.9 L1030.3,657.7 L1034.2,659.7 L1038.3,661.5 L1042.3,663.3 L1046.1,665.1 L1050.2,666.5 L1055.0,666.8 L1060.5,665.5 L1066.5,663.1 L1073.0,660.2 L1080.0,657.4 L1087.8,654.9 L1096.4,652.3 L1105.1,649.6 L1113.3,647.0 L1120.9,644.2 L1128.3,641.2 L1135.4,638.5 L1142.5,636.5 L1149.8,635.4 L1157.3,634.8 L1164.2,634.7 L1170.0,634.5 L1174.0,634.2 L1176.7,634.0 L1179.1,634.0 L1182.5,634.5 L1187.0,635.9 L1192.1,637.9 L1197.6,639.8 L1203.3,640.7 L1209.5,640.0 L1216.3,638.3 L1222.8,636.4 L1228.3,635.1 L1232.2,634.7 L1235.1,634.7 L1237.7,635.0 L1240.8,635.5 L1244.6,636.1 L1248.6,637.0 L1252.9,638.2 L1257.5,639.7 L1262.3,641.9 L1267.4,644.6 L1272.7,647.4 L1278.3,649.7 L1284.4,651.6 L1290.8,653.4 L1297.2,654.7 L1303.3,655.3 L1308.9,654.9 L1314.3,653.7 L1319.4,652.3 L1324.2,651.1 L1328.4,650.1 L1332.0,649.2 L1335.9,648.4 L1340.8,648.0 L1347.3,647.9 L1354.9,648.1 L1362.7,648.8 L1370.0,650.1 L1376.5,652.1 L1382.8,654.7 L1388.8,657.8 L1395.0,661.5 L1401.3,666.1 L1407.8,671.5 L1414.0,676.8 L1420.0,681.3 L1425.6,684.6 L1430.9,687.2 L1436.0,689.4 L1440.8,691.8 L1445.4,694.2 L1449.7,696.6 L1453.7,698.9 L1457.5,701.1 L1461.2,703.2 L1464.8,705.3 L1467.9,707.1 L1470.0,708.4" fill="none" stroke="#38f038" stroke-width="2.8" stroke-linejoin="round" clip-path="url(#paneclip)"/>
<text x="1542.7" y="644" font-size="13" fill="#e03a2a" textLength="28.299999999999955" lengthAdjust="spacingAndGlyphs">Lime</text>
<text x="1577.7" y="644" font-size="13" fill="#e03a2a" textLength="57.899999999999864" lengthAdjust="spacingAndGlyphs">-0.63676</text>
<path d="M1643.5,633 L1643.5,644 M1640.0,640 L1643.5,644 L1647.0,640" stroke="#e03a2a" stroke-width="1.3" fill="none"/>
<text x="1656.4" y="644" font-size="13" fill="#e03a2a" textLength="58.0" lengthAdjust="spacingAndGlyphs">-0.07064</text>
<text x="1721" y="644" font-size="13" fill="#e03a2a" textLength="57.299999999999955" lengthAdjust="spacingAndGlyphs">-0.07877</text>
<text x="1784.4" y="644" font-size="13" fill="#e03a2a" textLength="58.0" lengthAdjust="spacingAndGlyphs">-0.06889</text>
<text x="1517.5" y="663.8" font-size="13" fill="#4a8ce0" textLength="53.5" lengthAdjust="spacingAndGlyphs">Distance</text>
<text x="1577.7" y="663.8" font-size="13" fill="#4a8ce0" textLength="58.299999999999955" lengthAdjust="spacingAndGlyphs">+0.34150</text>
<path d="M1643.5,663.8 L1643.5,652.8 M1640.0,656.8 L1643.5,652.8 L1647.0,656.8" stroke="#4a8ce0" stroke-width="1.3" fill="none"/>
<text x="1656.4" y="663.8" font-size="13" fill="#4a8ce0" textLength="58.0" lengthAdjust="spacingAndGlyphs">+0.00966</text>
<text x="1721" y="663.8" font-size="13" fill="#4a8ce0" textLength="55.700000000000045" lengthAdjust="spacingAndGlyphs">+0.01501</text>
<text x="1784.4" y="663.8" font-size="13" fill="#4a8ce0" textLength="58.0" lengthAdjust="spacingAndGlyphs">+0.00258</text>
<text x="1520" y="683.5" font-size="13" fill="#e03a2a" textLength="52" lengthAdjust="spacingAndGlyphs">Magenta</text>
<text x="1577.7" y="683.5" font-size="13" fill="#e03a2a" textLength="57.899999999999864" lengthAdjust="spacingAndGlyphs">-0.29526</text>
<path d="M1643.5,672.5 L1643.5,683.5 M1640.0,679.5 L1643.5,683.5 L1647.0,679.5" stroke="#e03a2a" stroke-width="1.3" fill="none"/>
<text x="1656.4" y="683.5" font-size="13" fill="#e03a2a" textLength="58.0" lengthAdjust="spacingAndGlyphs">-0.06098</text>
<text x="1721" y="683.5" font-size="13" fill="#e03a2a" textLength="57.299999999999955" lengthAdjust="spacingAndGlyphs">-0.06376</text>
<text x="1784.4" y="683.5" font-size="13" fill="#e03a2a" textLength="56.399999999999864" lengthAdjust="spacingAndGlyphs">-0.06631</text>
<text x="1858" y="615" font-size="11" fill="#fff" textLength="41.3" lengthAdjust="spacingAndGlyphs">0.89153</text>
<text x="1858" y="668.5" font-size="11" fill="#fff" textLength="22.2" lengthAdjust="spacingAndGlyphs">0.00</text>
<text x="1858" y="710.5" font-size="11" fill="#fff" textLength="45.6" lengthAdjust="spacingAndGlyphs">-0.70953</text>
<g shape-rendering="crispEdges" clip-path="url(#paneclip)"><rect x="2" y="720" width="6" height="6" fill="#ff0a0a"/><rect x="10" y="720" width="6" height="6" fill="#ff0a0a"/><rect x="18" y="720" width="6" height="6" fill="#ff0a0a"/><rect x="26" y="720" width="6" height="6" fill="#ff0a0a"/><rect x="34" y="720" width="6" height="6" fill="#ff0a0a"/><rect x="42" y="720" width="6" height="6" fill="#ff0a0a"/><rect x="50" y="720" width="6" height="6" fill="#ff0a0a"/><rect x="58" y="720" width="6" height="6" fill="#ff0a0a"/><rect x="66" y="720" width="6" height="6" fill="#ff0a0a"/><rect x="74" y="720" width="6" height="6" fill="#ff0a0a"/><rect x="82" y="720" width="6" height="6" fill="#ff0a0a"/><rect x="90" y="720" width="6" height="6" fill="#ff0a0a"/><rect x="98" y="720" width="6" height="6" fill="#ff0a0a"/><rect x="106" y="720" width="6" height="6" fill="#ff0a0a"/><rect x="114" y="720" width="6" height="6" fill="#ff0a0a"/><rect x="122" y="720" width="6" height="6" fill="#ff0a0a"/><rect x="130" y="720" width="6" height="6" fill="#ff0a0a"/><rect x="138" y="720" width="6" height="6" fill="#ff0a0a"/><rect x="146" y="720" width="6" height="6" fill="#ff0a0a"/><rect x="154" y="720" width="6" height="6" fill="#ff0a0a"/><rect x="162" y="720" width="6" height="6" fill="#ff0a0a"/><rect x="170" y="720" width="6" height="6" fill="#ff0a0a"/><rect x="178" y="720" width="6" height="6" fill="#ff0a0a"/><rect x="186" y="720" width="6" height="6" fill="#ff0a0a"/><rect x="194" y="720" width="6" height="6" fill="#ff0a0a"/><rect x="202" y="720" width="6" height="6" fill="#ff0a0a"/><rect x="210" y="720" width="6" height="6" fill="#ff0a0a"/><rect x="218" y="720" width="6" height="6" fill="#ff0a0a"/><rect x="226" y="720" width="6" height="6" fill="#ff0a0a"/><rect x="234" y="720" width="6" height="6" fill="#ff0a0a"/><rect x="242" y="720" width="6" height="6" fill="#ff0a0a"/><rect x="250" y="720" width="6" height="6" fill="#ff0a0a"/><rect x="258" y="720" width="6" height="6" fill="#ff0a0a"/><rect x="266" y="720" width="6" height="6" fill="#0a0aff"/><rect x="274" y="720" width="6" height="6" fill="#0a0aff"/><rect x="282" y="720" width="6" height="6" fill="#0a0aff"/><rect x="290" y="720" width="6" height="6" fill="#0a0aff"/><rect x="298" y="720" width="6" height="6" fill="#0a0aff"/><rect x="306" y="720" width="6" height="6" fill="#0a0aff"/><rect x="314" y="720" width="6" height="6" fill="#0a0aff"/><rect x="322" y="720" width="6" height="6" fill="#0a0aff"/><rect x="330" y="720" width="6" height="6" fill="#0a0aff"/><rect x="338" y="720" width="6" height="6" fill="#0a0aff"/><rect x="346" y="720" width="6" height="6" fill="#0a0aff"/><rect x="354" y="720" width="6" height="6" fill="#0a0aff"/><rect x="362" y="720" width="6" height="6" fill="#0a0aff"/><rect x="370" y="720" width="6" height="6" fill="#0a0aff"/><rect x="378" y="720" width="6" height="6" fill="#0a0aff"/><rect x="386" y="720" width="6" height="6" fill="#0a0aff"/><rect x="394" y="720" width="6" height="6" fill="#0a0aff"/><rect x="402" y="720" width="6" height="6" fill="#0a0aff"/><rect x="410" y="720" width="6" height="6" fill="#0a0aff"/><rect x="418" y="720" width="6" height="6" fill="#0a0aff"/><rect x="426" y="720" width="6" height="6" fill="#0a0aff"/><rect x="434" y="720" width="6" height="6" fill="#0a0aff"/><rect x="442" y="720" width="6" height="6" fill="#0a0aff"/><rect x="450" y="720" width="6" height="6" fill="#0a0aff"/><rect x="458" y="720" width="6" height="6" fill="#0a0aff"/><rect x="466" y="720" width="6" height="6" fill="#0a0aff"/><rect x="474" y="720" width="6" height="6" fill="#0a0aff"/><rect x="482" y="720" width="6" height="6" fill="#0a0aff"/><rect x="490" y="720" width="6" height="6" fill="#0a0aff"/><rect x="498" y="720" width="6" height="6" fill="#0a0aff"/><rect x="506" y="720" width="6" height="6" fill="#0a0aff"/><rect x="514" y="720" width="6" height="6" fill="#0a0aff"/><rect x="522" y="720" width="6" height="6" fill="#0a0aff"/><rect x="530" y="720" width="6" height="6" fill="#0a0aff"/><rect x="538" y="720" width="6" height="6" fill="#0a0aff"/><rect x="546" y="720" width="6" height="6" fill="#0a0aff"/><rect x="554" y="720" width="6" height="6" fill="#0a0aff"/><rect x="562" y="720" width="6" height="6" fill="#0a0aff"/><rect x="570" y="720" width="6" height="6" fill="#0a0aff"/><rect x="578" y="720" width="6" height="6" fill="#0a0aff"/><rect x="586" y="720" width="6" height="6" fill="#0a0aff"/><rect x="594" y="720" width="6" height="6" fill="#0a0aff"/><rect x="602" y="720" width="6" height="6" fill="#0a0aff"/><rect x="610" y="720" width="6" height="6" fill="#0a0aff"/><rect x="618" y="720" width="6" height="6" fill="#0a0aff"/><rect x="626" y="720" width="6" height="6" fill="#0a0aff"/><rect x="634" y="720" width="6" height="6" fill="#0a0aff"/><rect x="642" y="720" width="6" height="6" fill="#0a0aff"/><rect x="650" y="720" width="6" height="6" fill="#0a0aff"/><rect x="658" y="720" width="6" height="6" fill="#0a0aff"/><rect x="666" y="720" width="6" height="6" fill="#0a0aff"/><rect x="674" y="720" width="6" height="6" fill="#0a0aff"/><rect x="682" y="720" width="6" height="6" fill="#0a0aff"/><rect x="690" y="720" width="6" height="6" fill="#0a0aff"/><rect x="698" y="720" width="6" height="6" fill="#0a0aff"/><rect x="706" y="720" width="6" height="6" fill="#0a0aff"/><rect x="714" y="720" width="6" height="6" fill="#0a0aff"/><rect x="722" y="720" width="6" height="6" fill="#0a0aff"/><rect x="730" y="720" width="6" height="6" fill="#0a0aff"/><rect x="738" y="720" width="6" height="6" fill="#0a0aff"/><rect x="746" y="720" width="6" height="6" fill="#0a0aff"/><rect x="754" y="720" width="6" height="6" fill="#0a0aff"/><rect x="762" y="720" width="6" height="6" fill="#ffff00"/><rect x="770" y="720" width="6" height="6" fill="#ffff00"/><rect x="778" y="720" width="6" height="6" fill="#ff0a0a"/><rect x="786" y="720" width="6" height="6" fill="#ff0a0a"/><rect x="794" y="720" width="6" height="6" fill="#ff0a0a"/><rect x="802" y="720" width="6" height="6" fill="#ff0a0a"/><rect x="810" y="720" width="6" height="6" fill="#ff0a0a"/><rect x="818" y="720" width="6" height="6" fill="#ff0a0a"/><rect x="826" y="720" width="6" height="6" fill="#ff0a0a"/><rect x="834" y="720" width="6" height="6" fill="#ff0a0a"/><rect x="842" y="720" width="6" height="6" fill="#ff0a0a"/><rect x="850" y="720" width="6" height="6" fill="#ff0a0a"/><rect x="858" y="720" width="6" height="6" fill="#ff0a0a"/><rect x="866" y="720" width="6" height="6" fill="#ff0a0a"/><rect x="874" y="720" width="6" height="6" fill="#ff0a0a"/><rect x="882" y="720" width="6" height="6" fill="#ff0a0a"/><rect x="890" y="720" width="6" height="6" fill="#ff0a0a"/><rect x="898" y="720" width="6" height="6" fill="#ff0a0a"/><rect x="906" y="720" width="6" height="6" fill="#ff0a0a"/><rect x="914" y="720" width="6" height="6" fill="#ff0a0a"/><rect x="922" y="720" width="6" height="6" fill="#ff0a0a"/><rect x="930" y="720" width="6" height="6" fill="#ffff00"/><rect x="938" y="720" width="6" height="6" fill="#ffff00"/><rect x="946" y="720" width="6" height="6" fill="#ffff00"/><rect x="954" y="720" width="6" height="6" fill="#ffff00"/><rect x="962" y="720" width="6" height="6" fill="#ffff00"/><rect x="970" y="720" width="6" height="6" fill="#ffff00"/><rect x="978" y="720" width="6" height="6" fill="#0a0aff"/><rect x="986" y="720" width="6" height="6" fill="#0a0aff"/><rect x="994" y="720" width="6" height="6" fill="#0a0aff"/><rect x="1002" y="720" width="6" height="6" fill="#0a0aff"/><rect x="1010" y="720" width="6" height="6" fill="#0a0aff"/><rect x="1018" y="720" width="6" height="6" fill="#0a0aff"/><rect x="1026" y="720" width="6" height="6" fill="#0a0aff"/><rect x="1034" y="720" width="6" height="6" fill="#0a0aff"/><rect x="1042" y="720" width="6" height="6" fill="#0a0aff"/><rect x="1050" y="720" width="6" height="6" fill="#0a0aff"/><rect x="1058" y="720" width="6" height="6" fill="#0a0aff"/><rect x="1066" y="720" width="6" height="6" fill="#0a0aff"/><rect x="1074" y="720" width="6" height="6" fill="#0a0aff"/><rect x="1082" y="720" width="6" height="6" fill="#0a0aff"/><rect x="1090" y="720" width="6" height="6" fill="#0a0aff"/><rect x="1098" y="720" width="6" height="6" fill="#0a0aff"/><rect x="1106" y="720" width="6" height="6" fill="#0a0aff"/><rect x="1114" y="720" width="6" height="6" fill="#0a0aff"/><rect x="1122" y="720" width="6" height="6" fill="#0a0aff"/><rect x="1130" y="720" width="6" height="6" fill="#0a0aff"/><rect x="1138" y="720" width="6" height="6" fill="#0a0aff"/><rect x="1146" y="720" width="6" height="6" fill="#0a0aff"/><rect x="1154" y="720" width="6" height="6" fill="#0a0aff"/><rect x="1162" y="720" width="6" height="6" fill="#0a0aff"/><rect x="1170" y="720" width="6" height="6" fill="#0a0aff"/><rect x="1178" y="720" width="6" height="6" fill="#0a0aff"/><rect x="1186" y="720" width="6" height="6" fill="#0a0aff"/><rect x="1194" y="720" width="6" height="6" fill="#0a0aff"/><rect x="1202" y="720" width="6" height="6" fill="#0a0aff"/><rect x="1210" y="720" width="6" height="6" fill="#0a0aff"/><rect x="1218" y="720" width="6" height="6" fill="#0a0aff"/><rect x="1226" y="720" width="6" height="6" fill="#0a0aff"/><rect x="1234" y="720" width="6" height="6" fill="#0a0aff"/><rect x="1242" y="720" width="6" height="6" fill="#0a0aff"/><rect x="1250" y="720" width="6" height="6" fill="#0a0aff"/><rect x="1258" y="720" width="6" height="6" fill="#0a0aff"/><rect x="1266" y="720" width="6" height="6" fill="#0a0aff"/><rect x="1274" y="720" width="6" height="6" fill="#0a0aff"/><rect x="1282" y="720" width="6" height="6" fill="#0a0aff"/><rect x="1290" y="720" width="6" height="6" fill="#0a0aff"/><rect x="1298" y="720" width="6" height="6" fill="#0a0aff"/><rect x="1306" y="720" width="6" height="6" fill="#0a0aff"/><rect x="1314" y="720" width="6" height="6" fill="#0a0aff"/><rect x="1322" y="720" width="6" height="6" fill="#0a0aff"/><rect x="1330" y="720" width="6" height="6" fill="#0a0aff"/><rect x="1338" y="720" width="6" height="6" fill="#0a0aff"/><rect x="1346" y="720" width="6" height="6" fill="#0a0aff"/><rect x="1354" y="720" width="6" height="6" fill="#0a0aff"/><rect x="1362" y="720" width="6" height="6" fill="#0a0aff"/><rect x="1370" y="720" width="6" height="6" fill="#0a0aff"/><rect x="1378" y="720" width="6" height="6" fill="#0a0aff"/><rect x="1386" y="720" width="6" height="6" fill="#0a0aff"/><rect x="1394" y="720" width="6" height="6" fill="#0a0aff"/><rect x="1402" y="720" width="6" height="6" fill="#0a0aff"/><rect x="1410" y="720" width="6" height="6" fill="#0a0aff"/><rect x="1418" y="720" width="6" height="6" fill="#0a0aff"/><rect x="1426" y="720" width="6" height="6" fill="#0a0aff"/><rect x="1434" y="720" width="6" height="6" fill="#ffff00"/><rect x="1442" y="720" width="6" height="6" fill="#ff0a0a"/><rect x="1450" y="720" width="6" height="6" fill="#ff0a0a"/><rect x="1458" y="720" width="6" height="6" fill="#ff0a0a"/><rect x="1466" y="720" width="6" height="6" fill="#ff0a0a"/></g>
<svg x="5" y="717" width="1849" height="12" overflow="hidden"><text x="6" y="15" font-size="11.5" fill="#fff" textLength="226" lengthAdjust="spacingAndGlyphs">TEN_to_CHI_no_HISTOGRAM_DX 0.0000</text></svg>
<text x="1858" y="727" font-size="11" fill="#fff" textLength="22.2" lengthAdjust="spacingAndGlyphs">0.00</text>
<text x="9.5" y="747" font-size="11.5" fill="#fff" textLength="263" lengthAdjust="spacingAndGlyphs">H4  TEN_to_CHI_no_WMA  -25.8448 -25.8448</text>
<g shape-rendering="crispEdges" clip-path="url(#paneclip)"><rect x="187" y="782" width="5" height="48" fill="#ff0d0d"/><rect x="195" y="782" width="5" height="48" fill="#ff0d0d"/><rect x="203" y="782" width="5" height="48" fill="#ff0d0d"/><rect x="475" y="782" width="5" height="48" fill="#ff0d0d"/><rect x="483" y="782" width="5" height="48" fill="#ff0d0d"/><rect x="491" y="782" width="5" height="48" fill="#ff0d0d"/><rect x="499" y="782" width="5" height="48" fill="#ff0d0d"/><rect x="507" y="782" width="5" height="48" fill="#ff0d0d"/><rect x="515" y="782" width="5" height="48" fill="#ff0d0d"/><rect x="523" y="782" width="5" height="48" fill="#ff0d0d"/><rect x="531" y="782" width="5" height="48" fill="#ff0d0d"/><rect x="539" y="782" width="5" height="48" fill="#ff0d0d"/><rect x="547" y="782" width="5" height="48" fill="#ff0d0d"/><rect x="555" y="782" width="5" height="48" fill="#ff0d0d"/><rect x="779" y="782" width="5" height="48" fill="#ff0d0d"/><rect x="787" y="782" width="5" height="48" fill="#ff0d0d"/><rect x="795" y="782" width="5" height="48" fill="#ff0d0d"/><rect x="803" y="782" width="5" height="48" fill="#ff0d0d"/><rect x="1403" y="782" width="5" height="48" fill="#ff0d0d"/><rect x="1411" y="782" width="5" height="48" fill="#ff0d0d"/><rect x="1419" y="782" width="5" height="48" fill="#ff0d0d"/><rect x="123" y="732" width="5" height="50" fill="#0d0dff"/><rect x="131" y="732" width="5" height="50" fill="#0d0dff"/><rect x="139" y="732" width="5" height="50" fill="#0d0dff"/><rect x="3" y="782" width="5" height="18" fill="#808080"/><rect x="11" y="782" width="5" height="18" fill="#808080"/><rect x="19" y="782" width="5" height="18" fill="#808080"/><rect x="27" y="782" width="5" height="18" fill="#808080"/><rect x="35" y="782" width="5" height="17" fill="#808080"/><rect x="43" y="782" width="5" height="16" fill="#808080"/><rect x="51" y="782" width="5" height="15" fill="#808080"/><rect x="59" y="782" width="5" height="16" fill="#808080"/><rect x="67" y="782" width="5" height="17" fill="#808080"/><rect x="75" y="782" width="5" height="18" fill="#808080"/><rect x="83" y="782" width="5" height="18" fill="#808080"/><rect x="91" y="782" width="5" height="17" fill="#808080"/><rect x="99" y="782" width="5" height="15" fill="#808080"/><rect x="107" y="782" width="5" height="12" fill="#808080"/><rect x="115" y="782" width="5" height="9" fill="#808080"/><rect x="123" y="782" width="5" height="6" fill="#808080"/><rect x="131" y="782" width="5" height="4" fill="#808080"/><rect x="139" y="782" width="5" height="1" fill="#808080"/><rect x="155" y="780" width="5" height="2" fill="#808080"/><rect x="163" y="780" width="5" height="2" fill="#808080"/><rect x="171" y="780" width="5" height="2" fill="#808080"/><rect x="179" y="780" width="5" height="2" fill="#808080"/><rect x="187" y="780" width="5" height="2" fill="#808080"/><rect x="195" y="779" width="5" height="3" fill="#808080"/><rect x="203" y="779" width="5" height="3" fill="#808080"/><rect x="211" y="780" width="5" height="2" fill="#808080"/><rect x="219" y="780" width="5" height="2" fill="#808080"/><rect x="227" y="779" width="5" height="3" fill="#808080"/><rect x="235" y="780" width="5" height="2" fill="#808080"/><rect x="243" y="782" width="5" height="6" fill="#808080"/><rect x="251" y="782" width="5" height="4" fill="#808080"/><rect x="259" y="775" width="5" height="7" fill="#808080"/><rect x="267" y="764" width="5" height="18" fill="#808080"/><rect x="275" y="754" width="5" height="28" fill="#808080"/><rect x="283" y="747" width="5" height="35" fill="#10f010"/><rect x="291" y="742" width="5" height="40" fill="#10f010"/><rect x="299" y="739" width="5" height="43" fill="#10f010"/><rect x="307" y="738" width="5" height="44" fill="#10f010"/><rect x="315" y="738" width="5" height="44" fill="#10f010"/><rect x="323" y="739" width="5" height="43" fill="#10f010"/><rect x="331" y="740" width="5" height="42" fill="#10f010"/><rect x="339" y="742" width="5" height="40" fill="#10f010"/><rect x="347" y="743" width="5" height="39" fill="#10f010"/><rect x="355" y="744" width="5" height="38" fill="#10f010"/><rect x="363" y="746" width="5" height="36" fill="#0b6e0b"/><rect x="371" y="747" width="5" height="35" fill="#808080"/><rect x="379" y="748" width="5" height="34" fill="#808080"/><rect x="387" y="748" width="5" height="34" fill="#808080"/><rect x="395" y="748" width="5" height="34" fill="#808080"/><rect x="403" y="748" width="5" height="34" fill="#808080"/><rect x="411" y="748" width="5" height="34" fill="#808080"/><rect x="419" y="749" width="5" height="33" fill="#808080"/><rect x="427" y="748" width="5" height="34" fill="#808080"/><rect x="435" y="747" width="5" height="35" fill="#808080"/><rect x="443" y="748" width="5" height="34" fill="#808080"/><rect x="451" y="750" width="5" height="32" fill="#808080"/><rect x="459" y="752" width="5" height="30" fill="#808080"/><rect x="467" y="754" width="5" height="28" fill="#808080"/><rect x="475" y="755" width="5" height="27" fill="#808080"/><rect x="483" y="756" width="5" height="26" fill="#808080"/><rect x="491" y="758" width="5" height="24" fill="#808080"/><rect x="499" y="761" width="5" height="21" fill="#808080"/><rect x="507" y="764" width="5" height="18" fill="#808080"/><rect x="515" y="766" width="5" height="16" fill="#808080"/><rect x="523" y="768" width="5" height="14" fill="#808080"/><rect x="531" y="769" width="5" height="13" fill="#808080"/><rect x="539" y="771" width="5" height="11" fill="#808080"/><rect x="547" y="774" width="5" height="8" fill="#808080"/><rect x="555" y="779" width="5" height="3" fill="#808080"/><rect x="563" y="781" width="5" height="1" fill="#808080"/><rect x="571" y="782" width="5" height="3" fill="#808080"/><rect x="579" y="782" width="5" height="4" fill="#808080"/><rect x="587" y="782" width="5" height="5" fill="#808080"/><rect x="595" y="782" width="5" height="5" fill="#808080"/><rect x="603" y="782" width="5" height="5" fill="#808080"/><rect x="611" y="782" width="5" height="5" fill="#808080"/><rect x="619" y="782" width="5" height="4" fill="#808080"/><rect x="627" y="782" width="5" height="3" fill="#808080"/><rect x="635" y="782" width="5" height="1" fill="#808080"/><rect x="643" y="782" width="5" height="1" fill="#808080"/><rect x="651" y="782" width="5" height="1" fill="#808080"/><rect x="659" y="782" width="5" height="1" fill="#808080"/><rect x="667" y="782" width="5" height="1" fill="#808080"/><rect x="675" y="782" width="5" height="1" fill="#808080"/><rect x="691" y="774" width="5" height="8" fill="#808080"/><rect x="699" y="769" width="5" height="13" fill="#808080"/><rect x="707" y="765" width="5" height="17" fill="#808080"/><rect x="715" y="763" width="5" height="19" fill="#808080"/><rect x="723" y="763" width="5" height="19" fill="#808080"/><rect x="731" y="764" width="5" height="18" fill="#808080"/><rect x="739" y="766" width="5" height="16" fill="#808080"/><rect x="747" y="767" width="5" height="15" fill="#808080"/><rect x="755" y="769" width="5" height="13" fill="#808080"/><rect x="763" y="770" width="5" height="12" fill="#808080"/><rect x="771" y="772" width="5" height="10" fill="#808080"/><rect x="779" y="775" width="5" height="7" fill="#808080"/><rect x="787" y="777" width="5" height="5" fill="#808080"/><rect x="795" y="778" width="5" height="4" fill="#808080"/><rect x="803" y="778" width="5" height="4" fill="#808080"/><rect x="811" y="777" width="5" height="5" fill="#808080"/><rect x="819" y="774" width="5" height="8" fill="#808080"/><rect x="827" y="771" width="5" height="11" fill="#808080"/><rect x="835" y="770" width="5" height="12" fill="#808080"/><rect x="843" y="770" width="5" height="12" fill="#808080"/><rect x="851" y="770" width="5" height="12" fill="#808080"/><rect x="859" y="771" width="5" height="11" fill="#808080"/><rect x="867" y="774" width="5" height="8" fill="#808080"/><rect x="875" y="775" width="5" height="7" fill="#808080"/><rect x="883" y="773" width="5" height="9" fill="#808080"/><rect x="891" y="771" width="5" height="11" fill="#808080"/><rect x="899" y="768" width="5" height="14" fill="#808080"/><rect x="907" y="765" width="5" height="17" fill="#808080"/><rect x="915" y="762" width="5" height="20" fill="#808080"/><rect x="923" y="763" width="5" height="19" fill="#808080"/><rect x="931" y="765" width="5" height="17" fill="#808080"/><rect x="939" y="765" width="5" height="17" fill="#808080"/><rect x="947" y="766" width="5" height="16" fill="#808080"/><rect x="955" y="768" width="5" height="14" fill="#808080"/><rect x="963" y="771" width="5" height="11" fill="#808080"/><rect x="971" y="773" width="5" height="9" fill="#808080"/><rect x="979" y="773" width="5" height="9" fill="#808080"/><rect x="987" y="773" width="5" height="9" fill="#808080"/><rect x="995" y="771" width="5" height="11" fill="#808080"/><rect x="1003" y="769" width="5" height="13" fill="#808080"/><rect x="1011" y="769" width="5" height="13" fill="#808080"/><rect x="1019" y="771" width="5" height="11" fill="#808080"/><rect x="1027" y="773" width="5" height="9" fill="#808080"/><rect x="1035" y="775" width="5" height="7" fill="#808080"/><rect x="1043" y="778" width="5" height="4" fill="#808080"/><rect x="1051" y="778" width="5" height="4" fill="#808080"/><rect x="1059" y="774" width="5" height="8" fill="#808080"/><rect x="1067" y="766" width="5" height="16" fill="#808080"/><rect x="1075" y="758" width="5" height="24" fill="#808080"/><rect x="1083" y="752" width="5" height="30" fill="#808080"/><rect x="1091" y="748" width="5" height="34" fill="#808080"/><rect x="1099" y="745" width="5" height="37" fill="#10f010"/><rect x="1107" y="743" width="5" height="39" fill="#10f010"/><rect x="1115" y="743" width="5" height="39" fill="#10f010"/><rect x="1123" y="744" width="5" height="38" fill="#10f010"/><rect x="1131" y="744" width="5" height="38" fill="#10f010"/><rect x="1139" y="743" width="5" height="39" fill="#10f010"/><rect x="1147" y="743" width="5" height="39" fill="#10f010"/><rect x="1155" y="744" width="5" height="38" fill="#10f010"/><rect x="1163" y="744" width="5" height="38" fill="#10f010"/><rect x="1171" y="743" width="5" height="39" fill="#10f010"/><rect x="1179" y="744" width="5" height="38" fill="#0b6e0b"/><rect x="1187" y="746" width="5" height="36" fill="#0b6e0b"/><rect x="1195" y="748" width="5" height="34" fill="#808080"/><rect x="1203" y="749" width="5" height="33" fill="#808080"/><rect x="1211" y="748" width="5" height="34" fill="#808080"/><rect x="1219" y="747" width="5" height="35" fill="#0b6e0b"/><rect x="1227" y="745" width="5" height="37" fill="#0b6e0b"/><rect x="1235" y="745" width="5" height="37" fill="#0b6e0b"/><rect x="1243" y="746" width="5" height="36" fill="#0b6e0b"/><rect x="1251" y="747" width="5" height="35" fill="#0b6e0b"/><rect x="1259" y="749" width="5" height="33" fill="#808080"/><rect x="1267" y="751" width="5" height="31" fill="#808080"/><rect x="1275" y="753" width="5" height="29" fill="#808080"/><rect x="1283" y="754" width="5" height="28" fill="#808080"/><rect x="1291" y="754" width="5" height="28" fill="#808080"/><rect x="1299" y="755" width="5" height="27" fill="#808080"/><rect x="1307" y="754" width="5" height="28" fill="#808080"/><rect x="1315" y="751" width="5" height="31" fill="#808080"/><rect x="1323" y="749" width="5" height="33" fill="#808080"/><rect x="1331" y="746" width="5" height="36" fill="#0b6e0b"/><rect x="1339" y="745" width="5" height="37" fill="#10f010"/><rect x="1347" y="743" width="5" height="39" fill="#10f010"/><rect x="1355" y="743" width="5" height="39" fill="#10f010"/><rect x="1363" y="743" width="5" height="39" fill="#10f010"/><rect x="1371" y="745" width="5" height="37" fill="#0b6e0b"/><rect x="1379" y="749" width="5" height="33" fill="#808080"/><rect x="1387" y="752" width="5" height="30" fill="#808080"/><rect x="1395" y="757" width="5" height="25" fill="#808080"/><rect x="1403" y="763" width="5" height="19" fill="#808080"/><rect x="1411" y="770" width="5" height="12" fill="#808080"/><rect x="1419" y="776" width="5" height="6" fill="#808080"/><rect x="1427" y="781" width="5" height="1" fill="#808080"/><rect x="1435" y="782" width="5" height="4" fill="#808080"/><rect x="1443" y="782" width="5" height="6" fill="#808080"/><rect x="1451" y="782" width="5" height="10" fill="#808080"/><rect x="1459" y="782" width="5" height="14" fill="#808080"/><rect x="1467" y="782" width="5" height="21" fill="#808080"/></g>
<line x1="5" y1="781.5" x2="1854" y2="781.5" stroke="#e8e8e8" stroke-width="1" stroke-dasharray="3,3"/>
<text x="1858" y="745" font-size="11" fill="#fff" textLength="12.7" lengthAdjust="spacingAndGlyphs">60</text>
<text x="1858" y="785" font-size="11" fill="#fff" textLength="22.2" lengthAdjust="spacingAndGlyphs">0.00</text>
<text x="1858" y="826" font-size="11" fill="#fff" textLength="17.0" lengthAdjust="spacingAndGlyphs">-60</text>
<text x="11.9" y="854" font-size="14.5" fill="#dcdcdc" textLength="55.6" lengthAdjust="spacingAndGlyphs">USDJPY</text>
<text x="80.6" y="854" font-size="14.5" fill="#dcdcdc" textLength="60.1" lengthAdjust="spacingAndGlyphs">EURUSD</text>
<text x="153.75" y="854" font-size="14.5" fill="#dcdcdc" textLength="59.7" lengthAdjust="spacingAndGlyphs">EURGBP</text>
<text x="226.6" y="854" font-size="14.5" fill="#dcdcdc" textLength="60.9" lengthAdjust="spacingAndGlyphs">GBPUSD</text>
<text x="300.6" y="854" font-size="14.5" fill="#dcdcdc" textLength="61.9" lengthAdjust="spacingAndGlyphs">AUDUSD</text>
<text x="375.6" y="854" font-size="14.5" fill="#d8d860" textLength="61.3" lengthAdjust="spacingAndGlyphs">USDCAD</text>
<text x="450" y="854" font-size="14.5" fill="#dcdcdc" textLength="53.9" lengthAdjust="spacingAndGlyphs">EURJPY</text>
<text x="517" y="854" font-size="14.5" fill="#dcdcdc" textLength="56.8" lengthAdjust="spacingAndGlyphs">CADJPY</text>
<text x="586.9" y="854" font-size="14.5" fill="#dcdcdc" textLength="56.6" lengthAdjust="spacingAndGlyphs">AUDJPY</text>
<text x="656.6" y="854" font-size="14.5" fill="#dcdcdc" textLength="56.5" lengthAdjust="spacingAndGlyphs">GBPJPY</text>
<text x="726.25" y="854" font-size="14.5" fill="#dcdcdc" textLength="55.6" lengthAdjust="spacingAndGlyphs">NZDJPY</text>
<text x="795" y="854" font-size="14.5" fill="#dcdcdc" textLength="54.7" lengthAdjust="spacingAndGlyphs">CHFJPY</text>
<text x="862.8" y="854" font-size="14.5" fill="#dcdcdc" textLength="59.7" lengthAdjust="spacingAndGlyphs">USDCHF</text>
<text x="935.6" y="854" font-size="14.5" fill="#dcdcdc" textLength="61.0" lengthAdjust="spacingAndGlyphs">NZDUSD</text>
<text x="1009.7" y="854" font-size="14.5" fill="#dcdcdc" textLength="61.9" lengthAdjust="spacingAndGlyphs">AUDNZD</text>
<text x="1084.7" y="854" font-size="14.5" fill="#dcdcdc" textLength="40.3" lengthAdjust="spacingAndGlyphs">GOLD</text>
<svg x="5" y="859" width="1849" height="21" overflow="hidden">
<text x="6.9" y="21" font-size="14.5" fill="#dcdcdc" textLength="61.9" lengthAdjust="spacingAndGlyphs">AUDCAD</text>
<text x="81.9" y="21" font-size="14.5" fill="#dcdcdc" textLength="60.3" lengthAdjust="spacingAndGlyphs">AUDCHF</text>
<text x="155.3" y="21" font-size="14.5" fill="#dcdcdc" textLength="60.3" lengthAdjust="spacingAndGlyphs">CADCHF</text>
<text x="228.75" y="21" font-size="14.5" fill="#dcdcdc" textLength="61.0" lengthAdjust="spacingAndGlyphs">EURAUD</text>
<text x="302.8" y="21" font-size="14.5" fill="#dcdcdc" textLength="59.7" lengthAdjust="spacingAndGlyphs">EURCAD</text>
<text x="375.6" y="21" font-size="14.5" fill="#dcdcdc" textLength="59.3" lengthAdjust="spacingAndGlyphs">EURCHF</text>
<text x="448" y="21" font-size="14.5" fill="#dcdcdc" textLength="59.5" lengthAdjust="spacingAndGlyphs">EURNZD</text>
<text x="520.6" y="21" font-size="14.5" fill="#dcdcdc" textLength="61.6" lengthAdjust="spacingAndGlyphs">GBPAUD</text>
<text x="595.3" y="21" font-size="14.5" fill="#dcdcdc" textLength="60.4" lengthAdjust="spacingAndGlyphs">GBPCHF</text>
<text x="668.75" y="21" font-size="14.5" fill="#dcdcdc" textLength="60.4" lengthAdjust="spacingAndGlyphs">GBPCAD</text>
<text x="742.2" y="21" font-size="14.5" fill="#dcdcdc" textLength="61.9" lengthAdjust="spacingAndGlyphs">GBPNZD</text>
<text x="817.2" y="21" font-size="14.5" fill="#dcdcdc" textLength="60.3" lengthAdjust="spacingAndGlyphs">NZDCAD</text>
<text x="890.6" y="21" font-size="14.5" fill="#dcdcdc" textLength="59.3" lengthAdjust="spacingAndGlyphs">NZDCHF</text>
<text x="963" y="21" font-size="14.5" fill="#dcdcdc" textLength="51.4" lengthAdjust="spacingAndGlyphs">SILVER</text>
<text x="1027.5" y="21" font-size="14.5" fill="#dcdcdc" textLength="73.4" lengthAdjust="spacingAndGlyphs">JP225Cash</text>
<text x="1114" y="21" font-size="14.5" fill="#dcdcdc" textLength="58.0" lengthAdjust="spacingAndGlyphs">BTCUSD</text>
</svg>
<text x="1858" y="847" font-size="10" fill="#fff">6</text><text x="1858" y="852" font-size="10" fill="#fff">0</text>
<text x="1858" y="872" font-size="10" fill="#fff">6</text><text x="1858" y="877" font-size="10" fill="#fff">0</text>
<text x="4.4" y="896" font-size="12" fill="#fff" textLength="70" lengthAdjust="spacingAndGlyphs">22 Sep 2023</text>
<text x="100.4" y="896" font-size="12" fill="#fff" textLength="73.75" lengthAdjust="spacingAndGlyphs">26 Sep 12:00</text>
<text x="196.4" y="896" font-size="12" fill="#fff" textLength="74" lengthAdjust="spacingAndGlyphs">28 Sep 12:00</text>
<text x="292.4" y="896" font-size="12" fill="#fff" textLength="66.6" lengthAdjust="spacingAndGlyphs">2 Oct 12:00</text>
<text x="388.4" y="896" font-size="12" fill="#fff" textLength="66.6" lengthAdjust="spacingAndGlyphs">4 Oct 12:00</text>
<text x="484.4" y="896" font-size="12" fill="#fff" textLength="66.25" lengthAdjust="spacingAndGlyphs">6 Oct 12:00</text>
<text x="580.4" y="896" font-size="12" fill="#fff" textLength="73.4" lengthAdjust="spacingAndGlyphs">10 Oct 12:00</text>
<text x="676.4" y="896" font-size="12" fill="#fff" textLength="73.4" lengthAdjust="spacingAndGlyphs">12 Oct 12:00</text>
<text x="772.4" y="896" font-size="12" fill="#fff" textLength="73.4" lengthAdjust="spacingAndGlyphs">16 Oct 12:00</text>
<text x="868.4" y="896" font-size="12" fill="#fff" textLength="73.75" lengthAdjust="spacingAndGlyphs">18 Oct 12:00</text>
<text x="964.4" y="896" font-size="12" fill="#fff" textLength="73.4" lengthAdjust="spacingAndGlyphs">20 Oct 12:00</text>
<text x="1060.4" y="896" font-size="12" fill="#fff" textLength="73.4" lengthAdjust="spacingAndGlyphs">24 Oct 12:00</text>
<text x="1156.4" y="896" font-size="12" fill="#fff" textLength="73.4" lengthAdjust="spacingAndGlyphs">26 Oct 12:00</text>
<text x="1252.4" y="896" font-size="12" fill="#fff" textLength="73.5" lengthAdjust="spacingAndGlyphs">30 Oct 08:00</text>
<text x="1348.4" y="896" font-size="12" fill="#fff" textLength="67" lengthAdjust="spacingAndGlyphs">1 Nov 08:00</text>
<text x="1444.4" y="896" font-size="12" fill="#fff" textLength="67.5" lengthAdjust="spacingAndGlyphs">3 Nov 08:00</text>
<g shape-rendering="crispEdges"><rect x="4" y="4" width="1851" height="1" fill="#fff"/><rect x="4" y="415" width="1851" height="1" fill="#fff"/><rect x="4" y="4" width="1" height="412" fill="#fff"/><rect x="1854" y="4" width="1" height="412" fill="#fff"/><rect x="4" y="417" width="1851" height="1" fill="#fff"/><rect x="4" y="432" width="1851" height="1" fill="#fff"/><rect x="4" y="417" width="1" height="16" fill="#fff"/><rect x="1854" y="417" width="1" height="16" fill="#fff"/><rect x="4" y="434" width="1851" height="1" fill="#fff"/><rect x="4" y="445" width="1851" height="1" fill="#fff"/><rect x="4" y="434" width="1" height="12" fill="#fff"/><rect x="1854" y="434" width="1" height="12" fill="#fff"/><rect x="4" y="447" width="1851" height="1" fill="#fff"/><rect x="4" y="460" width="1851" height="1" fill="#fff"/><rect x="4" y="447" width="1" height="14" fill="#fff"/><rect x="1854" y="447" width="1" height="14" fill="#fff"/><rect x="4" y="462" width="1851" height="1" fill="#fff"/><rect x="4" y="477" width="1851" height="1" fill="#fff"/><rect x="4" y="462" width="1" height="16" fill="#fff"/><rect x="1854" y="462" width="1" height="16" fill="#fff"/><rect x="4" y="479" width="1851" height="1" fill="#fff"/><rect x="4" y="599" width="1851" height="1" fill="#fff"/><rect x="4" y="479" width="1" height="121" fill="#fff"/><rect x="1854" y="479" width="1" height="121" fill="#fff"/><rect x="4" y="601" width="1851" height="1" fill="#fff"/><rect x="4" y="714" width="1851" height="1" fill="#fff"/><rect x="4" y="601" width="1" height="114" fill="#fff"/><rect x="1854" y="601" width="1" height="114" fill="#fff"/><rect x="4" y="716" width="1851" height="1" fill="#fff"/><rect x="4" y="729" width="1851" height="1" fill="#fff"/><rect x="4" y="716" width="1" height="14" fill="#fff"/><rect x="1854" y="716" width="1" height="14" fill="#fff"/><rect x="4" y="731" width="1851" height="1" fill="#fff"/><rect x="4" y="830" width="1851" height="1" fill="#fff"/><rect x="4" y="731" width="1" height="100" fill="#fff"/><rect x="1854" y="731" width="1" height="100" fill="#fff"/><rect x="4" y="832" width="1851" height="1" fill="#fff"/><rect x="4" y="856" width="1851" height="1" fill="#fff"/><rect x="4" y="832" width="1" height="25" fill="#fff"/><rect x="1854" y="832" width="1" height="25" fill="#fff"/><rect x="4" y="858" width="1851" height="1" fill="#fff"/><rect x="4" y="880" width="1851" height="1" fill="#fff"/><rect x="4" y="858" width="1" height="23" fill="#fff"/><rect x="1854" y="858" width="1" height="23" fill="#fff"/><rect x="1855" y="52" width="3" height="1" fill="#fff"/><rect x="1855" y="102" width="3" height="1" fill="#fff"/><rect x="1855" y="151" width="3" height="1" fill="#fff"/><rect x="1855" y="200" width="3" height="1" fill="#fff"/><rect x="1855" y="249" width="3" height="1" fill="#fff"/><rect x="1855" y="298" width="3" height="1" fill="#fff"/><rect x="1855" y="347" width="3" height="1" fill="#fff"/><rect x="1855" y="396" width="3" height="1" fill="#fff"/><rect x="5" y="880" width="1" height="4" fill="#fff"/><rect x="101" y="880" width="1" height="4" fill="#fff"/><rect x="197" y="880" width="1" height="4" fill="#fff"/><rect x="293" y="880" width="1" height="4" fill="#fff"/><rect x="389" y="880" width="1" height="4" fill="#fff"/><rect x="485" y="880" width="1" height="4" fill="#fff"/><rect x="581" y="880" width="1" height="4" fill="#fff"/><rect x="677" y="880" width="1" height="4" fill="#fff"/><rect x="773" y="880" width="1" height="4" fill="#fff"/><rect x="869" y="880" width="1" height="4" fill="#fff"/><rect x="965" y="880" width="1" height="4" fill="#fff"/><rect x="1061" y="880" width="1" height="4" fill="#fff"/><rect x="1157" y="880" width="1" height="4" fill="#fff"/><rect x="1253" y="880" width="1" height="4" fill="#fff"/><rect x="1349" y="880" width="1" height="4" fill="#fff"/><rect x="1445" y="880" width="1" height="4" fill="#fff"/></g>
</svg></body></html>
